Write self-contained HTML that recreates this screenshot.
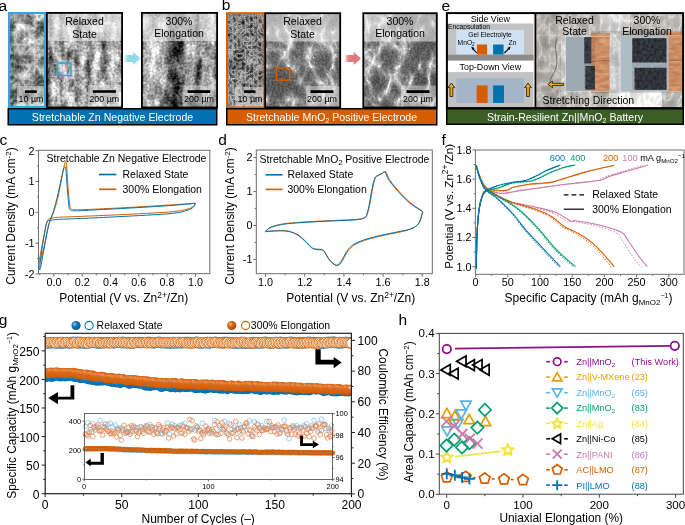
<!DOCTYPE html>
<html><head><meta charset="utf-8"><style>
html,body{margin:0;padding:0;background:#fff;overflow:hidden}
svg{display:block;will-change:transform}
text{font-family:"Liberation Sans",sans-serif}
</style></head><body>
<svg width="685" height="525" viewBox="0 0 685 525" font-family="Liberation Sans, sans-serif">
<defs>
<filter id="soft" x="-20%" y="-20%" width="140%" height="140%"><feGaussianBlur stdDeviation="1.6"/></filter>
<filter id="soft2" x="-20%" y="-20%" width="140%" height="140%"><feGaussianBlur stdDeviation="0.8"/></filter>
<filter id="fa1" x="0" y="0" width="100%" height="100%" color-interpolation-filters="sRGB"><feTurbulence type="fractalNoise" baseFrequency="0.09" numOctaves="4" seed="3" result="t0"/><feColorMatrix in="t0" type="matrix" values="1 0 0 0 0  1 0 0 0 0  1 0 0 0 0  0 0 0 0 1" result="g0"/><feComposite in="SourceGraphic" in2="g0" operator="arithmetic" k1="0" k2="1" k3="1.1" k4="-0.550" result="r0"/><feTurbulence type="turbulence" baseFrequency="0.2" numOctaves="2" seed="8" result="t1"/><feColorMatrix in="t1" type="matrix" values="-1 0 0 0 1  -1 0 0 0 1  -1 0 0 0 1  0 0 0 0 1" result="g1"/><feComposite in="r0" in2="g1" operator="arithmetic" k1="0" k2="1" k3="0.5" k4="-0.355" result="r1"/></filter>
<filter id="fa2" x="0" y="0" width="100%" height="100%" color-interpolation-filters="sRGB"><feTurbulence type="fractalNoise" baseFrequency="0.12 0.06" numOctaves="3" seed="5" result="t0"/><feColorMatrix in="t0" type="matrix" values="1 0 0 0 0  1 0 0 0 0  1 0 0 0 0  0 0 0 0 1" result="g0"/><feComposite in="SourceGraphic" in2="g0" operator="arithmetic" k1="0" k2="1" k3="1.1" k4="-0.550" result="r0"/><feTurbulence type="fractalNoise" baseFrequency="0.4" numOctaves="2" seed="8" result="t1"/><feColorMatrix in="t1" type="matrix" values="1 0 0 0 0  1 0 0 0 0  1 0 0 0 0  0 0 0 0 1" result="g1"/><feComposite in="r0" in2="g1" operator="arithmetic" k1="0" k2="1" k3="0.6" k4="-0.300" result="r1"/></filter>
<filter id="fa3" x="0" y="0" width="100%" height="100%" color-interpolation-filters="sRGB"><feTurbulence type="fractalNoise" baseFrequency="0.1 0.05" numOctaves="3" seed="11" result="t0"/><feColorMatrix in="t0" type="matrix" values="1 0 0 0 0  1 0 0 0 0  1 0 0 0 0  0 0 0 0 1" result="g0"/><feComposite in="SourceGraphic" in2="g0" operator="arithmetic" k1="0" k2="1" k3="1.0" k4="-0.500" result="r0"/><feTurbulence type="fractalNoise" baseFrequency="0.4" numOctaves="2" seed="8" result="t1"/><feColorMatrix in="t1" type="matrix" values="1 0 0 0 0  1 0 0 0 0  1 0 0 0 0  0 0 0 0 1" result="g1"/><feComposite in="r0" in2="g1" operator="arithmetic" k1="0" k2="1" k3="0.6" k4="-0.300" result="r1"/></filter>
<filter id="fb1" x="0" y="0" width="100%" height="100%" color-interpolation-filters="sRGB"><feTurbulence type="turbulence" baseFrequency="0.24" numOctaves="3" seed="4" result="t0"/><feColorMatrix in="t0" type="matrix" values="-1 0 0 0 1  -1 0 0 0 1  -1 0 0 0 1  0 0 0 0 1" result="g0"/><feComposite in="SourceGraphic" in2="g0" operator="arithmetic" k1="0" k2="1" k3="0.9" k4="-0.639" result="r0"/><feTurbulence type="fractalNoise" baseFrequency="0.07" numOctaves="2" seed="6" result="t1"/><feColorMatrix in="t1" type="matrix" values="1 0 0 0 0  1 0 0 0 0  1 0 0 0 0  0 0 0 0 1" result="g1"/><feComposite in="r0" in2="g1" operator="arithmetic" k1="0" k2="1" k3="0.35" k4="-0.175" result="r1"/></filter>
<filter id="fb2" x="0" y="0" width="100%" height="100%" color-interpolation-filters="sRGB"><feTurbulence type="turbulence" baseFrequency="0.045 0.03" numOctaves="3" seed="9" result="t0"/><feColorMatrix in="t0" type="matrix" values="-1 0 0 0 1  -1 0 0 0 1  -1 0 0 0 1  0 0 0 0 1" result="g0"/><feComponentTransfer in="g0" result="h0"><feFuncR type="gamma" amplitude="1" exponent="5" offset="0"/><feFuncG type="gamma" amplitude="1" exponent="5" offset="0"/><feFuncB type="gamma" amplitude="1" exponent="5" offset="0"/></feComponentTransfer><feComposite in="SourceGraphic" in2="h0" operator="arithmetic" k1="0" k2="1" k3="0.75" k4="-0.225" result="r0"/><feTurbulence type="fractalNoise" baseFrequency="0.5" numOctaves="2" seed="3" result="t1"/><feColorMatrix in="t1" type="matrix" values="1 0 0 0 0  1 0 0 0 0  1 0 0 0 0  0 0 0 0 1" result="g1"/><feComposite in="r0" in2="g1" operator="arithmetic" k1="0" k2="1" k3="0.35" k4="-0.175" result="r1"/></filter>
<filter id="fb3" x="0" y="0" width="100%" height="100%" color-interpolation-filters="sRGB"><feTurbulence type="turbulence" baseFrequency="0.05 0.03" numOctaves="3" seed="19" result="t0"/><feColorMatrix in="t0" type="matrix" values="-1 0 0 0 1  -1 0 0 0 1  -1 0 0 0 1  0 0 0 0 1" result="g0"/><feComponentTransfer in="g0" result="h0"><feFuncR type="gamma" amplitude="1" exponent="5" offset="0"/><feFuncG type="gamma" amplitude="1" exponent="5" offset="0"/><feFuncB type="gamma" amplitude="1" exponent="5" offset="0"/></feComponentTransfer><feComposite in="SourceGraphic" in2="h0" operator="arithmetic" k1="0" k2="1" k3="0.75" k4="-0.225" result="r0"/><feTurbulence type="fractalNoise" baseFrequency="0.5" numOctaves="2" seed="3" result="t1"/><feColorMatrix in="t1" type="matrix" values="1 0 0 0 0  1 0 0 0 0  1 0 0 0 0  0 0 0 0 1" result="g1"/><feComposite in="r0" in2="g1" operator="arithmetic" k1="0" k2="1" k3="0.35" k4="-0.175" result="r1"/></filter>
<clipPath id="clip_fa1"><rect x="9" y="13" width="36" height="94"/></clipPath>
<clipPath id="clip_fa2"><rect x="47" y="13" width="75" height="95"/></clipPath>
<linearGradient id="arrA" x1="0" x2="1"><stop offset="0" stop-color="#8fdbe6" stop-opacity="0.2"/><stop offset="0.25" stop-color="#8fdbe6"/></linearGradient>
<clipPath id="clip_fa3"><rect x="142" y="13" width="75" height="95"/></clipPath>
<clipPath id="clip_fb1"><rect x="227" y="13" width="37" height="94"/></clipPath>
<clipPath id="clip_fb2"><rect x="265" y="13" width="75" height="95"/></clipPath>
<linearGradient id="arrB" x1="0" x2="1"><stop offset="0" stop-color="#e07a7f" stop-opacity="0.2"/><stop offset="0.25" stop-color="#e07a7f"/></linearGradient>
<clipPath id="clip_fb3"><rect x="363" y="13" width="74" height="95"/></clipPath>
<clipPath id="clipPhoto"><rect x="536" y="13.5" width="146.5" height="94.5"/></clipPath>
<filter id="fph" x="0" y="0" width="100%" height="100%" color-interpolation-filters="sRGB"><feTurbulence type="fractalNoise" baseFrequency="0.05" numOctaves="4" seed="21" result="t0"/><feColorMatrix in="t0" type="matrix" values="1 0 0 0 0  1 0 0 0 0  1 0 0 0 0  0 0 0 0 1" result="g0"/><feComposite in="SourceGraphic" in2="g0" operator="arithmetic" k1="0" k2="1" k3="0.22" k4="-0.110" result="r0"/><feTurbulence type="turbulence" baseFrequency="0.1 0.07" numOctaves="3" seed="4" result="t1"/><feColorMatrix in="t1" type="matrix" values="-1 0 0 0 1  -1 0 0 0 1  -1 0 0 0 1  0 0 0 0 1" result="g1"/><feComponentTransfer in="g1" result="h1"><feFuncR type="gamma" amplitude="1" exponent="4" offset="0"/><feFuncG type="gamma" amplitude="1" exponent="4" offset="0"/><feFuncB type="gamma" amplitude="1" exponent="4" offset="0"/></feComponentTransfer><feComposite in="r0" in2="h1" operator="arithmetic" k1="0" k2="1" k3="0.25" k4="-0.075" result="r1"/></filter>
<filter id="fdark" x="0" y="0" width="100%" height="100%" color-interpolation-filters="sRGB"><feTurbulence type="fractalNoise" baseFrequency="0.35" numOctaves="3" seed="12" result="t0"/><feColorMatrix in="t0" type="matrix" values="1 0 0 0 0  1 0 0 0 0  1 0 0 0 0  0 0 0 0 1" result="g0"/><feComposite in="SourceGraphic" in2="g0" operator="arithmetic" k1="0" k2="1" k3="0.22" k4="-0.110" result="r0"/></filter>
<filter id="fcu" x="0" y="0" width="100%" height="100%" color-interpolation-filters="sRGB"><feTurbulence type="fractalNoise" baseFrequency="0.1 0.3" numOctaves="3" seed="14" result="t0"/><feColorMatrix in="t0" type="matrix" values="1 0 0 0 0  1 0 0 0 0  1 0 0 0 0  0 0 0 0 1" result="g0"/><feComposite in="SourceGraphic" in2="g0" operator="arithmetic" k1="0" k2="1" k3="0.25" k4="-0.125" result="r0"/></filter>
<clipPath id="clipG"><rect x="45.2" y="333.3" width="306.2" height="160.39999999999998"/></clipPath>
<radialGradient id="gO2" cx="0.32" cy="0.3" r="0.75"><stop offset="0" stop-color="#f7d2b5"/><stop offset="0.3" stop-color="#dc6a1a"/><stop offset="1" stop-color="#cf5800"/></radialGradient>
<radialGradient id="gB2" cx="0.32" cy="0.3" r="0.75"><stop offset="0" stop-color="#a8d4f0"/><stop offset="0.3" stop-color="#1a7fc0"/><stop offset="1" stop-color="#006aa8"/></radialGradient>
<radialGradient id="gB" cx="0.35" cy="0.35" r="0.7"><stop offset="0" stop-color="#9fd0f0"/><stop offset="0.35" stop-color="#1a7fc0"/><stop offset="1" stop-color="#075a92"/></radialGradient>
<radialGradient id="gO" cx="0.35" cy="0.35" r="0.7"><stop offset="0" stop-color="#f6c39a"/><stop offset="0.35" stop-color="#dd6a14"/><stop offset="1" stop-color="#a84500"/></radialGradient>
</defs>
<rect width="685" height="525" fill="#fff"/>
<text x="-1.5" y="10.6" font-size="15.5" fill="#000" text-anchor="start" >a</text>
<text x="221.8" y="10.0" font-size="15.5" fill="#000" text-anchor="start" >b</text>
<text x="441.4" y="10.6" font-size="15.5" fill="#000" text-anchor="start" >e</text>
<g clip-path="url(#clip_fa1)">
<g filter="url(#fa1)">
<rect x="9" y="13" width="36" height="94" fill="#8c8c8c"/>
<g filter="url(#soft)">
<rect x="9" y="13" width="6" height="94" fill="#707070"/>
<ellipse cx="31" cy="44" rx="9" ry="10" fill="#d0d0d0"/>
<ellipse cx="29" cy="47" rx="5" ry="5" fill="#9a9a9a"/>
<ellipse cx="21" cy="28" rx="6" ry="5" fill="#c0c0c0"/>
<ellipse cx="38" cy="62" rx="6" ry="9" fill="#c4c4c4"/>
<ellipse cx="22" cy="62" rx="4" ry="7" fill="#6c6c6c"/>
<ellipse cx="18" cy="80" rx="7" ry="6" fill="#b8b8b8"/>
<ellipse cx="33" cy="80" rx="4" ry="5" fill="#787878"/>
</g>
</g>
</g>
<rect x="17" y="86" width="28" height="21" fill="#f0f0f0" stroke="none" stroke-width="1" opacity="0.45"/>
<rect x="24.9" y="90.3" width="11.9" height="2.6" fill="#000" stroke="none" stroke-width="1" />
<text x="31" y="102.3" font-size="8.9" fill="#000" text-anchor="middle" >10 µm</text>
<rect x="9" y="13" width="36" height="94" fill="none" stroke="#29ABE2" stroke-width="2" />
<g clip-path="url(#clip_fa2)">
<g filter="url(#fa2)">
<rect x="47" y="13" width="75" height="95" fill="#a0a0a0"/>
<g filter="url(#soft)">
<rect x="47" y="13" width="75" height="95" fill="#666666"/>
<rect x="52" y="13" width="8" height="95" rx="3" fill="#b6b6b6"/>
<rect x="63" y="13" width="12.5" height="95" rx="3" fill="#b6b6b6"/>
<rect x="79" y="13" width="8" height="95" rx="3" fill="#b6b6b6"/>
<rect x="91" y="13" width="13" height="95" rx="3" fill="#b6b6b6"/>
<rect x="107" y="13" width="14" height="95" rx="3" fill="#b6b6b6"/>
<ellipse cx="70" cy="95" rx="6" ry="10" fill="#c4c4c4"/>
<ellipse cx="84" cy="55" rx="5" ry="8" fill="#bcbcbc"/>
</g>
</g>
</g>
<rect x="47" y="13" width="75" height="28" fill="#f4f4f4" stroke="none" stroke-width="1" opacity="0.55"/>
<text x="84.5" y="24.8" font-size="10.5" fill="#000" text-anchor="middle" >Relaxed</text>
<text x="84.5" y="37.7" font-size="10.5" fill="#000" text-anchor="middle" >State</text>
<rect x="88" y="85" width="34" height="22" fill="#f0f0f0" stroke="none" stroke-width="1" opacity="0.45"/>
<rect x="92.8" y="90.2" width="23.1" height="2.6" fill="#000" stroke="none" stroke-width="1" />
<text x="104.3" y="102.3" font-size="8.9" fill="#000" text-anchor="middle" >200 µm</text>
<rect x="57.5" y="63" width="13.5" height="12.5" fill="none" stroke="#29ABE2" stroke-width="1.5" />
<rect x="46.9" y="12.9" width="75.2" height="94.6" fill="none" stroke="#000" stroke-width="1.8" />
<path d="M124.2,55 L133.2,55 L133.2,52.1 L140.4,58.5 L133.2,65 L133.2,61.9 L124.2,61.9 Z" stroke="none" stroke-width="1" fill="url(#arrA)" />
<g clip-path="url(#clip_fa3)">
<g filter="url(#fa3)">
<rect x="142" y="13" width="75" height="95" fill="#6c6c6c"/>
<g filter="url(#soft)">
<rect x="142" y="13" width="75" height="95" fill="#4e4e4e"/>
<path d="M146,13 L168,13 C167,40 168,60 166,80 C164,95 160,100 158,108 L143,108 L143,13 Z" fill="#b4b4b4"/>
<path d="M185,13 L196,13 C196,40 195,70 194,95 L186,95 C184,70 184,40 185,13 Z" fill="#a0a0a0"/>
<path d="M200,13 L214,13 L214,100 L203,100 C202,80 200,40 200,13 Z" fill="#b0b0b0"/>
</g>
</g>
</g>
<rect x="142" y="13" width="75" height="28" fill="#f4f4f4" stroke="none" stroke-width="1" opacity="0.55"/>
<text x="179" y="24.8" font-size="10.5" fill="#000" text-anchor="middle" >300%</text>
<text x="179" y="36.9" font-size="10.5" fill="#000" text-anchor="middle" >Elongation</text>
<rect x="182.5" y="85.5" width="34" height="22" fill="#f0f0f0" stroke="none" stroke-width="1" opacity="0.45"/>
<rect x="187.5" y="90.2" width="22.8" height="2.8" fill="#000" stroke="none" stroke-width="1" />
<text x="199" y="102.3" font-size="8.9" fill="#000" text-anchor="middle" >200 µm</text>
<rect x="141.9" y="12.9" width="75.2" height="94.6" fill="none" stroke="#000" stroke-width="1.8" />
<rect x="8.25" y="108.75" width="208.5" height="16" fill="#0072B2" stroke="#000" stroke-width="1.5" />
<text x="112.5" y="121" font-size="10.6" fill="#fff" text-anchor="middle" >Stretchable Zn Negative Electrode</text>
<g clip-path="url(#clip_fb1)">
<g filter="url(#fb1)">
<rect x="227" y="13" width="37" height="94" fill="#808080"/>
</g>
</g>
<rect x="235" y="87" width="29" height="20" fill="#f0f0f0" stroke="none" stroke-width="1" opacity="0.45"/>
<rect x="244" y="90.3" width="11.5" height="2.6" fill="#000" stroke="none" stroke-width="1" />
<text x="250" y="102.3" font-size="8.9" fill="#000" text-anchor="middle" >10 µm</text>
<rect x="227" y="13.2" width="37.4" height="94.3" fill="none" stroke="#D55E00" stroke-width="2" />
<g clip-path="url(#clip_fb2)">
<g filter="url(#fb2)">
<rect x="265" y="13" width="75" height="95" fill="#909090"/>
</g>
</g>
<rect x="265" y="13" width="75" height="28.5" fill="#f4f4f4" stroke="none" stroke-width="1" opacity="0.55"/>
<text x="302.5" y="24.5" font-size="10.5" fill="#000" text-anchor="middle" >Relaxed</text>
<text x="302.5" y="37.5" font-size="10.5" fill="#000" text-anchor="middle" >State</text>
<rect x="306" y="86" width="34" height="21" fill="#f0f0f0" stroke="none" stroke-width="1" opacity="0.45"/>
<rect x="310.5" y="90.2" width="23" height="2.8" fill="#000" stroke="none" stroke-width="1" />
<text x="322" y="102.3" font-size="8.9" fill="#000" text-anchor="middle" >200 µm</text>
<rect x="276.3" y="67.8" width="13.4" height="12.4" fill="none" stroke="#D55E00" stroke-width="1.5" />
<rect x="265.2" y="13.2" width="75" height="94.3" fill="none" stroke="#000" stroke-width="1.8" />
<path d="M344.9,55 L353.7,55 L353.7,52.1 L360.9,58.5 L353.7,65 L353.7,61.9 L344.9,61.9 Z" stroke="none" stroke-width="1" fill="url(#arrB)" />
<g clip-path="url(#clip_fb3)">
<g filter="url(#fb3)">
<rect x="363" y="13" width="74" height="95" fill="#878787"/>
</g>
</g>
<rect x="363" y="13" width="74" height="28.5" fill="#f4f4f4" stroke="none" stroke-width="1" opacity="0.55"/>
<text x="400" y="24.8" font-size="10.5" fill="#000" text-anchor="middle" >300%</text>
<text x="400" y="36.9" font-size="10.5" fill="#000" text-anchor="middle" >Elongation</text>
<rect x="401" y="85.5" width="36" height="22" fill="#f0f0f0" stroke="none" stroke-width="1" opacity="0.45"/>
<rect x="406.5" y="90.2" width="23" height="2.8" fill="#000" stroke="none" stroke-width="1" />
<text x="418" y="102.3" font-size="8.9" fill="#000" text-anchor="middle" >200 µm</text>
<rect x="363.3" y="13.2" width="73.5" height="94.3" fill="none" stroke="#000" stroke-width="1.8" />
<rect x="226.75" y="108.75" width="210" height="16" fill="#D55E00" stroke="#000" stroke-width="1.5" />
<text x="331.5" y="121" font-size="10.6" fill="#fff" text-anchor="middle" >Stretchable MnO<tspan font-size="7" dy="2">2</tspan><tspan dy="-2"> Positive Electrode</tspan></text>
<rect x="447" y="13.5" width="86.5" height="94.5" fill="#c2c2c2" stroke="none" stroke-width="1" />
<rect x="447" y="13.5" width="86.5" height="10" fill="#fff" stroke="none" stroke-width="1" />
<text x="490.3" y="22.2" font-size="8.9" fill="#000" text-anchor="middle" >Side View</text>
<text x="448" y="28.5" font-size="6.7" fill="#000" text-anchor="start" >Encapsulation</text>
<rect x="456.2" y="29.9" width="67.8" height="24.8" fill="#cfe2f3" stroke="none" stroke-width="1" />
<text x="490" y="36.8" font-size="6.7" fill="#000" text-anchor="middle" >Gel Electrolyte</text>
<text x="457.6" y="44.5" font-size="6.7" fill="#000" text-anchor="start" >MnO<tspan font-size="4.8" dy="1.5">2</tspan></text>
<text x="508.6" y="44.5" font-size="6.7" fill="#000" text-anchor="start" >Zn</text>
<rect x="476.9" y="44.5" width="10.2" height="10.2" fill="#D55E00" stroke="none" stroke-width="1" />
<rect x="493.1" y="44.5" width="10.5" height="10.2" fill="#0072B2" stroke="none" stroke-width="1" />
<path d="M476.6,53 L472.8,48.6" stroke="#000" stroke-width="1.1" fill="none" />
<path d="M471.2,46.6 L474.6,47.9 L472.3,50.0 Z" stroke="#000" stroke-width="0" fill="#000" />
<path d="M504.4,53 L508.8,48.6" stroke="#000" stroke-width="1.1" fill="none" />
<path d="M510.6,46.6 L509.5,50.0 L507.2,47.9 Z" stroke="#000" stroke-width="0" fill="#000" />
<rect x="447" y="54.7" width="86.5" height="6" fill="#8c8c8c" stroke="none" stroke-width="1" />
<rect x="447" y="60.7" width="86.5" height="11.4" fill="#fff" stroke="none" stroke-width="1" />
<text x="490.3" y="69.8" font-size="8.9" fill="#000" text-anchor="middle" >Top-Down View</text>
<rect x="456.3" y="78.2" width="67.6" height="24.7" fill="#a4b5c9" stroke="none" stroke-width="1" />
<rect x="476.6" y="85.4" width="11" height="17.5" fill="#D55E00" stroke="none" stroke-width="1" />
<rect x="493.1" y="85.4" width="10.9" height="17.5" fill="#0072B2" stroke="none" stroke-width="1" />
<path d="M451.4,83 L454.79999999999995,87.6 L452.79999999999995,87.6 L452.79999999999995,96.5 L450.0,96.5 L450.0,87.6 L448.0,87.6 Z" stroke="#000" stroke-width="0.7" fill="#F2A900" />
<path d="M528,83 L531.4,87.6 L529.4,87.6 L529.4,96.5 L526.6,96.5 L526.6,87.6 L524.6,87.6 Z" stroke="#000" stroke-width="0.7" fill="#F2A900" />
<g clip-path="url(#clipPhoto)">
<g filter="url(#fph)">
<rect x="536" y="13.5" width="147" height="95" fill="#bcbab4" stroke="none" stroke-width="1" />
<rect x="536" y="13.5" width="30" height="22" fill="#b2b0aa" stroke="none" stroke-width="1" />
<rect x="536" y="36" width="30" height="72" fill="#b3b1ab" stroke="none" stroke-width="1" />
<rect x="561" y="36" width="5" height="60" fill="#cfcfcb" stroke="none" stroke-width="1" />
<rect x="609" y="13.5" width="12" height="95" fill="#e2e2e2" stroke="none" stroke-width="1" />
<rect x="612" y="92" width="50" height="16" fill="#ececec" stroke="none" stroke-width="1" />
<rect x="600" y="13.5" width="30" height="20" fill="#dadada" stroke="none" stroke-width="1" />
</g>
<g filter="url(#fcu)">
<rect x="591" y="33.5" width="18.6" height="58.7" fill="#cc8f66" stroke="none" stroke-width="1" />
<rect x="666.4" y="31.7" width="16" height="60.3" fill="#cc8c64" stroke="none" stroke-width="1" />
</g>
<line x1="591" y1="61.4" x2="609.6" y2="60.5" stroke="#6b4a35" stroke-width="0.6" />
<line x1="666.4" y1="60.5" x2="683" y2="60" stroke="#6b4a35" stroke-width="0.6" />
<rect x="565.8" y="36.8" width="25.2" height="54" fill="#9eaab3" stroke="none" stroke-width="1" />
<g filter="url(#fdark)">
<rect x="584.4" y="37.2" width="6.8" height="26.1" fill="#353a41" stroke="none" stroke-width="1" />
<rect x="585.4" y="66.0" width="9.6" height="23.4" fill="#353a41" stroke="none" stroke-width="1" />
</g>
<rect x="620.4" y="36.1" width="48.2" height="54.7" fill="#aebcc5" stroke="none" stroke-width="1" />
<g filter="url(#fdark)">
<rect x="632.4" y="38.3" width="34" height="24.1" fill="#30343a" stroke="none" stroke-width="1" />
<rect x="634.6" y="67.8" width="31.8" height="21.9" fill="#30343a" stroke="none" stroke-width="1" />
</g>
<rect x="565.5" y="36.5" width="44.5" height="55" fill="none" stroke="#e8e8e8" stroke-width="0.6" opacity="0.7"/>
<rect x="620.2" y="35.8" width="62" height="55.5" fill="none" stroke="#e8e8e8" stroke-width="0.6" opacity="0.7"/>
<path d="M557,38 C553,48 559,58 556,68 C553,76 548,80 551,86" stroke="#4a4a4a" stroke-width="0.7" fill="none" />
</g>
<text x="574.5" y="23.5" font-size="10.5" fill="#000" text-anchor="middle" >Relaxed</text>
<text x="574.5" y="35.4" font-size="10.5" fill="#000" text-anchor="middle" >State</text>
<text x="647" y="23.5" font-size="10.5" fill="#000" text-anchor="middle" >300%</text>
<text x="647" y="35.4" font-size="10.5" fill="#000" text-anchor="middle" >Elongation</text>
<text x="588.4" y="103.5" font-size="10.5" fill="#000" text-anchor="middle" >Stretching Direction</text>
<path d="M547.8,84.4 L552.5,81.2 L552.5,83.3 L563.4,83.3 L563.4,85.5 L552.5,85.5 L552.5,87.6 Z" stroke="#000" stroke-width="0.7" fill="#F2A900" />
<rect x="534.5" y="13" width="1.8" height="95" fill="#000" stroke="none" stroke-width="1" />
<rect x="446.9" y="13.1" width="236.2" height="95" fill="none" stroke="#000" stroke-width="2" />
<rect x="446.75" y="108.75" width="236.5" height="15.5" fill="#3A5E26" stroke="#000" stroke-width="1.5" />
<text x="565" y="120.9" font-size="10.6" fill="#fff" text-anchor="middle" >Strain-Resilient Zn||MnO<tspan font-size="7" dy="2">2</tspan><tspan dy="-2"> Battery</tspan></text>
<text x="-0.5" y="145" font-size="15.5" fill="#000" text-anchor="start" >c</text>
<path d="M195.30,203.10 C194.95,203.68 194.58,205.58 193.20,206.60 C191.82,207.62 190.87,208.32 187.00,209.20 C183.13,210.08 181.17,210.98 170.00,211.90 C158.83,212.82 135.00,213.95 120.00,214.70 C105.00,215.45 90.00,215.98 80.00,216.40 C70.00,216.82 64.67,216.93 60.00,217.20 C55.33,217.47 53.73,217.77 52.00,218.00 C50.27,218.23 50.25,218.30 49.60,218.60 C48.95,218.90 48.67,218.65 48.10,219.80 C47.53,220.95 46.92,222.63 46.20,225.50 C45.48,228.37 44.63,232.92 43.80,237.00 C42.97,241.08 41.93,246.17 41.20,250.00 C40.47,253.83 39.77,257.77 39.40,260.00 C39.03,262.23 38.87,263.15 39.00,263.40 C39.13,263.65 39.73,262.73 40.20,261.50 C40.67,260.27 41.13,258.58 41.80,256.00 C42.47,253.42 43.37,249.83 44.20,246.00 C45.03,242.17 46.00,236.67 46.80,233.00 C47.60,229.33 48.35,226.30 49.00,224.00 C49.65,221.70 50.15,220.60 50.70,219.20 C51.25,217.80 51.72,217.05 52.30,215.60 C52.88,214.15 53.55,212.43 54.20,210.50 C54.85,208.57 55.45,206.75 56.20,204.00 C56.95,201.25 57.77,198.33 58.70,194.00 C59.63,189.67 60.85,182.83 61.80,178.00 C62.75,173.17 63.70,167.73 64.40,165.00 C65.10,162.27 65.58,160.77 66.00,161.60 C66.42,162.43 66.53,165.27 66.90,170.00 C67.27,174.73 67.73,184.17 68.20,190.00 C68.67,195.83 69.30,201.97 69.70,205.00 C70.10,208.03 70.13,207.47 70.60,208.20 C71.07,208.93 71.60,209.15 72.50,209.40 C73.40,209.65 73.92,209.67 76.00,209.70 C78.08,209.73 76.72,209.95 85.00,209.60 C93.28,209.25 111.62,208.37 125.70,207.60 C139.78,206.83 158.78,205.68 169.50,205.00 C180.22,204.32 185.70,203.82 190.00,203.50 C194.30,203.18 194.42,203.17 195.30,203.10" stroke="#D55E00" stroke-width="1.0" fill="none" />
<path d="M195.30,203.30 C194.95,203.95 194.58,206.02 193.20,207.20 C191.82,208.38 190.87,209.33 187.00,210.40 C183.13,211.47 181.17,212.57 170.00,213.60 C158.83,214.63 135.00,215.78 120.00,216.60 C105.00,217.42 90.00,218.05 80.00,218.50 C70.00,218.95 64.67,219.05 60.00,219.30 C55.33,219.55 53.90,219.78 52.00,220.00 C50.10,220.22 49.48,220.20 48.60,220.60 C47.72,221.00 47.30,220.83 46.70,222.40 C46.10,223.97 45.62,226.73 45.00,230.00 C44.38,233.27 43.67,237.67 43.00,242.00 C42.33,246.33 41.53,252.00 41.00,256.00 C40.47,260.00 40.03,263.70 39.80,266.00 C39.57,268.30 39.47,269.55 39.60,269.80 C39.73,270.05 40.17,269.30 40.60,267.50 C41.03,265.70 41.53,262.58 42.20,259.00 C42.87,255.42 43.80,250.33 44.60,246.00 C45.40,241.67 46.27,236.67 47.00,233.00 C47.73,229.33 48.45,226.23 49.00,224.00 C49.55,221.77 49.83,220.97 50.30,219.60 C50.77,218.23 51.30,217.10 51.80,215.80 C52.30,214.50 52.77,213.52 53.30,211.80 C53.83,210.08 54.30,208.13 55.00,205.50 C55.70,202.87 56.57,199.92 57.50,196.00 C58.43,192.08 59.63,186.33 60.60,182.00 C61.57,177.67 62.60,172.45 63.30,170.00 C64.00,167.55 64.37,167.30 64.80,167.30 C65.23,167.30 65.47,166.22 65.90,170.00 C66.33,173.78 66.92,184.17 67.40,190.00 C67.88,195.83 68.43,201.83 68.80,205.00 C69.17,208.17 69.15,208.07 69.60,209.00 C70.05,209.93 70.60,210.30 71.50,210.60 C72.40,210.90 72.75,210.83 75.00,210.80 C77.25,210.77 76.55,210.82 85.00,210.40 C93.45,209.98 111.62,209.10 125.70,208.30 C139.78,207.50 158.78,206.33 169.50,205.60 C180.22,204.87 185.70,204.28 190.00,203.90 C194.30,203.52 194.42,203.40 195.30,203.30" stroke="#0072B2" stroke-width="1.0" fill="none" />
<rect x="38.5" y="150.3" width="171.3" height="123.39999999999998" fill="none" stroke="#6f6f6f" stroke-width="1" />
<line x1="35.5" y1="150.70000000000002" x2="38.5" y2="150.70000000000002" stroke="#6f6f6f" stroke-width="1" />
<line x1="35.5" y1="181.5" x2="38.5" y2="181.5" stroke="#6f6f6f" stroke-width="1" />
<line x1="35.5" y1="212.3" x2="38.5" y2="212.3" stroke="#6f6f6f" stroke-width="1" />
<line x1="35.5" y1="243.10000000000002" x2="38.5" y2="243.10000000000002" stroke="#6f6f6f" stroke-width="1" />
<line x1="35.5" y1="273.90000000000003" x2="38.5" y2="273.90000000000003" stroke="#6f6f6f" stroke-width="1" />
<line x1="36.9" y1="166.10000000000002" x2="38.5" y2="166.10000000000002" stroke="#6f6f6f" stroke-width="1" />
<line x1="36.9" y1="196.9" x2="38.5" y2="196.9" stroke="#6f6f6f" stroke-width="1" />
<line x1="36.9" y1="227.70000000000002" x2="38.5" y2="227.70000000000002" stroke="#6f6f6f" stroke-width="1" />
<line x1="36.9" y1="258.5" x2="38.5" y2="258.5" stroke="#6f6f6f" stroke-width="1" />
<line x1="53.9" y1="273.7" x2="53.9" y2="276.7" stroke="#6f6f6f" stroke-width="1" />
<line x1="82.2" y1="273.7" x2="82.2" y2="276.7" stroke="#6f6f6f" stroke-width="1" />
<line x1="110.5" y1="273.7" x2="110.5" y2="276.7" stroke="#6f6f6f" stroke-width="1" />
<line x1="138.79999999999998" y1="273.7" x2="138.79999999999998" y2="276.7" stroke="#6f6f6f" stroke-width="1" />
<line x1="167.1" y1="273.7" x2="167.1" y2="276.7" stroke="#6f6f6f" stroke-width="1" />
<line x1="195.4" y1="273.7" x2="195.4" y2="276.7" stroke="#6f6f6f" stroke-width="1" />
<line x1="39.75" y1="273.7" x2="39.75" y2="275.3" stroke="#6f6f6f" stroke-width="1" />
<line x1="68.05" y1="273.7" x2="68.05" y2="275.3" stroke="#6f6f6f" stroke-width="1" />
<line x1="96.35" y1="273.7" x2="96.35" y2="275.3" stroke="#6f6f6f" stroke-width="1" />
<line x1="124.65" y1="273.7" x2="124.65" y2="275.3" stroke="#6f6f6f" stroke-width="1" />
<line x1="152.95" y1="273.7" x2="152.95" y2="275.3" stroke="#6f6f6f" stroke-width="1" />
<line x1="181.25" y1="273.7" x2="181.25" y2="275.3" stroke="#6f6f6f" stroke-width="1" />
<text x="34.6" y="154.50000000000003" font-size="10.8" fill="#000" text-anchor="end" >2</text>
<text x="34.6" y="185.3" font-size="10.8" fill="#000" text-anchor="end" >1</text>
<text x="34.6" y="216.10000000000002" font-size="10.8" fill="#000" text-anchor="end" >0</text>
<text x="34.6" y="246.90000000000003" font-size="10.8" fill="#000" text-anchor="end" >-1</text>
<text x="34.6" y="277.70000000000005" font-size="10.8" fill="#000" text-anchor="end" >-2</text>
<text x="53.9" y="286" font-size="10.8" fill="#000" text-anchor="middle" >0.0</text>
<text x="82.2" y="286" font-size="10.8" fill="#000" text-anchor="middle" >0.2</text>
<text x="110.5" y="286" font-size="10.8" fill="#000" text-anchor="middle" >0.4</text>
<text x="138.79999999999998" y="286" font-size="10.8" fill="#000" text-anchor="middle" >0.6</text>
<text x="167.1" y="286" font-size="10.8" fill="#000" text-anchor="middle" >0.8</text>
<text x="195.4" y="286" font-size="10.8" fill="#000" text-anchor="middle" >1.0</text>
<text x="123.7" y="302.1" font-size="12" fill="#000" text-anchor="middle" >Potential (V vs. Zn<tspan font-size="8.4" dy="-4.2">2+</tspan><tspan dy="4.2">/Zn)</tspan></text>
<text x="0" y="0" font-size="11.9" text-anchor="middle" transform="translate(15.0,216.0) rotate(-90)">Current Density (mA cm<tspan font-size="8" dy="-4">-2</tspan><tspan dy="4">)</tspan></text>
<text x="126.5" y="161.6" font-size="10.5" fill="#000" text-anchor="middle" >Stretchable Zn Negative Electrode</text>
<line x1="99" y1="174.5" x2="116.3" y2="174.5" stroke="#0072B2" stroke-width="1.7" />
<line x1="99" y1="189.3" x2="116.3" y2="189.3" stroke="#D55E00" stroke-width="1.7" />
<text x="122.5" y="178.1" font-size="10.5" fill="#000" text-anchor="start" >Relaxed State</text>
<text x="122.5" y="192.8" font-size="10.5" fill="#000" text-anchor="start" >300% Elongation</text>
<text x="218.3" y="145" font-size="15.5" fill="#000" text-anchor="start" >d</text>
<path d="M265.50,231.80 C266.35,231.03 267.32,228.57 270.60,227.20 C273.88,225.83 277.90,224.57 285.20,223.60 C292.50,222.63 305.17,221.97 314.40,221.40 C323.63,220.83 333.57,220.53 340.60,220.20 C347.63,219.87 352.65,219.78 356.60,219.40 C360.55,219.02 362.58,218.58 364.30,217.90 C366.02,217.22 366.03,217.30 366.90,215.30 C367.77,213.30 368.50,210.62 369.50,205.90 C370.50,201.18 371.90,191.72 372.90,187.00 C373.90,182.28 374.65,179.53 375.50,177.60 C376.35,175.67 376.87,176.12 378.00,175.40 C379.13,174.68 381.02,173.93 382.30,173.30 C383.58,172.67 384.55,170.60 385.70,171.60 C386.85,172.60 387.62,176.73 389.20,179.30 C390.78,181.87 392.78,184.13 395.20,187.00 C397.62,189.87 400.85,193.63 403.70,196.50 C406.55,199.37 409.25,201.78 412.30,204.20 C415.35,206.62 420.38,209.43 422.00,211.00 C423.62,212.57 422.47,211.60 422.00,213.60 C421.53,215.60 420.82,220.57 419.20,223.00 C417.58,225.43 415.17,226.77 412.30,228.20 C409.43,229.63 406.57,230.45 402.00,231.60 C397.43,232.75 390.62,233.80 384.90,235.10 C379.18,236.40 372.42,237.97 367.70,239.40 C362.98,240.83 359.37,242.35 356.60,243.70 C353.83,245.05 352.68,246.08 351.10,247.50 C349.52,248.92 348.73,249.70 347.10,252.20 C345.47,254.70 343.12,260.27 341.30,262.50 C339.48,264.73 338.25,266.10 336.20,265.60 C334.15,265.10 330.93,261.73 329.00,259.50 C327.07,257.27 325.82,253.78 324.60,252.20 C323.38,250.62 323.15,250.43 321.70,250.00 C320.25,249.57 317.60,249.97 315.90,249.60 C314.20,249.23 313.45,249.32 311.50,247.80 C309.55,246.28 306.63,242.68 304.20,240.50 C301.77,238.32 300.07,236.35 296.90,234.70 C293.73,233.05 290.43,231.08 285.20,230.60 C279.97,230.12 268.78,231.60 265.50,231.80" stroke="#D55E00" stroke-width="1.0" fill="none" />
<path d="M265.50,231.30 C266.35,230.68 267.32,228.82 270.60,227.60 C273.88,226.38 277.90,224.97 285.20,224.00 C292.50,223.03 305.27,222.37 314.40,221.80 C323.53,221.23 333.07,220.93 340.00,220.60 C346.93,220.27 352.05,220.18 356.00,219.80 C359.95,219.42 361.98,218.98 363.70,218.30 C365.42,217.62 365.43,217.70 366.30,215.70 C367.17,213.70 367.90,211.02 368.90,206.30 C369.90,201.58 371.30,192.12 372.30,187.40 C373.30,182.68 374.05,179.93 374.90,178.00 C375.75,176.07 376.27,176.52 377.40,175.80 C378.53,175.08 380.42,174.33 381.70,173.70 C382.98,173.07 383.95,171.00 385.10,172.00 C386.25,173.00 387.02,177.13 388.60,179.70 C390.18,182.27 392.18,184.53 394.60,187.40 C397.02,190.27 400.25,194.03 403.10,196.90 C405.95,199.77 408.55,202.18 411.70,204.60 C414.85,207.02 420.28,209.83 422.00,211.40 C423.72,212.97 422.57,212.00 422.00,214.00 C421.43,216.00 420.32,220.97 418.60,223.40 C416.88,225.83 414.57,227.32 411.70,228.60 C408.83,229.88 405.97,230.10 401.40,231.10 C396.83,232.10 390.02,233.30 384.30,234.60 C378.58,235.90 371.82,237.47 367.10,238.90 C362.38,240.33 358.77,241.85 356.00,243.20 C353.23,244.55 352.08,245.58 350.50,247.00 C348.92,248.42 348.13,249.20 346.50,251.70 C344.87,254.20 342.52,259.77 340.70,262.00 C338.88,264.23 337.55,265.60 335.60,265.10 C333.65,264.60 330.83,261.23 329.00,259.00 C327.17,256.77 325.82,253.28 324.60,251.70 C323.38,250.12 323.15,249.93 321.70,249.50 C320.25,249.07 317.60,249.47 315.90,249.10 C314.20,248.73 313.45,248.82 311.50,247.30 C309.55,245.78 306.63,242.18 304.20,240.00 C301.77,237.82 300.07,235.70 296.90,234.20 C293.73,232.70 290.43,231.48 285.20,231.00 C279.97,230.52 268.78,231.25 265.50,231.30" stroke="#0072B2" stroke-width="1.0" fill="none" />
<rect x="256.3" y="150.0" width="176.0" height="123.69999999999999" fill="none" stroke="#6f6f6f" stroke-width="1" />
<line x1="253.3" y1="157.5" x2="256.3" y2="157.5" stroke="#6f6f6f" stroke-width="1" />
<line x1="253.3" y1="191.5" x2="256.3" y2="191.5" stroke="#6f6f6f" stroke-width="1" />
<line x1="253.3" y1="225.5" x2="256.3" y2="225.5" stroke="#6f6f6f" stroke-width="1" />
<line x1="253.3" y1="259.5" x2="256.3" y2="259.5" stroke="#6f6f6f" stroke-width="1" />
<line x1="254.70000000000002" y1="174.5" x2="256.3" y2="174.5" stroke="#6f6f6f" stroke-width="1" />
<line x1="254.70000000000002" y1="208.5" x2="256.3" y2="208.5" stroke="#6f6f6f" stroke-width="1" />
<line x1="254.70000000000002" y1="242.5" x2="256.3" y2="242.5" stroke="#6f6f6f" stroke-width="1" />
<line x1="265.5" y1="273.7" x2="265.5" y2="276.7" stroke="#6f6f6f" stroke-width="1" />
<line x1="304.7" y1="273.7" x2="304.7" y2="276.7" stroke="#6f6f6f" stroke-width="1" />
<line x1="343.9" y1="273.7" x2="343.9" y2="276.7" stroke="#6f6f6f" stroke-width="1" />
<line x1="383.1" y1="273.7" x2="383.1" y2="276.7" stroke="#6f6f6f" stroke-width="1" />
<line x1="422.3" y1="273.7" x2="422.3" y2="276.7" stroke="#6f6f6f" stroke-width="1" />
<line x1="285.1" y1="273.7" x2="285.1" y2="275.3" stroke="#6f6f6f" stroke-width="1" />
<line x1="324.3" y1="273.7" x2="324.3" y2="275.3" stroke="#6f6f6f" stroke-width="1" />
<line x1="363.5" y1="273.7" x2="363.5" y2="275.3" stroke="#6f6f6f" stroke-width="1" />
<line x1="402.7" y1="273.7" x2="402.7" y2="275.3" stroke="#6f6f6f" stroke-width="1" />
<text x="252.4" y="161.3" font-size="10.8" fill="#000" text-anchor="end" >2</text>
<text x="252.4" y="195.3" font-size="10.8" fill="#000" text-anchor="end" >1</text>
<text x="252.4" y="229.3" font-size="10.8" fill="#000" text-anchor="end" >0</text>
<text x="252.4" y="263.3" font-size="10.8" fill="#000" text-anchor="end" >-1</text>
<text x="265.5" y="286" font-size="10.8" fill="#000" text-anchor="middle" >1.0</text>
<text x="304.7" y="286" font-size="10.8" fill="#000" text-anchor="middle" >1.2</text>
<text x="343.9" y="286" font-size="10.8" fill="#000" text-anchor="middle" >1.4</text>
<text x="383.1" y="286" font-size="10.8" fill="#000" text-anchor="middle" >1.6</text>
<text x="422.3" y="286" font-size="10.8" fill="#000" text-anchor="middle" >1.8</text>
<text x="350.7" y="302.1" font-size="12" fill="#000" text-anchor="middle" >Potential (V vs. Zn<tspan font-size="8.4" dy="-4.2">2+</tspan><tspan dy="4.2">/Zn)</tspan></text>
<text x="0" y="0" font-size="11.9" text-anchor="middle" transform="translate(234.4,216.0) rotate(-90)">Current Density (mA cm<tspan font-size="8" dy="-4">-2</tspan><tspan dy="4">)</tspan></text>
<text x="344.5" y="163.1" font-size="10.5" fill="#000" text-anchor="middle" >Stretchable MnO<tspan font-size="7.3" dy="2">2</tspan><tspan dy="-2"> Positive Electrode</tspan></text>
<line x1="265.5" y1="174.8" x2="282.6" y2="174.8" stroke="#0072B2" stroke-width="1.6" />
<line x1="265.5" y1="189.4" x2="282.6" y2="189.4" stroke="#D55E00" stroke-width="1.6" />
<text x="287.4" y="178.4" font-size="10.5" fill="#000" text-anchor="start" >Relaxed State</text>
<text x="287.4" y="193.0" font-size="10.5" fill="#000" text-anchor="start" >300% Elongation</text>
<text x="441.6" y="145" font-size="15.5" fill="#000" text-anchor="start" >f</text>
<path d="M476.29,268.60 C476.40,263.10 476.53,245.27 476.97,235.60 C477.40,225.93 478.09,216.93 478.90,210.60 C479.70,204.27 480.60,200.83 481.79,197.60 C482.98,194.37 482.76,191.83 486.04,191.20 C489.32,190.57 495.96,193.83 501.48,193.80 C507.00,193.77 512.52,191.98 519.14,191.00 C525.77,190.02 534.31,188.88 541.25,187.90 C548.18,186.92 552.51,186.15 560.74,185.10 C568.98,184.05 584.53,182.38 590.66,181.60 C596.79,180.82 594.85,181.28 597.52,180.40 C600.19,179.52 602.08,177.90 606.68,176.30 C611.29,174.70 619.18,172.58 625.12,170.80 C631.06,169.02 639.44,166.47 642.30,165.60" stroke="#CC79A7" stroke-width="1.0" fill="none" stroke-dasharray="1.4 1.6"/>
<path d="M476.19,165.80 C476.80,167.68 478.28,173.38 479.86,177.10 C481.44,180.82 481.55,184.13 485.65,188.10 C489.75,192.07 499.37,198.25 504.47,200.90 C509.56,203.55 511.33,202.85 516.24,204.00 C521.14,205.15 528.01,206.38 533.90,207.80 C539.78,209.22 547.08,210.92 551.55,212.50 C556.03,214.08 558.04,215.72 560.72,217.30 C563.41,218.88 565.75,221.33 567.67,222.00 C569.58,222.67 567.62,220.70 572.20,221.30 C576.79,221.90 587.88,223.70 595.17,225.60 C602.45,227.50 611.32,230.12 615.92,232.70 C620.51,235.28 620.10,237.32 622.77,241.10 C625.44,244.88 628.88,251.03 631.93,255.40 C634.99,259.77 639.57,265.32 641.10,267.30" stroke="#CC79A7" stroke-width="1.0" fill="none" stroke-dasharray="1.4 1.6"/>
<path d="M476.30,268.00 C476.42,262.50 476.55,244.67 477.00,235.00 C477.45,225.33 478.17,216.33 479.00,210.00 C479.83,203.67 480.77,200.23 482.00,197.00 C483.23,193.77 483.00,191.23 486.40,190.60 C489.80,189.97 496.68,193.23 502.40,193.20 C508.12,193.17 513.83,191.38 520.70,190.40 C527.57,189.42 536.42,188.28 543.60,187.30 C550.78,186.32 555.27,185.55 563.80,184.50 C572.33,183.45 588.45,181.78 594.80,181.00 C601.15,180.22 599.13,180.68 601.90,179.80 C604.67,178.92 606.63,177.30 611.40,175.70 C616.17,174.10 624.35,171.98 630.50,170.20 C636.65,168.42 645.33,165.87 648.30,165.00" stroke="#CC79A7" stroke-width="1.1" fill="none" />
<path d="M476.20,165.20 C476.83,167.08 478.37,172.78 480.00,176.50 C481.63,180.22 481.75,183.53 486.00,187.50 C490.25,191.47 500.22,197.65 505.50,200.30 C510.78,202.95 512.62,202.25 517.70,203.40 C522.78,204.55 529.90,205.78 536.00,207.20 C542.10,208.62 549.67,210.32 554.30,211.90 C558.93,213.48 561.02,215.12 563.80,216.70 C566.58,218.28 569.02,220.73 571.00,221.40 C572.98,222.07 570.95,220.10 575.70,220.70 C580.45,221.30 591.95,223.10 599.50,225.00 C607.05,226.90 616.23,229.52 621.00,232.10 C625.77,234.68 625.33,236.72 628.10,240.50 C630.87,244.28 634.43,250.43 637.60,254.80 C640.77,259.17 645.52,264.72 647.10,266.70" stroke="#CC79A7" stroke-width="1.1" fill="none" />
<path d="M476.29,268.60 C476.41,263.10 476.54,245.27 476.98,235.60 C477.42,225.93 478.13,216.93 478.95,210.60 C479.76,204.27 480.68,200.87 481.89,197.60 C483.10,194.33 482.37,192.10 486.21,191.00 C490.06,189.90 500.60,191.52 504.97,191.00 C509.34,190.48 508.68,188.92 512.43,187.90 C516.18,186.88 523.05,185.57 527.45,184.90 C531.85,184.23 535.00,184.27 538.84,183.90 C542.69,183.53 546.63,183.48 550.53,182.70 C554.42,181.92 556.37,180.98 562.21,179.20 C568.05,177.42 577.33,174.22 585.58,172.00 C593.83,169.78 607.35,166.92 611.70,165.90" stroke="#D55E00" stroke-width="1.0" fill="none" stroke-dasharray="1.4 1.6"/>
<path d="M476.20,165.80 C476.82,167.77 478.32,173.88 479.93,177.60 C481.53,181.32 482.89,184.98 485.82,188.10 C488.75,191.22 493.07,193.78 497.50,196.30 C501.94,198.82 506.19,200.90 512.43,203.20 C518.66,205.50 528.56,207.75 534.91,210.10 C541.26,212.45 545.98,214.52 550.53,217.30 C555.08,220.08 557.92,224.03 562.21,226.80 C566.50,229.57 571.57,231.12 576.25,233.90 C580.93,236.68 586.40,240.32 590.29,243.50 C594.19,246.68 596.05,249.03 599.62,253.00 C603.19,256.97 609.69,264.92 611.70,267.30" stroke="#D55E00" stroke-width="1.0" fill="none" stroke-dasharray="1.4 1.6"/>
<path d="M476.30,268.00 C476.42,262.50 476.55,244.67 477.00,235.00 C477.45,225.33 478.17,216.33 479.00,210.00 C479.83,203.67 480.77,200.27 482.00,197.00 C483.23,193.73 482.48,191.50 486.40,190.40 C490.32,189.30 501.05,190.92 505.50,190.40 C509.95,189.88 509.28,188.32 513.10,187.30 C516.92,186.28 523.92,184.97 528.40,184.30 C532.88,183.63 536.08,183.67 540.00,183.30 C543.92,182.93 547.93,182.88 551.90,182.10 C555.87,181.32 557.85,180.38 563.80,178.60 C569.75,176.82 579.20,173.62 587.60,171.40 C596.00,169.18 609.77,166.32 614.20,165.30" stroke="#D55E00" stroke-width="1.1" fill="none" />
<path d="M476.20,165.20 C476.83,167.17 478.37,173.28 480.00,177.00 C481.63,180.72 483.02,184.38 486.00,187.50 C488.98,190.62 493.38,193.18 497.90,195.70 C502.42,198.22 506.75,200.30 513.10,202.60 C519.45,204.90 529.53,207.15 536.00,209.50 C542.47,211.85 547.27,213.92 551.90,216.70 C556.53,219.48 559.43,223.43 563.80,226.20 C568.17,228.97 573.33,230.52 578.10,233.30 C582.87,236.08 588.43,239.72 592.40,242.90 C596.37,246.08 598.27,248.43 601.90,252.40 C605.53,256.37 612.15,264.32 614.20,266.70" stroke="#D55E00" stroke-width="1.1" fill="none" />
<path d="M476.30,268.60 C476.41,263.10 476.54,245.27 476.98,235.60 C477.43,225.93 478.13,216.93 478.95,210.60 C479.78,204.27 480.69,200.83 481.91,197.60 C483.12,194.37 483.63,192.70 486.24,191.20 C488.85,189.70 493.19,189.90 497.57,188.60 C501.95,187.30 506.79,184.65 512.54,183.40 C518.29,182.15 526.28,182.63 532.04,181.10 C537.80,179.57 542.10,176.37 547.11,174.20 C552.12,172.03 557.62,169.53 562.08,168.10 C566.55,166.67 571.93,166.02 573.90,165.60" stroke="#009E73" stroke-width="1.0" fill="none" stroke-dasharray="1.4 1.6"/>
<path d="M476.20,165.80 C476.66,167.43 478.00,172.72 478.95,175.60 C479.91,178.48 480.69,180.63 481.91,183.10 C483.12,185.57 482.39,187.43 486.24,190.40 C490.10,193.37 499.42,197.37 505.05,200.90 C510.69,204.43 514.53,206.77 520.03,211.60 C525.52,216.43 532.14,223.40 538.05,229.90 C543.96,236.40 549.51,244.37 555.48,250.60 C561.46,256.83 570.83,264.52 573.90,267.30" stroke="#009E73" stroke-width="1.0" fill="none" stroke-dasharray="1.4 1.6"/>
<path d="M476.30,268.00 C476.42,262.50 476.55,244.67 477.00,235.00 C477.45,225.33 478.17,216.33 479.00,210.00 C479.83,203.67 480.77,200.23 482.00,197.00 C483.23,193.77 483.75,192.10 486.40,190.60 C489.05,189.10 493.45,189.30 497.90,188.00 C502.35,186.70 507.27,184.05 513.10,182.80 C518.93,181.55 527.05,182.03 532.90,180.50 C538.75,178.97 543.12,175.77 548.20,173.60 C553.28,171.43 558.87,168.93 563.40,167.50 C567.93,166.07 573.40,165.42 575.40,165.00" stroke="#009E73" stroke-width="1.1" fill="none" />
<path d="M476.20,165.20 C476.67,166.83 478.03,172.12 479.00,175.00 C479.97,177.88 480.77,180.03 482.00,182.50 C483.23,184.97 482.48,186.83 486.40,189.80 C490.32,192.77 499.78,196.77 505.50,200.30 C511.22,203.83 515.12,206.17 520.70,211.00 C526.28,215.83 533.00,222.80 539.00,229.30 C545.00,235.80 550.63,243.77 556.70,250.00 C562.77,256.23 572.28,263.92 575.40,266.70" stroke="#009E73" stroke-width="1.1" fill="none" />
<path d="M476.29,268.60 C476.41,263.10 476.54,245.27 476.98,235.60 C477.42,225.93 478.13,216.93 478.95,210.60 C479.77,204.27 480.68,200.87 481.89,197.60 C483.10,194.33 483.61,192.92 486.22,191.00 C488.82,189.08 493.14,187.47 497.51,186.10 C501.88,184.73 507.96,183.63 512.44,182.80 C516.93,181.97 520.68,182.15 524.42,181.10 C528.17,180.05 531.19,178.28 534.93,176.50 C538.68,174.72 542.91,172.22 546.92,170.40 C550.93,168.58 556.99,166.40 559.00,165.60" stroke="#0072B2" stroke-width="1.0" fill="none" stroke-dasharray="1.4 1.6"/>
<path d="M476.20,165.80 C476.65,167.60 478.00,173.55 478.95,176.60 C479.90,179.65 480.68,181.70 481.89,184.10 C483.10,186.50 483.61,188.45 486.22,191.00 C488.82,193.55 493.14,195.47 497.51,199.40 C501.88,203.33 507.96,209.52 512.44,214.60 C516.93,219.68 520.02,224.70 524.42,229.90 C528.83,235.10 533.12,239.57 538.86,245.80 C544.61,252.03 555.56,263.72 558.90,267.30" stroke="#0072B2" stroke-width="1.0" fill="none" stroke-dasharray="1.4 1.6"/>
<path d="M476.30,268.00 C476.42,262.50 476.55,244.67 477.00,235.00 C477.45,225.33 478.17,216.33 479.00,210.00 C479.83,203.67 480.77,200.27 482.00,197.00 C483.23,193.73 483.75,192.32 486.40,190.40 C489.05,188.48 493.45,186.87 497.90,185.50 C502.35,184.13 508.53,183.03 513.10,182.20 C517.67,181.37 521.48,181.55 525.30,180.50 C529.12,179.45 532.18,177.68 536.00,175.90 C539.82,174.12 544.12,171.62 548.20,169.80 C552.28,167.98 558.45,165.80 560.50,165.00" stroke="#0072B2" stroke-width="1.1" fill="none" />
<path d="M476.20,165.20 C476.67,167.00 478.03,172.95 479.00,176.00 C479.97,179.05 480.77,181.10 482.00,183.50 C483.23,185.90 483.75,187.85 486.40,190.40 C489.05,192.95 493.45,194.87 497.90,198.80 C502.35,202.73 508.53,208.92 513.10,214.00 C517.67,219.08 520.82,224.10 525.30,229.30 C529.78,234.50 534.15,238.97 540.00,245.20 C545.85,251.43 557.00,263.12 560.40,266.70" stroke="#0072B2" stroke-width="1.1" fill="none" />
<rect x="476" y="274.8" width="10" height="6" fill="#fff" stroke="none" stroke-width="1" />
<rect x="475.4" y="150.0" width="208.60000000000002" height="124.30000000000001" fill="none" stroke="#6f6f6f" stroke-width="1" />
<line x1="472.4" y1="266.7" x2="475.4" y2="266.7" stroke="#6f6f6f" stroke-width="1" />
<line x1="472.4" y1="237.5" x2="475.4" y2="237.5" stroke="#6f6f6f" stroke-width="1" />
<line x1="472.4" y1="208.3" x2="475.4" y2="208.3" stroke="#6f6f6f" stroke-width="1" />
<line x1="472.4" y1="179.09999999999997" x2="475.4" y2="179.09999999999997" stroke="#6f6f6f" stroke-width="1" />
<line x1="472.4" y1="149.89999999999998" x2="475.4" y2="149.89999999999998" stroke="#6f6f6f" stroke-width="1" />
<line x1="473.79999999999995" y1="252.09999999999997" x2="475.4" y2="252.09999999999997" stroke="#6f6f6f" stroke-width="1" />
<line x1="473.79999999999995" y1="222.89999999999998" x2="475.4" y2="222.89999999999998" stroke="#6f6f6f" stroke-width="1" />
<line x1="473.79999999999995" y1="193.7" x2="475.4" y2="193.7" stroke="#6f6f6f" stroke-width="1" />
<line x1="473.79999999999995" y1="164.5" x2="475.4" y2="164.5" stroke="#6f6f6f" stroke-width="1" />
<line x1="475.6" y1="274.3" x2="475.6" y2="277.3" stroke="#6f6f6f" stroke-width="1" />
<line x1="507.8" y1="274.3" x2="507.8" y2="277.3" stroke="#6f6f6f" stroke-width="1" />
<line x1="540.0" y1="274.3" x2="540.0" y2="277.3" stroke="#6f6f6f" stroke-width="1" />
<line x1="572.2" y1="274.3" x2="572.2" y2="277.3" stroke="#6f6f6f" stroke-width="1" />
<line x1="604.4000000000001" y1="274.3" x2="604.4000000000001" y2="277.3" stroke="#6f6f6f" stroke-width="1" />
<line x1="636.6" y1="274.3" x2="636.6" y2="277.3" stroke="#6f6f6f" stroke-width="1" />
<line x1="668.8000000000001" y1="274.3" x2="668.8000000000001" y2="277.3" stroke="#6f6f6f" stroke-width="1" />
<line x1="491.70000000000005" y1="274.3" x2="491.70000000000005" y2="275.90000000000003" stroke="#6f6f6f" stroke-width="1" />
<line x1="523.9" y1="274.3" x2="523.9" y2="275.90000000000003" stroke="#6f6f6f" stroke-width="1" />
<line x1="556.1" y1="274.3" x2="556.1" y2="275.90000000000003" stroke="#6f6f6f" stroke-width="1" />
<line x1="588.3000000000001" y1="274.3" x2="588.3000000000001" y2="275.90000000000003" stroke="#6f6f6f" stroke-width="1" />
<line x1="620.5" y1="274.3" x2="620.5" y2="275.90000000000003" stroke="#6f6f6f" stroke-width="1" />
<line x1="652.7" y1="274.3" x2="652.7" y2="275.90000000000003" stroke="#6f6f6f" stroke-width="1" />
<text x="471.6" y="270.5" font-size="10.8" fill="#000" text-anchor="end" >1.0</text>
<text x="471.6" y="241.3" font-size="10.8" fill="#000" text-anchor="end" >1.2</text>
<text x="471.6" y="212.10000000000002" font-size="10.8" fill="#000" text-anchor="end" >1.4</text>
<text x="471.6" y="182.89999999999998" font-size="10.8" fill="#000" text-anchor="end" >1.6</text>
<text x="471.6" y="153.7" font-size="10.8" fill="#000" text-anchor="end" >1.8</text>
<text x="475.6" y="286" font-size="10.8" fill="#000" text-anchor="middle" >0</text>
<text x="507.8" y="286" font-size="10.8" fill="#000" text-anchor="middle" >50</text>
<text x="540.0" y="286" font-size="10.8" fill="#000" text-anchor="middle" >100</text>
<text x="572.2" y="286" font-size="10.8" fill="#000" text-anchor="middle" >150</text>
<text x="604.4000000000001" y="286" font-size="10.8" fill="#000" text-anchor="middle" >200</text>
<text x="636.6" y="286" font-size="10.8" fill="#000" text-anchor="middle" >250</text>
<text x="668.8000000000001" y="286" font-size="10.8" fill="#000" text-anchor="middle" >300</text>
<text x="588.5" y="302.1" font-size="12" fill="#000" text-anchor="middle" >Specific Capacity (mAh g<tspan font-size="8" dy="2.6">MnO2</tspan><tspan font-size="7" dy="-6.6">−1</tspan><tspan dy="4">)</tspan></text>
<text x="0" y="0" font-size="11.6" text-anchor="middle" transform="translate(452.6,206.4) rotate(-90)">Potential (V vs. Zn<tspan font-size="8.4" dy="-4.2">2+</tspan><tspan dy="4.2">/Zn)</tspan></text>
<text x="557.5" y="161.3" font-size="9.2" fill="#0072B2" text-anchor="middle" >600</text>
<text x="577.8" y="161.3" font-size="9.2" fill="#009E73" text-anchor="middle" >400</text>
<text x="610.6" y="161.3" font-size="9.2" fill="#D55E00" text-anchor="middle" >200</text>
<text x="630.0" y="161.3" font-size="9.2" fill="#CC79A7" text-anchor="middle" >100</text>
<text x="640.2" y="161.3" font-size="9.2" fill="#000" text-anchor="start" >mA g<tspan font-size="6.2" dy="1.8">MnO2</tspan><tspan font-size="6.2" dy="-5.5">−1</tspan></text>
<line x1="563.8" y1="194.8" x2="584.2" y2="194.8" stroke="#000" stroke-width="1.3" stroke-dasharray="4.6 3.2"/>
<line x1="563.8" y1="209.2" x2="584" y2="209.2" stroke="#000" stroke-width="1.2" />
<text x="592.2" y="198.3" font-size="10.5" fill="#000" text-anchor="start" >Relaxed State</text>
<text x="592.2" y="213.1" font-size="10.5" fill="#000" text-anchor="start" >300% Elongation</text>
<text x="-1.2" y="325" font-size="15.5" fill="#000" text-anchor="start" >g</text>
<g clip-path="url(#clipG)">
<circle cx="46.6" cy="343.0" r="4.9" fill="#fff" stroke="#0072B2" stroke-width="0.7"/>
<circle cx="48.2" cy="343.3" r="4.9" fill="#fff" stroke="#0072B2" stroke-width="0.7"/>
<circle cx="49.7" cy="342.4" r="4.9" fill="#fff" stroke="#0072B2" stroke-width="0.7"/>
<circle cx="51.2" cy="343.4" r="4.9" fill="#fff" stroke="#0072B2" stroke-width="0.7"/>
<circle cx="52.8" cy="342.6" r="4.9" fill="#fff" stroke="#0072B2" stroke-width="0.7"/>
<circle cx="54.3" cy="342.9" r="4.9" fill="#fff" stroke="#0072B2" stroke-width="0.7"/>
<circle cx="55.8" cy="343.4" r="4.9" fill="#fff" stroke="#0072B2" stroke-width="0.7"/>
<circle cx="57.4" cy="342.7" r="4.9" fill="#fff" stroke="#0072B2" stroke-width="0.7"/>
<circle cx="58.9" cy="343.5" r="4.9" fill="#fff" stroke="#0072B2" stroke-width="0.7"/>
<circle cx="60.4" cy="342.8" r="4.9" fill="#fff" stroke="#0072B2" stroke-width="0.7"/>
<circle cx="62.0" cy="343.4" r="4.9" fill="#fff" stroke="#0072B2" stroke-width="0.7"/>
<circle cx="63.5" cy="343.4" r="4.9" fill="#fff" stroke="#0072B2" stroke-width="0.7"/>
<circle cx="65.0" cy="342.8" r="4.9" fill="#fff" stroke="#0072B2" stroke-width="0.7"/>
<circle cx="66.5" cy="342.2" r="4.9" fill="#fff" stroke="#0072B2" stroke-width="0.7"/>
<circle cx="68.1" cy="343.3" r="4.9" fill="#fff" stroke="#0072B2" stroke-width="0.7"/>
<circle cx="69.6" cy="343.2" r="4.9" fill="#fff" stroke="#0072B2" stroke-width="0.7"/>
<circle cx="71.1" cy="342.5" r="4.9" fill="#fff" stroke="#0072B2" stroke-width="0.7"/>
<circle cx="72.7" cy="341.9" r="4.9" fill="#fff" stroke="#0072B2" stroke-width="0.7"/>
<circle cx="74.2" cy="342.6" r="4.9" fill="#fff" stroke="#0072B2" stroke-width="0.7"/>
<circle cx="75.7" cy="342.9" r="4.9" fill="#fff" stroke="#0072B2" stroke-width="0.7"/>
<circle cx="77.3" cy="341.9" r="4.9" fill="#fff" stroke="#0072B2" stroke-width="0.7"/>
<circle cx="78.8" cy="343.5" r="4.9" fill="#fff" stroke="#0072B2" stroke-width="0.7"/>
<circle cx="80.3" cy="342.1" r="4.9" fill="#fff" stroke="#0072B2" stroke-width="0.7"/>
<circle cx="81.9" cy="343.1" r="4.9" fill="#fff" stroke="#0072B2" stroke-width="0.7"/>
<circle cx="83.4" cy="343.3" r="4.9" fill="#fff" stroke="#0072B2" stroke-width="0.7"/>
<circle cx="84.9" cy="343.3" r="4.9" fill="#fff" stroke="#0072B2" stroke-width="0.7"/>
<circle cx="86.5" cy="343.0" r="4.9" fill="#fff" stroke="#0072B2" stroke-width="0.7"/>
<circle cx="88.0" cy="342.2" r="4.9" fill="#fff" stroke="#0072B2" stroke-width="0.7"/>
<circle cx="89.5" cy="343.2" r="4.9" fill="#fff" stroke="#0072B2" stroke-width="0.7"/>
<circle cx="91.1" cy="342.6" r="4.9" fill="#fff" stroke="#0072B2" stroke-width="0.7"/>
<circle cx="92.6" cy="342.5" r="4.9" fill="#fff" stroke="#0072B2" stroke-width="0.7"/>
<circle cx="94.1" cy="342.9" r="4.9" fill="#fff" stroke="#0072B2" stroke-width="0.7"/>
<circle cx="95.7" cy="342.6" r="4.9" fill="#fff" stroke="#0072B2" stroke-width="0.7"/>
<circle cx="97.2" cy="343.4" r="4.9" fill="#fff" stroke="#0072B2" stroke-width="0.7"/>
<circle cx="98.7" cy="343.4" r="4.9" fill="#fff" stroke="#0072B2" stroke-width="0.7"/>
<circle cx="100.3" cy="343.2" r="4.9" fill="#fff" stroke="#0072B2" stroke-width="0.7"/>
<circle cx="101.8" cy="342.4" r="4.9" fill="#fff" stroke="#0072B2" stroke-width="0.7"/>
<circle cx="103.3" cy="342.8" r="4.9" fill="#fff" stroke="#0072B2" stroke-width="0.7"/>
<circle cx="104.8" cy="343.0" r="4.9" fill="#fff" stroke="#0072B2" stroke-width="0.7"/>
<circle cx="106.4" cy="342.6" r="4.9" fill="#fff" stroke="#0072B2" stroke-width="0.7"/>
<circle cx="107.9" cy="342.8" r="4.9" fill="#fff" stroke="#0072B2" stroke-width="0.7"/>
<circle cx="109.4" cy="343.0" r="4.9" fill="#fff" stroke="#0072B2" stroke-width="0.7"/>
<circle cx="111.0" cy="342.2" r="4.9" fill="#fff" stroke="#0072B2" stroke-width="0.7"/>
<circle cx="112.5" cy="342.4" r="4.9" fill="#fff" stroke="#0072B2" stroke-width="0.7"/>
<circle cx="114.0" cy="343.1" r="4.9" fill="#fff" stroke="#0072B2" stroke-width="0.7"/>
<circle cx="115.6" cy="342.6" r="4.9" fill="#fff" stroke="#0072B2" stroke-width="0.7"/>
<circle cx="117.1" cy="342.7" r="4.9" fill="#fff" stroke="#0072B2" stroke-width="0.7"/>
<circle cx="118.6" cy="342.1" r="4.9" fill="#fff" stroke="#0072B2" stroke-width="0.7"/>
<circle cx="120.2" cy="342.3" r="4.9" fill="#fff" stroke="#0072B2" stroke-width="0.7"/>
<circle cx="121.7" cy="343.1" r="4.9" fill="#fff" stroke="#0072B2" stroke-width="0.7"/>
<circle cx="123.2" cy="341.9" r="4.9" fill="#fff" stroke="#0072B2" stroke-width="0.7"/>
<circle cx="124.8" cy="343.3" r="4.9" fill="#fff" stroke="#0072B2" stroke-width="0.7"/>
<circle cx="126.3" cy="342.8" r="4.9" fill="#fff" stroke="#0072B2" stroke-width="0.7"/>
<circle cx="127.8" cy="342.3" r="4.9" fill="#fff" stroke="#0072B2" stroke-width="0.7"/>
<circle cx="129.4" cy="343.3" r="4.9" fill="#fff" stroke="#0072B2" stroke-width="0.7"/>
<circle cx="130.9" cy="342.7" r="4.9" fill="#fff" stroke="#0072B2" stroke-width="0.7"/>
<circle cx="132.4" cy="343.5" r="4.9" fill="#fff" stroke="#0072B2" stroke-width="0.7"/>
<circle cx="134.0" cy="342.4" r="4.9" fill="#fff" stroke="#0072B2" stroke-width="0.7"/>
<circle cx="135.5" cy="342.3" r="4.9" fill="#fff" stroke="#0072B2" stroke-width="0.7"/>
<circle cx="137.0" cy="342.6" r="4.9" fill="#fff" stroke="#0072B2" stroke-width="0.7"/>
<circle cx="138.6" cy="342.1" r="4.9" fill="#fff" stroke="#0072B2" stroke-width="0.7"/>
<circle cx="140.1" cy="343.0" r="4.9" fill="#fff" stroke="#0072B2" stroke-width="0.7"/>
<circle cx="141.6" cy="342.4" r="4.9" fill="#fff" stroke="#0072B2" stroke-width="0.7"/>
<circle cx="143.1" cy="342.5" r="4.9" fill="#fff" stroke="#0072B2" stroke-width="0.7"/>
<circle cx="144.7" cy="342.6" r="4.9" fill="#fff" stroke="#0072B2" stroke-width="0.7"/>
<circle cx="146.2" cy="342.8" r="4.9" fill="#fff" stroke="#0072B2" stroke-width="0.7"/>
<circle cx="147.7" cy="342.1" r="4.9" fill="#fff" stroke="#0072B2" stroke-width="0.7"/>
<circle cx="149.3" cy="342.0" r="4.9" fill="#fff" stroke="#0072B2" stroke-width="0.7"/>
<circle cx="150.8" cy="342.7" r="4.9" fill="#fff" stroke="#0072B2" stroke-width="0.7"/>
<circle cx="152.3" cy="342.4" r="4.9" fill="#fff" stroke="#0072B2" stroke-width="0.7"/>
<circle cx="153.9" cy="343.4" r="4.9" fill="#fff" stroke="#0072B2" stroke-width="0.7"/>
<circle cx="155.4" cy="342.4" r="4.9" fill="#fff" stroke="#0072B2" stroke-width="0.7"/>
<circle cx="156.9" cy="342.5" r="4.9" fill="#fff" stroke="#0072B2" stroke-width="0.7"/>
<circle cx="158.5" cy="341.9" r="4.9" fill="#fff" stroke="#0072B2" stroke-width="0.7"/>
<circle cx="160.0" cy="342.2" r="4.9" fill="#fff" stroke="#0072B2" stroke-width="0.7"/>
<circle cx="161.5" cy="343.1" r="4.9" fill="#fff" stroke="#0072B2" stroke-width="0.7"/>
<circle cx="163.1" cy="342.9" r="4.9" fill="#fff" stroke="#0072B2" stroke-width="0.7"/>
<circle cx="164.6" cy="342.4" r="4.9" fill="#fff" stroke="#0072B2" stroke-width="0.7"/>
<circle cx="166.1" cy="343.5" r="4.9" fill="#fff" stroke="#0072B2" stroke-width="0.7"/>
<circle cx="167.7" cy="342.8" r="4.9" fill="#fff" stroke="#0072B2" stroke-width="0.7"/>
<circle cx="169.2" cy="343.3" r="4.9" fill="#fff" stroke="#0072B2" stroke-width="0.7"/>
<circle cx="170.7" cy="343.3" r="4.9" fill="#fff" stroke="#0072B2" stroke-width="0.7"/>
<circle cx="172.3" cy="343.4" r="4.9" fill="#fff" stroke="#0072B2" stroke-width="0.7"/>
<circle cx="173.8" cy="342.2" r="4.9" fill="#fff" stroke="#0072B2" stroke-width="0.7"/>
<circle cx="175.3" cy="343.3" r="4.9" fill="#fff" stroke="#0072B2" stroke-width="0.7"/>
<circle cx="176.9" cy="343.1" r="4.9" fill="#fff" stroke="#0072B2" stroke-width="0.7"/>
<circle cx="178.4" cy="342.9" r="4.9" fill="#fff" stroke="#0072B2" stroke-width="0.7"/>
<circle cx="179.9" cy="342.1" r="4.9" fill="#fff" stroke="#0072B2" stroke-width="0.7"/>
<circle cx="181.4" cy="343.4" r="4.9" fill="#fff" stroke="#0072B2" stroke-width="0.7"/>
<circle cx="183.0" cy="342.8" r="4.9" fill="#fff" stroke="#0072B2" stroke-width="0.7"/>
<circle cx="184.5" cy="342.6" r="4.9" fill="#fff" stroke="#0072B2" stroke-width="0.7"/>
<circle cx="186.0" cy="342.1" r="4.9" fill="#fff" stroke="#0072B2" stroke-width="0.7"/>
<circle cx="187.6" cy="342.2" r="4.9" fill="#fff" stroke="#0072B2" stroke-width="0.7"/>
<circle cx="189.1" cy="342.1" r="4.9" fill="#fff" stroke="#0072B2" stroke-width="0.7"/>
<circle cx="190.6" cy="343.1" r="4.9" fill="#fff" stroke="#0072B2" stroke-width="0.7"/>
<circle cx="192.2" cy="342.8" r="4.9" fill="#fff" stroke="#0072B2" stroke-width="0.7"/>
<circle cx="193.7" cy="342.9" r="4.9" fill="#fff" stroke="#0072B2" stroke-width="0.7"/>
<circle cx="195.2" cy="342.1" r="4.9" fill="#fff" stroke="#0072B2" stroke-width="0.7"/>
<circle cx="196.8" cy="341.9" r="4.9" fill="#fff" stroke="#0072B2" stroke-width="0.7"/>
<circle cx="198.3" cy="343.3" r="4.9" fill="#fff" stroke="#0072B2" stroke-width="0.7"/>
<circle cx="199.8" cy="343.2" r="4.9" fill="#fff" stroke="#0072B2" stroke-width="0.7"/>
<circle cx="201.4" cy="343.2" r="4.9" fill="#fff" stroke="#0072B2" stroke-width="0.7"/>
<circle cx="202.9" cy="343.2" r="4.9" fill="#fff" stroke="#0072B2" stroke-width="0.7"/>
<circle cx="204.4" cy="342.7" r="4.9" fill="#fff" stroke="#0072B2" stroke-width="0.7"/>
<circle cx="206.0" cy="342.6" r="4.9" fill="#fff" stroke="#0072B2" stroke-width="0.7"/>
<circle cx="207.5" cy="343.1" r="4.9" fill="#fff" stroke="#0072B2" stroke-width="0.7"/>
<circle cx="209.0" cy="343.5" r="4.9" fill="#fff" stroke="#0072B2" stroke-width="0.7"/>
<circle cx="210.6" cy="342.8" r="4.9" fill="#fff" stroke="#0072B2" stroke-width="0.7"/>
<circle cx="212.1" cy="342.9" r="4.9" fill="#fff" stroke="#0072B2" stroke-width="0.7"/>
<circle cx="213.6" cy="342.6" r="4.9" fill="#fff" stroke="#0072B2" stroke-width="0.7"/>
<circle cx="215.2" cy="341.9" r="4.9" fill="#fff" stroke="#0072B2" stroke-width="0.7"/>
<circle cx="216.7" cy="342.4" r="4.9" fill="#fff" stroke="#0072B2" stroke-width="0.7"/>
<circle cx="218.2" cy="342.7" r="4.9" fill="#fff" stroke="#0072B2" stroke-width="0.7"/>
<circle cx="219.7" cy="342.5" r="4.9" fill="#fff" stroke="#0072B2" stroke-width="0.7"/>
<circle cx="221.3" cy="342.4" r="4.9" fill="#fff" stroke="#0072B2" stroke-width="0.7"/>
<circle cx="222.8" cy="343.5" r="4.9" fill="#fff" stroke="#0072B2" stroke-width="0.7"/>
<circle cx="224.3" cy="342.0" r="4.9" fill="#fff" stroke="#0072B2" stroke-width="0.7"/>
<circle cx="225.9" cy="342.2" r="4.9" fill="#fff" stroke="#0072B2" stroke-width="0.7"/>
<circle cx="227.4" cy="342.1" r="4.9" fill="#fff" stroke="#0072B2" stroke-width="0.7"/>
<circle cx="228.9" cy="342.2" r="4.9" fill="#fff" stroke="#0072B2" stroke-width="0.7"/>
<circle cx="230.5" cy="342.9" r="4.9" fill="#fff" stroke="#0072B2" stroke-width="0.7"/>
<circle cx="232.0" cy="342.9" r="4.9" fill="#fff" stroke="#0072B2" stroke-width="0.7"/>
<circle cx="233.5" cy="343.4" r="4.9" fill="#fff" stroke="#0072B2" stroke-width="0.7"/>
<circle cx="235.1" cy="342.5" r="4.9" fill="#fff" stroke="#0072B2" stroke-width="0.7"/>
<circle cx="236.6" cy="343.4" r="4.9" fill="#fff" stroke="#0072B2" stroke-width="0.7"/>
<circle cx="238.1" cy="343.4" r="4.9" fill="#fff" stroke="#0072B2" stroke-width="0.7"/>
<circle cx="239.7" cy="343.2" r="4.9" fill="#fff" stroke="#0072B2" stroke-width="0.7"/>
<circle cx="241.2" cy="343.3" r="4.9" fill="#fff" stroke="#0072B2" stroke-width="0.7"/>
<circle cx="242.7" cy="343.0" r="4.9" fill="#fff" stroke="#0072B2" stroke-width="0.7"/>
<circle cx="244.3" cy="343.5" r="4.9" fill="#fff" stroke="#0072B2" stroke-width="0.7"/>
<circle cx="245.8" cy="343.5" r="4.9" fill="#fff" stroke="#0072B2" stroke-width="0.7"/>
<circle cx="247.3" cy="343.3" r="4.9" fill="#fff" stroke="#0072B2" stroke-width="0.7"/>
<circle cx="248.9" cy="343.4" r="4.9" fill="#fff" stroke="#0072B2" stroke-width="0.7"/>
<circle cx="250.4" cy="342.9" r="4.9" fill="#fff" stroke="#0072B2" stroke-width="0.7"/>
<circle cx="251.9" cy="343.5" r="4.9" fill="#fff" stroke="#0072B2" stroke-width="0.7"/>
<circle cx="253.5" cy="342.1" r="4.9" fill="#fff" stroke="#0072B2" stroke-width="0.7"/>
<circle cx="255.0" cy="342.5" r="4.9" fill="#fff" stroke="#0072B2" stroke-width="0.7"/>
<circle cx="256.5" cy="343.3" r="4.9" fill="#fff" stroke="#0072B2" stroke-width="0.7"/>
<circle cx="258.0" cy="343.1" r="4.9" fill="#fff" stroke="#0072B2" stroke-width="0.7"/>
<circle cx="259.6" cy="343.0" r="4.9" fill="#fff" stroke="#0072B2" stroke-width="0.7"/>
<circle cx="261.1" cy="342.9" r="4.9" fill="#fff" stroke="#0072B2" stroke-width="0.7"/>
<circle cx="262.6" cy="343.3" r="4.9" fill="#fff" stroke="#0072B2" stroke-width="0.7"/>
<circle cx="264.2" cy="342.1" r="4.9" fill="#fff" stroke="#0072B2" stroke-width="0.7"/>
<circle cx="265.7" cy="341.9" r="4.9" fill="#fff" stroke="#0072B2" stroke-width="0.7"/>
<circle cx="267.2" cy="342.8" r="4.9" fill="#fff" stroke="#0072B2" stroke-width="0.7"/>
<circle cx="268.8" cy="342.7" r="4.9" fill="#fff" stroke="#0072B2" stroke-width="0.7"/>
<circle cx="270.3" cy="343.4" r="4.9" fill="#fff" stroke="#0072B2" stroke-width="0.7"/>
<circle cx="271.8" cy="343.4" r="4.9" fill="#fff" stroke="#0072B2" stroke-width="0.7"/>
<circle cx="273.4" cy="343.0" r="4.9" fill="#fff" stroke="#0072B2" stroke-width="0.7"/>
<circle cx="274.9" cy="343.1" r="4.9" fill="#fff" stroke="#0072B2" stroke-width="0.7"/>
<circle cx="276.4" cy="342.1" r="4.9" fill="#fff" stroke="#0072B2" stroke-width="0.7"/>
<circle cx="278.0" cy="343.3" r="4.9" fill="#fff" stroke="#0072B2" stroke-width="0.7"/>
<circle cx="279.5" cy="343.5" r="4.9" fill="#fff" stroke="#0072B2" stroke-width="0.7"/>
<circle cx="281.0" cy="341.9" r="4.9" fill="#fff" stroke="#0072B2" stroke-width="0.7"/>
<circle cx="282.6" cy="342.7" r="4.9" fill="#fff" stroke="#0072B2" stroke-width="0.7"/>
<circle cx="284.1" cy="343.3" r="4.9" fill="#fff" stroke="#0072B2" stroke-width="0.7"/>
<circle cx="285.6" cy="342.6" r="4.9" fill="#fff" stroke="#0072B2" stroke-width="0.7"/>
<circle cx="287.2" cy="343.5" r="4.9" fill="#fff" stroke="#0072B2" stroke-width="0.7"/>
<circle cx="288.7" cy="342.7" r="4.9" fill="#fff" stroke="#0072B2" stroke-width="0.7"/>
<circle cx="290.2" cy="341.9" r="4.9" fill="#fff" stroke="#0072B2" stroke-width="0.7"/>
<circle cx="291.8" cy="342.1" r="4.9" fill="#fff" stroke="#0072B2" stroke-width="0.7"/>
<circle cx="293.3" cy="342.4" r="4.9" fill="#fff" stroke="#0072B2" stroke-width="0.7"/>
<circle cx="294.8" cy="343.1" r="4.9" fill="#fff" stroke="#0072B2" stroke-width="0.7"/>
<circle cx="296.3" cy="342.9" r="4.9" fill="#fff" stroke="#0072B2" stroke-width="0.7"/>
<circle cx="297.9" cy="343.3" r="4.9" fill="#fff" stroke="#0072B2" stroke-width="0.7"/>
<circle cx="299.4" cy="342.2" r="4.9" fill="#fff" stroke="#0072B2" stroke-width="0.7"/>
<circle cx="300.9" cy="342.6" r="4.9" fill="#fff" stroke="#0072B2" stroke-width="0.7"/>
<circle cx="302.5" cy="342.2" r="4.9" fill="#fff" stroke="#0072B2" stroke-width="0.7"/>
<circle cx="304.0" cy="343.0" r="4.9" fill="#fff" stroke="#0072B2" stroke-width="0.7"/>
<circle cx="305.5" cy="343.2" r="4.9" fill="#fff" stroke="#0072B2" stroke-width="0.7"/>
<circle cx="307.1" cy="342.2" r="4.9" fill="#fff" stroke="#0072B2" stroke-width="0.7"/>
<circle cx="308.6" cy="341.9" r="4.9" fill="#fff" stroke="#0072B2" stroke-width="0.7"/>
<circle cx="310.1" cy="342.1" r="4.9" fill="#fff" stroke="#0072B2" stroke-width="0.7"/>
<circle cx="311.7" cy="342.2" r="4.9" fill="#fff" stroke="#0072B2" stroke-width="0.7"/>
<circle cx="313.2" cy="342.2" r="4.9" fill="#fff" stroke="#0072B2" stroke-width="0.7"/>
<circle cx="314.7" cy="342.3" r="4.9" fill="#fff" stroke="#0072B2" stroke-width="0.7"/>
<circle cx="316.3" cy="343.2" r="4.9" fill="#fff" stroke="#0072B2" stroke-width="0.7"/>
<circle cx="317.8" cy="342.7" r="4.9" fill="#fff" stroke="#0072B2" stroke-width="0.7"/>
<circle cx="319.3" cy="342.9" r="4.9" fill="#fff" stroke="#0072B2" stroke-width="0.7"/>
<circle cx="320.9" cy="343.5" r="4.9" fill="#fff" stroke="#0072B2" stroke-width="0.7"/>
<circle cx="322.4" cy="343.5" r="4.9" fill="#fff" stroke="#0072B2" stroke-width="0.7"/>
<circle cx="323.9" cy="343.1" r="4.9" fill="#fff" stroke="#0072B2" stroke-width="0.7"/>
<circle cx="325.5" cy="343.1" r="4.9" fill="#fff" stroke="#0072B2" stroke-width="0.7"/>
<circle cx="327.0" cy="342.4" r="4.9" fill="#fff" stroke="#0072B2" stroke-width="0.7"/>
<circle cx="328.5" cy="341.9" r="4.9" fill="#fff" stroke="#0072B2" stroke-width="0.7"/>
<circle cx="330.1" cy="342.8" r="4.9" fill="#fff" stroke="#0072B2" stroke-width="0.7"/>
<circle cx="331.6" cy="342.0" r="4.9" fill="#fff" stroke="#0072B2" stroke-width="0.7"/>
<circle cx="333.1" cy="341.9" r="4.9" fill="#fff" stroke="#0072B2" stroke-width="0.7"/>
<circle cx="334.6" cy="341.9" r="4.9" fill="#fff" stroke="#0072B2" stroke-width="0.7"/>
<circle cx="336.2" cy="342.9" r="4.9" fill="#fff" stroke="#0072B2" stroke-width="0.7"/>
<circle cx="337.7" cy="343.2" r="4.9" fill="#fff" stroke="#0072B2" stroke-width="0.7"/>
<circle cx="339.2" cy="343.2" r="4.9" fill="#fff" stroke="#0072B2" stroke-width="0.7"/>
<circle cx="340.8" cy="343.2" r="4.9" fill="#fff" stroke="#0072B2" stroke-width="0.7"/>
<circle cx="342.3" cy="343.2" r="4.9" fill="#fff" stroke="#0072B2" stroke-width="0.7"/>
<circle cx="343.8" cy="342.5" r="4.9" fill="#fff" stroke="#0072B2" stroke-width="0.7"/>
<circle cx="345.4" cy="342.0" r="4.9" fill="#fff" stroke="#0072B2" stroke-width="0.7"/>
<circle cx="346.9" cy="342.1" r="4.9" fill="#fff" stroke="#0072B2" stroke-width="0.7"/>
<circle cx="348.4" cy="342.7" r="4.9" fill="#fff" stroke="#0072B2" stroke-width="0.7"/>
<circle cx="350.0" cy="342.4" r="4.9" fill="#fff" stroke="#0072B2" stroke-width="0.7"/>
<circle cx="351.5" cy="342.2" r="4.9" fill="#fff" stroke="#0072B2" stroke-width="0.7"/>
<circle cx="46.6" cy="343.2" r="4.9" fill="#fff" stroke="#D55E00" stroke-width="0.85"/>
<circle cx="48.2" cy="342.5" r="4.9" fill="#fff" stroke="#D55E00" stroke-width="0.85"/>
<circle cx="49.7" cy="342.2" r="4.9" fill="#fff" stroke="#D55E00" stroke-width="0.85"/>
<circle cx="51.2" cy="342.4" r="4.9" fill="#fff" stroke="#D55E00" stroke-width="0.85"/>
<circle cx="52.8" cy="342.4" r="4.9" fill="#fff" stroke="#D55E00" stroke-width="0.85"/>
<circle cx="54.3" cy="342.7" r="4.9" fill="#fff" stroke="#D55E00" stroke-width="0.85"/>
<circle cx="55.8" cy="343.1" r="4.9" fill="#fff" stroke="#D55E00" stroke-width="0.85"/>
<circle cx="57.4" cy="342.3" r="4.9" fill="#fff" stroke="#D55E00" stroke-width="0.85"/>
<circle cx="58.9" cy="342.9" r="4.9" fill="#fff" stroke="#D55E00" stroke-width="0.85"/>
<circle cx="60.4" cy="342.3" r="4.9" fill="#fff" stroke="#D55E00" stroke-width="0.85"/>
<circle cx="62.0" cy="342.1" r="4.9" fill="#fff" stroke="#D55E00" stroke-width="0.85"/>
<circle cx="63.5" cy="342.8" r="4.9" fill="#fff" stroke="#D55E00" stroke-width="0.85"/>
<circle cx="65.0" cy="342.8" r="4.9" fill="#fff" stroke="#D55E00" stroke-width="0.85"/>
<circle cx="66.5" cy="342.2" r="4.9" fill="#fff" stroke="#D55E00" stroke-width="0.85"/>
<circle cx="68.1" cy="342.4" r="4.9" fill="#fff" stroke="#D55E00" stroke-width="0.85"/>
<circle cx="69.6" cy="343.1" r="4.9" fill="#fff" stroke="#D55E00" stroke-width="0.85"/>
<circle cx="71.1" cy="343.2" r="4.9" fill="#fff" stroke="#D55E00" stroke-width="0.85"/>
<circle cx="72.7" cy="343.1" r="4.9" fill="#fff" stroke="#D55E00" stroke-width="0.85"/>
<circle cx="74.2" cy="342.2" r="4.9" fill="#fff" stroke="#D55E00" stroke-width="0.85"/>
<circle cx="75.7" cy="342.3" r="4.9" fill="#fff" stroke="#D55E00" stroke-width="0.85"/>
<circle cx="77.3" cy="343.1" r="4.9" fill="#fff" stroke="#D55E00" stroke-width="0.85"/>
<circle cx="78.8" cy="342.3" r="4.9" fill="#fff" stroke="#D55E00" stroke-width="0.85"/>
<circle cx="80.3" cy="342.1" r="4.9" fill="#fff" stroke="#D55E00" stroke-width="0.85"/>
<circle cx="81.9" cy="342.5" r="4.9" fill="#fff" stroke="#D55E00" stroke-width="0.85"/>
<circle cx="83.4" cy="342.9" r="4.9" fill="#fff" stroke="#D55E00" stroke-width="0.85"/>
<circle cx="84.9" cy="342.6" r="4.9" fill="#fff" stroke="#D55E00" stroke-width="0.85"/>
<circle cx="86.5" cy="343.2" r="4.9" fill="#fff" stroke="#D55E00" stroke-width="0.85"/>
<circle cx="88.0" cy="343.3" r="4.9" fill="#fff" stroke="#D55E00" stroke-width="0.85"/>
<circle cx="89.5" cy="342.1" r="4.9" fill="#fff" stroke="#D55E00" stroke-width="0.85"/>
<circle cx="91.1" cy="342.5" r="4.9" fill="#fff" stroke="#D55E00" stroke-width="0.85"/>
<circle cx="92.6" cy="342.7" r="4.9" fill="#fff" stroke="#D55E00" stroke-width="0.85"/>
<circle cx="94.1" cy="342.2" r="4.9" fill="#fff" stroke="#D55E00" stroke-width="0.85"/>
<circle cx="95.7" cy="342.8" r="4.9" fill="#fff" stroke="#D55E00" stroke-width="0.85"/>
<circle cx="97.2" cy="342.2" r="4.9" fill="#fff" stroke="#D55E00" stroke-width="0.85"/>
<circle cx="98.7" cy="342.3" r="4.9" fill="#fff" stroke="#D55E00" stroke-width="0.85"/>
<circle cx="100.3" cy="343.1" r="4.9" fill="#fff" stroke="#D55E00" stroke-width="0.85"/>
<circle cx="101.8" cy="343.0" r="4.9" fill="#fff" stroke="#D55E00" stroke-width="0.85"/>
<circle cx="103.3" cy="343.0" r="4.9" fill="#fff" stroke="#D55E00" stroke-width="0.85"/>
<circle cx="104.8" cy="343.0" r="4.9" fill="#fff" stroke="#D55E00" stroke-width="0.85"/>
<circle cx="106.4" cy="342.6" r="4.9" fill="#fff" stroke="#D55E00" stroke-width="0.85"/>
<circle cx="107.9" cy="343.0" r="4.9" fill="#fff" stroke="#D55E00" stroke-width="0.85"/>
<circle cx="109.4" cy="342.8" r="4.9" fill="#fff" stroke="#D55E00" stroke-width="0.85"/>
<circle cx="111.0" cy="343.2" r="4.9" fill="#fff" stroke="#D55E00" stroke-width="0.85"/>
<circle cx="112.5" cy="342.2" r="4.9" fill="#fff" stroke="#D55E00" stroke-width="0.85"/>
<circle cx="114.0" cy="342.9" r="4.9" fill="#fff" stroke="#D55E00" stroke-width="0.85"/>
<circle cx="115.6" cy="342.8" r="4.9" fill="#fff" stroke="#D55E00" stroke-width="0.85"/>
<circle cx="117.1" cy="342.6" r="4.9" fill="#fff" stroke="#D55E00" stroke-width="0.85"/>
<circle cx="118.6" cy="342.2" r="4.9" fill="#fff" stroke="#D55E00" stroke-width="0.85"/>
<circle cx="120.2" cy="342.8" r="4.9" fill="#fff" stroke="#D55E00" stroke-width="0.85"/>
<circle cx="121.7" cy="342.2" r="4.9" fill="#fff" stroke="#D55E00" stroke-width="0.85"/>
<circle cx="123.2" cy="342.7" r="4.9" fill="#fff" stroke="#D55E00" stroke-width="0.85"/>
<circle cx="124.8" cy="342.7" r="4.9" fill="#fff" stroke="#D55E00" stroke-width="0.85"/>
<circle cx="126.3" cy="342.7" r="4.9" fill="#fff" stroke="#D55E00" stroke-width="0.85"/>
<circle cx="127.8" cy="343.3" r="4.9" fill="#fff" stroke="#D55E00" stroke-width="0.85"/>
<circle cx="129.4" cy="342.8" r="4.9" fill="#fff" stroke="#D55E00" stroke-width="0.85"/>
<circle cx="130.9" cy="343.1" r="4.9" fill="#fff" stroke="#D55E00" stroke-width="0.85"/>
<circle cx="132.4" cy="343.3" r="4.9" fill="#fff" stroke="#D55E00" stroke-width="0.85"/>
<circle cx="134.0" cy="342.3" r="4.9" fill="#fff" stroke="#D55E00" stroke-width="0.85"/>
<circle cx="135.5" cy="343.1" r="4.9" fill="#fff" stroke="#D55E00" stroke-width="0.85"/>
<circle cx="137.0" cy="342.7" r="4.9" fill="#fff" stroke="#D55E00" stroke-width="0.85"/>
<circle cx="138.6" cy="342.4" r="4.9" fill="#fff" stroke="#D55E00" stroke-width="0.85"/>
<circle cx="140.1" cy="342.6" r="4.9" fill="#fff" stroke="#D55E00" stroke-width="0.85"/>
<circle cx="141.6" cy="342.9" r="4.9" fill="#fff" stroke="#D55E00" stroke-width="0.85"/>
<circle cx="143.1" cy="342.7" r="4.9" fill="#fff" stroke="#D55E00" stroke-width="0.85"/>
<circle cx="144.7" cy="342.6" r="4.9" fill="#fff" stroke="#D55E00" stroke-width="0.85"/>
<circle cx="146.2" cy="342.4" r="4.9" fill="#fff" stroke="#D55E00" stroke-width="0.85"/>
<circle cx="147.7" cy="343.2" r="4.9" fill="#fff" stroke="#D55E00" stroke-width="0.85"/>
<circle cx="149.3" cy="342.6" r="4.9" fill="#fff" stroke="#D55E00" stroke-width="0.85"/>
<circle cx="150.8" cy="343.0" r="4.9" fill="#fff" stroke="#D55E00" stroke-width="0.85"/>
<circle cx="152.3" cy="343.0" r="4.9" fill="#fff" stroke="#D55E00" stroke-width="0.85"/>
<circle cx="153.9" cy="342.4" r="4.9" fill="#fff" stroke="#D55E00" stroke-width="0.85"/>
<circle cx="155.4" cy="342.7" r="4.9" fill="#fff" stroke="#D55E00" stroke-width="0.85"/>
<circle cx="156.9" cy="342.6" r="4.9" fill="#fff" stroke="#D55E00" stroke-width="0.85"/>
<circle cx="158.5" cy="342.4" r="4.9" fill="#fff" stroke="#D55E00" stroke-width="0.85"/>
<circle cx="160.0" cy="342.2" r="4.9" fill="#fff" stroke="#D55E00" stroke-width="0.85"/>
<circle cx="161.5" cy="342.8" r="4.9" fill="#fff" stroke="#D55E00" stroke-width="0.85"/>
<circle cx="163.1" cy="342.6" r="4.9" fill="#fff" stroke="#D55E00" stroke-width="0.85"/>
<circle cx="164.6" cy="342.7" r="4.9" fill="#fff" stroke="#D55E00" stroke-width="0.85"/>
<circle cx="166.1" cy="342.7" r="4.9" fill="#fff" stroke="#D55E00" stroke-width="0.85"/>
<circle cx="167.7" cy="342.5" r="4.9" fill="#fff" stroke="#D55E00" stroke-width="0.85"/>
<circle cx="169.2" cy="342.8" r="4.9" fill="#fff" stroke="#D55E00" stroke-width="0.85"/>
<circle cx="170.7" cy="342.7" r="4.9" fill="#fff" stroke="#D55E00" stroke-width="0.85"/>
<circle cx="172.3" cy="342.7" r="4.9" fill="#fff" stroke="#D55E00" stroke-width="0.85"/>
<circle cx="173.8" cy="342.2" r="4.9" fill="#fff" stroke="#D55E00" stroke-width="0.85"/>
<circle cx="175.3" cy="342.5" r="4.9" fill="#fff" stroke="#D55E00" stroke-width="0.85"/>
<circle cx="176.9" cy="342.2" r="4.9" fill="#fff" stroke="#D55E00" stroke-width="0.85"/>
<circle cx="178.4" cy="342.2" r="4.9" fill="#fff" stroke="#D55E00" stroke-width="0.85"/>
<circle cx="179.9" cy="343.0" r="4.9" fill="#fff" stroke="#D55E00" stroke-width="0.85"/>
<circle cx="181.4" cy="342.6" r="4.9" fill="#fff" stroke="#D55E00" stroke-width="0.85"/>
<circle cx="183.0" cy="342.2" r="4.9" fill="#fff" stroke="#D55E00" stroke-width="0.85"/>
<circle cx="184.5" cy="342.3" r="4.9" fill="#fff" stroke="#D55E00" stroke-width="0.85"/>
<circle cx="186.0" cy="343.1" r="4.9" fill="#fff" stroke="#D55E00" stroke-width="0.85"/>
<circle cx="187.6" cy="343.2" r="4.9" fill="#fff" stroke="#D55E00" stroke-width="0.85"/>
<circle cx="189.1" cy="342.8" r="4.9" fill="#fff" stroke="#D55E00" stroke-width="0.85"/>
<circle cx="190.6" cy="343.2" r="4.9" fill="#fff" stroke="#D55E00" stroke-width="0.85"/>
<circle cx="192.2" cy="343.0" r="4.9" fill="#fff" stroke="#D55E00" stroke-width="0.85"/>
<circle cx="193.7" cy="343.2" r="4.9" fill="#fff" stroke="#D55E00" stroke-width="0.85"/>
<circle cx="195.2" cy="342.5" r="4.9" fill="#fff" stroke="#D55E00" stroke-width="0.85"/>
<circle cx="196.8" cy="342.4" r="4.9" fill="#fff" stroke="#D55E00" stroke-width="0.85"/>
<circle cx="198.3" cy="342.2" r="4.9" fill="#fff" stroke="#D55E00" stroke-width="0.85"/>
<circle cx="199.8" cy="343.1" r="4.9" fill="#fff" stroke="#D55E00" stroke-width="0.85"/>
<circle cx="201.4" cy="342.4" r="4.9" fill="#fff" stroke="#D55E00" stroke-width="0.85"/>
<circle cx="202.9" cy="342.5" r="4.9" fill="#fff" stroke="#D55E00" stroke-width="0.85"/>
<circle cx="204.4" cy="343.1" r="4.9" fill="#fff" stroke="#D55E00" stroke-width="0.85"/>
<circle cx="206.0" cy="342.2" r="4.9" fill="#fff" stroke="#D55E00" stroke-width="0.85"/>
<circle cx="207.5" cy="342.1" r="4.9" fill="#fff" stroke="#D55E00" stroke-width="0.85"/>
<circle cx="209.0" cy="343.0" r="4.9" fill="#fff" stroke="#D55E00" stroke-width="0.85"/>
<circle cx="210.6" cy="342.1" r="4.9" fill="#fff" stroke="#D55E00" stroke-width="0.85"/>
<circle cx="212.1" cy="342.8" r="4.9" fill="#fff" stroke="#D55E00" stroke-width="0.85"/>
<circle cx="213.6" cy="342.7" r="4.9" fill="#fff" stroke="#D55E00" stroke-width="0.85"/>
<circle cx="215.2" cy="342.1" r="4.9" fill="#fff" stroke="#D55E00" stroke-width="0.85"/>
<circle cx="216.7" cy="342.3" r="4.9" fill="#fff" stroke="#D55E00" stroke-width="0.85"/>
<circle cx="218.2" cy="343.1" r="4.9" fill="#fff" stroke="#D55E00" stroke-width="0.85"/>
<circle cx="219.7" cy="342.8" r="4.9" fill="#fff" stroke="#D55E00" stroke-width="0.85"/>
<circle cx="221.3" cy="342.7" r="4.9" fill="#fff" stroke="#D55E00" stroke-width="0.85"/>
<circle cx="222.8" cy="342.9" r="4.9" fill="#fff" stroke="#D55E00" stroke-width="0.85"/>
<circle cx="224.3" cy="343.1" r="4.9" fill="#fff" stroke="#D55E00" stroke-width="0.85"/>
<circle cx="225.9" cy="342.9" r="4.9" fill="#fff" stroke="#D55E00" stroke-width="0.85"/>
<circle cx="227.4" cy="342.4" r="4.9" fill="#fff" stroke="#D55E00" stroke-width="0.85"/>
<circle cx="228.9" cy="343.3" r="4.9" fill="#fff" stroke="#D55E00" stroke-width="0.85"/>
<circle cx="230.5" cy="342.6" r="4.9" fill="#fff" stroke="#D55E00" stroke-width="0.85"/>
<circle cx="232.0" cy="342.8" r="4.9" fill="#fff" stroke="#D55E00" stroke-width="0.85"/>
<circle cx="233.5" cy="343.3" r="4.9" fill="#fff" stroke="#D55E00" stroke-width="0.85"/>
<circle cx="235.1" cy="342.9" r="4.9" fill="#fff" stroke="#D55E00" stroke-width="0.85"/>
<circle cx="236.6" cy="342.6" r="4.9" fill="#fff" stroke="#D55E00" stroke-width="0.85"/>
<circle cx="238.1" cy="342.7" r="4.9" fill="#fff" stroke="#D55E00" stroke-width="0.85"/>
<circle cx="239.7" cy="343.2" r="4.9" fill="#fff" stroke="#D55E00" stroke-width="0.85"/>
<circle cx="241.2" cy="342.1" r="4.9" fill="#fff" stroke="#D55E00" stroke-width="0.85"/>
<circle cx="242.7" cy="342.3" r="4.9" fill="#fff" stroke="#D55E00" stroke-width="0.85"/>
<circle cx="244.3" cy="342.1" r="4.9" fill="#fff" stroke="#D55E00" stroke-width="0.85"/>
<circle cx="245.8" cy="343.2" r="4.9" fill="#fff" stroke="#D55E00" stroke-width="0.85"/>
<circle cx="247.3" cy="343.0" r="4.9" fill="#fff" stroke="#D55E00" stroke-width="0.85"/>
<circle cx="248.9" cy="343.3" r="4.9" fill="#fff" stroke="#D55E00" stroke-width="0.85"/>
<circle cx="250.4" cy="342.4" r="4.9" fill="#fff" stroke="#D55E00" stroke-width="0.85"/>
<circle cx="251.9" cy="343.0" r="4.9" fill="#fff" stroke="#D55E00" stroke-width="0.85"/>
<circle cx="253.5" cy="343.2" r="4.9" fill="#fff" stroke="#D55E00" stroke-width="0.85"/>
<circle cx="255.0" cy="342.8" r="4.9" fill="#fff" stroke="#D55E00" stroke-width="0.85"/>
<circle cx="256.5" cy="342.2" r="4.9" fill="#fff" stroke="#D55E00" stroke-width="0.85"/>
<circle cx="258.0" cy="342.3" r="4.9" fill="#fff" stroke="#D55E00" stroke-width="0.85"/>
<circle cx="259.6" cy="343.0" r="4.9" fill="#fff" stroke="#D55E00" stroke-width="0.85"/>
<circle cx="261.1" cy="343.1" r="4.9" fill="#fff" stroke="#D55E00" stroke-width="0.85"/>
<circle cx="262.6" cy="342.2" r="4.9" fill="#fff" stroke="#D55E00" stroke-width="0.85"/>
<circle cx="264.2" cy="342.6" r="4.9" fill="#fff" stroke="#D55E00" stroke-width="0.85"/>
<circle cx="265.7" cy="342.5" r="4.9" fill="#fff" stroke="#D55E00" stroke-width="0.85"/>
<circle cx="267.2" cy="343.2" r="4.9" fill="#fff" stroke="#D55E00" stroke-width="0.85"/>
<circle cx="268.8" cy="343.2" r="4.9" fill="#fff" stroke="#D55E00" stroke-width="0.85"/>
<circle cx="270.3" cy="342.5" r="4.9" fill="#fff" stroke="#D55E00" stroke-width="0.85"/>
<circle cx="271.8" cy="342.8" r="4.9" fill="#fff" stroke="#D55E00" stroke-width="0.85"/>
<circle cx="273.4" cy="343.2" r="4.9" fill="#fff" stroke="#D55E00" stroke-width="0.85"/>
<circle cx="274.9" cy="342.2" r="4.9" fill="#fff" stroke="#D55E00" stroke-width="0.85"/>
<circle cx="276.4" cy="342.5" r="4.9" fill="#fff" stroke="#D55E00" stroke-width="0.85"/>
<circle cx="278.0" cy="342.3" r="4.9" fill="#fff" stroke="#D55E00" stroke-width="0.85"/>
<circle cx="279.5" cy="343.2" r="4.9" fill="#fff" stroke="#D55E00" stroke-width="0.85"/>
<circle cx="281.0" cy="342.3" r="4.9" fill="#fff" stroke="#D55E00" stroke-width="0.85"/>
<circle cx="282.6" cy="343.2" r="4.9" fill="#fff" stroke="#D55E00" stroke-width="0.85"/>
<circle cx="284.1" cy="342.3" r="4.9" fill="#fff" stroke="#D55E00" stroke-width="0.85"/>
<circle cx="285.6" cy="342.8" r="4.9" fill="#fff" stroke="#D55E00" stroke-width="0.85"/>
<circle cx="287.2" cy="342.9" r="4.9" fill="#fff" stroke="#D55E00" stroke-width="0.85"/>
<circle cx="288.7" cy="342.6" r="4.9" fill="#fff" stroke="#D55E00" stroke-width="0.85"/>
<circle cx="290.2" cy="342.2" r="4.9" fill="#fff" stroke="#D55E00" stroke-width="0.85"/>
<circle cx="291.8" cy="343.0" r="4.9" fill="#fff" stroke="#D55E00" stroke-width="0.85"/>
<circle cx="293.3" cy="343.2" r="4.9" fill="#fff" stroke="#D55E00" stroke-width="0.85"/>
<circle cx="294.8" cy="342.7" r="4.9" fill="#fff" stroke="#D55E00" stroke-width="0.85"/>
<circle cx="296.3" cy="343.0" r="4.9" fill="#fff" stroke="#D55E00" stroke-width="0.85"/>
<circle cx="297.9" cy="343.2" r="4.9" fill="#fff" stroke="#D55E00" stroke-width="0.85"/>
<circle cx="299.4" cy="343.1" r="4.9" fill="#fff" stroke="#D55E00" stroke-width="0.85"/>
<circle cx="300.9" cy="343.3" r="4.9" fill="#fff" stroke="#D55E00" stroke-width="0.85"/>
<circle cx="302.5" cy="343.1" r="4.9" fill="#fff" stroke="#D55E00" stroke-width="0.85"/>
<circle cx="304.0" cy="342.9" r="4.9" fill="#fff" stroke="#D55E00" stroke-width="0.85"/>
<circle cx="305.5" cy="342.9" r="4.9" fill="#fff" stroke="#D55E00" stroke-width="0.85"/>
<circle cx="307.1" cy="342.4" r="4.9" fill="#fff" stroke="#D55E00" stroke-width="0.85"/>
<circle cx="308.6" cy="343.0" r="4.9" fill="#fff" stroke="#D55E00" stroke-width="0.85"/>
<circle cx="310.1" cy="342.7" r="4.9" fill="#fff" stroke="#D55E00" stroke-width="0.85"/>
<circle cx="311.7" cy="343.1" r="4.9" fill="#fff" stroke="#D55E00" stroke-width="0.85"/>
<circle cx="313.2" cy="342.9" r="4.9" fill="#fff" stroke="#D55E00" stroke-width="0.85"/>
<circle cx="314.7" cy="343.3" r="4.9" fill="#fff" stroke="#D55E00" stroke-width="0.85"/>
<circle cx="316.3" cy="343.0" r="4.9" fill="#fff" stroke="#D55E00" stroke-width="0.85"/>
<circle cx="317.8" cy="343.3" r="4.9" fill="#fff" stroke="#D55E00" stroke-width="0.85"/>
<circle cx="319.3" cy="342.4" r="4.9" fill="#fff" stroke="#D55E00" stroke-width="0.85"/>
<circle cx="320.9" cy="342.6" r="4.9" fill="#fff" stroke="#D55E00" stroke-width="0.85"/>
<circle cx="322.4" cy="343.1" r="4.9" fill="#fff" stroke="#D55E00" stroke-width="0.85"/>
<circle cx="323.9" cy="342.7" r="4.9" fill="#fff" stroke="#D55E00" stroke-width="0.85"/>
<circle cx="325.5" cy="342.2" r="4.9" fill="#fff" stroke="#D55E00" stroke-width="0.85"/>
<circle cx="327.0" cy="343.2" r="4.9" fill="#fff" stroke="#D55E00" stroke-width="0.85"/>
<circle cx="328.5" cy="342.3" r="4.9" fill="#fff" stroke="#D55E00" stroke-width="0.85"/>
<circle cx="330.1" cy="342.8" r="4.9" fill="#fff" stroke="#D55E00" stroke-width="0.85"/>
<circle cx="331.6" cy="342.7" r="4.9" fill="#fff" stroke="#D55E00" stroke-width="0.85"/>
<circle cx="333.1" cy="342.3" r="4.9" fill="#fff" stroke="#D55E00" stroke-width="0.85"/>
<circle cx="334.6" cy="342.8" r="4.9" fill="#fff" stroke="#D55E00" stroke-width="0.85"/>
<circle cx="336.2" cy="342.7" r="4.9" fill="#fff" stroke="#D55E00" stroke-width="0.85"/>
<circle cx="337.7" cy="342.5" r="4.9" fill="#fff" stroke="#D55E00" stroke-width="0.85"/>
<circle cx="339.2" cy="342.1" r="4.9" fill="#fff" stroke="#D55E00" stroke-width="0.85"/>
<circle cx="340.8" cy="342.9" r="4.9" fill="#fff" stroke="#D55E00" stroke-width="0.85"/>
<circle cx="342.3" cy="342.3" r="4.9" fill="#fff" stroke="#D55E00" stroke-width="0.85"/>
<circle cx="343.8" cy="342.4" r="4.9" fill="#fff" stroke="#D55E00" stroke-width="0.85"/>
<circle cx="345.4" cy="342.5" r="4.9" fill="#fff" stroke="#D55E00" stroke-width="0.85"/>
<circle cx="346.9" cy="342.8" r="4.9" fill="#fff" stroke="#D55E00" stroke-width="0.85"/>
<circle cx="348.4" cy="342.9" r="4.9" fill="#fff" stroke="#D55E00" stroke-width="0.85"/>
<circle cx="350.0" cy="343.2" r="4.9" fill="#fff" stroke="#D55E00" stroke-width="0.85"/>
<circle cx="351.5" cy="343.2" r="4.9" fill="#fff" stroke="#D55E00" stroke-width="0.85"/>
<circle cx="46.6" cy="377.0" r="4.9" fill="url(#gB2)"/>
<circle cx="48.2" cy="375.4" r="4.9" fill="url(#gB2)"/>
<circle cx="49.7" cy="376.6" r="4.9" fill="url(#gB2)"/>
<circle cx="51.2" cy="376.8" r="4.9" fill="url(#gB2)"/>
<circle cx="52.8" cy="376.9" r="4.9" fill="url(#gB2)"/>
<circle cx="54.3" cy="375.2" r="4.9" fill="url(#gB2)"/>
<circle cx="55.8" cy="375.1" r="4.9" fill="url(#gB2)"/>
<circle cx="57.4" cy="375.6" r="4.9" fill="url(#gB2)"/>
<circle cx="58.9" cy="376.4" r="4.9" fill="url(#gB2)"/>
<circle cx="60.4" cy="376.5" r="4.9" fill="url(#gB2)"/>
<circle cx="62.0" cy="376.3" r="4.9" fill="url(#gB2)"/>
<circle cx="63.5" cy="375.9" r="4.9" fill="url(#gB2)"/>
<circle cx="65.0" cy="376.5" r="4.9" fill="url(#gB2)"/>
<circle cx="66.5" cy="375.8" r="4.9" fill="url(#gB2)"/>
<circle cx="68.1" cy="376.4" r="4.9" fill="url(#gB2)"/>
<circle cx="69.6" cy="374.9" r="4.9" fill="url(#gB2)"/>
<circle cx="71.1" cy="375.1" r="4.9" fill="url(#gB2)"/>
<circle cx="72.7" cy="376.2" r="4.9" fill="url(#gB2)"/>
<circle cx="74.2" cy="377.0" r="4.9" fill="url(#gB2)"/>
<circle cx="75.7" cy="375.5" r="4.9" fill="url(#gB2)"/>
<circle cx="77.3" cy="377.2" r="4.9" fill="url(#gB2)"/>
<circle cx="78.8" cy="377.3" r="4.9" fill="url(#gB2)"/>
<circle cx="80.3" cy="378.4" r="4.9" fill="url(#gB2)"/>
<circle cx="81.9" cy="377.7" r="4.9" fill="url(#gB2)"/>
<circle cx="83.4" cy="377.7" r="4.9" fill="url(#gB2)"/>
<circle cx="84.9" cy="377.9" r="4.9" fill="url(#gB2)"/>
<circle cx="86.5" cy="378.8" r="4.9" fill="url(#gB2)"/>
<circle cx="88.0" cy="378.4" r="4.9" fill="url(#gB2)"/>
<circle cx="89.5" cy="379.7" r="4.9" fill="url(#gB2)"/>
<circle cx="91.1" cy="379.4" r="4.9" fill="url(#gB2)"/>
<circle cx="92.6" cy="380.0" r="4.9" fill="url(#gB2)"/>
<circle cx="94.1" cy="379.5" r="4.9" fill="url(#gB2)"/>
<circle cx="95.7" cy="380.5" r="4.9" fill="url(#gB2)"/>
<circle cx="97.2" cy="380.8" r="4.9" fill="url(#gB2)"/>
<circle cx="98.7" cy="380.4" r="4.9" fill="url(#gB2)"/>
<circle cx="100.3" cy="380.8" r="4.9" fill="url(#gB2)"/>
<circle cx="101.8" cy="380.2" r="4.9" fill="url(#gB2)"/>
<circle cx="103.3" cy="380.6" r="4.9" fill="url(#gB2)"/>
<circle cx="104.8" cy="380.3" r="4.9" fill="url(#gB2)"/>
<circle cx="106.4" cy="380.6" r="4.9" fill="url(#gB2)"/>
<circle cx="107.9" cy="380.6" r="4.9" fill="url(#gB2)"/>
<circle cx="109.4" cy="380.4" r="4.9" fill="url(#gB2)"/>
<circle cx="111.0" cy="381.7" r="4.9" fill="url(#gB2)"/>
<circle cx="112.5" cy="382.0" r="4.9" fill="url(#gB2)"/>
<circle cx="114.0" cy="380.6" r="4.9" fill="url(#gB2)"/>
<circle cx="115.6" cy="382.6" r="4.9" fill="url(#gB2)"/>
<circle cx="117.1" cy="381.5" r="4.9" fill="url(#gB2)"/>
<circle cx="118.6" cy="381.8" r="4.9" fill="url(#gB2)"/>
<circle cx="120.2" cy="383.3" r="4.9" fill="url(#gB2)"/>
<circle cx="121.7" cy="381.7" r="4.9" fill="url(#gB2)"/>
<circle cx="123.2" cy="381.7" r="4.9" fill="url(#gB2)"/>
<circle cx="124.8" cy="382.4" r="4.9" fill="url(#gB2)"/>
<circle cx="126.3" cy="382.3" r="4.9" fill="url(#gB2)"/>
<circle cx="127.8" cy="382.3" r="4.9" fill="url(#gB2)"/>
<circle cx="129.4" cy="384.0" r="4.9" fill="url(#gB2)"/>
<circle cx="130.9" cy="383.2" r="4.9" fill="url(#gB2)"/>
<circle cx="132.4" cy="383.4" r="4.9" fill="url(#gB2)"/>
<circle cx="134.0" cy="382.8" r="4.9" fill="url(#gB2)"/>
<circle cx="135.5" cy="383.0" r="4.9" fill="url(#gB2)"/>
<circle cx="137.0" cy="383.1" r="4.9" fill="url(#gB2)"/>
<circle cx="138.6" cy="383.8" r="4.9" fill="url(#gB2)"/>
<circle cx="140.1" cy="383.2" r="4.9" fill="url(#gB2)"/>
<circle cx="141.6" cy="383.9" r="4.9" fill="url(#gB2)"/>
<circle cx="143.1" cy="384.0" r="4.9" fill="url(#gB2)"/>
<circle cx="144.7" cy="385.2" r="4.9" fill="url(#gB2)"/>
<circle cx="146.2" cy="385.8" r="4.9" fill="url(#gB2)"/>
<circle cx="147.7" cy="385.7" r="4.9" fill="url(#gB2)"/>
<circle cx="149.3" cy="385.3" r="4.9" fill="url(#gB2)"/>
<circle cx="150.8" cy="386.0" r="4.9" fill="url(#gB2)"/>
<circle cx="152.3" cy="384.5" r="4.9" fill="url(#gB2)"/>
<circle cx="153.9" cy="385.3" r="4.9" fill="url(#gB2)"/>
<circle cx="155.4" cy="385.3" r="4.9" fill="url(#gB2)"/>
<circle cx="156.9" cy="385.4" r="4.9" fill="url(#gB2)"/>
<circle cx="158.5" cy="385.4" r="4.9" fill="url(#gB2)"/>
<circle cx="160.0" cy="386.0" r="4.9" fill="url(#gB2)"/>
<circle cx="161.5" cy="387.2" r="4.9" fill="url(#gB2)"/>
<circle cx="163.1" cy="385.4" r="4.9" fill="url(#gB2)"/>
<circle cx="164.6" cy="385.6" r="4.9" fill="url(#gB2)"/>
<circle cx="166.1" cy="386.2" r="4.9" fill="url(#gB2)"/>
<circle cx="167.7" cy="386.2" r="4.9" fill="url(#gB2)"/>
<circle cx="169.2" cy="386.0" r="4.9" fill="url(#gB2)"/>
<circle cx="170.7" cy="387.4" r="4.9" fill="url(#gB2)"/>
<circle cx="172.3" cy="386.0" r="4.9" fill="url(#gB2)"/>
<circle cx="173.8" cy="387.1" r="4.9" fill="url(#gB2)"/>
<circle cx="175.3" cy="387.6" r="4.9" fill="url(#gB2)"/>
<circle cx="176.9" cy="387.2" r="4.9" fill="url(#gB2)"/>
<circle cx="178.4" cy="386.2" r="4.9" fill="url(#gB2)"/>
<circle cx="179.9" cy="387.5" r="4.9" fill="url(#gB2)"/>
<circle cx="181.4" cy="386.3" r="4.9" fill="url(#gB2)"/>
<circle cx="183.0" cy="385.9" r="4.9" fill="url(#gB2)"/>
<circle cx="184.5" cy="387.0" r="4.9" fill="url(#gB2)"/>
<circle cx="186.0" cy="387.3" r="4.9" fill="url(#gB2)"/>
<circle cx="187.6" cy="387.1" r="4.9" fill="url(#gB2)"/>
<circle cx="189.1" cy="386.7" r="4.9" fill="url(#gB2)"/>
<circle cx="190.6" cy="386.6" r="4.9" fill="url(#gB2)"/>
<circle cx="192.2" cy="386.9" r="4.9" fill="url(#gB2)"/>
<circle cx="193.7" cy="386.9" r="4.9" fill="url(#gB2)"/>
<circle cx="195.2" cy="388.3" r="4.9" fill="url(#gB2)"/>
<circle cx="196.8" cy="388.2" r="4.9" fill="url(#gB2)"/>
<circle cx="198.3" cy="388.0" r="4.9" fill="url(#gB2)"/>
<circle cx="199.8" cy="386.9" r="4.9" fill="url(#gB2)"/>
<circle cx="201.4" cy="387.9" r="4.9" fill="url(#gB2)"/>
<circle cx="202.9" cy="387.4" r="4.9" fill="url(#gB2)"/>
<circle cx="204.4" cy="388.7" r="4.9" fill="url(#gB2)"/>
<circle cx="206.0" cy="388.6" r="4.9" fill="url(#gB2)"/>
<circle cx="207.5" cy="388.2" r="4.9" fill="url(#gB2)"/>
<circle cx="209.0" cy="387.3" r="4.9" fill="url(#gB2)"/>
<circle cx="210.6" cy="387.3" r="4.9" fill="url(#gB2)"/>
<circle cx="212.1" cy="387.4" r="4.9" fill="url(#gB2)"/>
<circle cx="213.6" cy="388.3" r="4.9" fill="url(#gB2)"/>
<circle cx="215.2" cy="387.9" r="4.9" fill="url(#gB2)"/>
<circle cx="216.7" cy="388.0" r="4.9" fill="url(#gB2)"/>
<circle cx="218.2" cy="388.1" r="4.9" fill="url(#gB2)"/>
<circle cx="219.7" cy="388.9" r="4.9" fill="url(#gB2)"/>
<circle cx="221.3" cy="387.2" r="4.9" fill="url(#gB2)"/>
<circle cx="222.8" cy="388.8" r="4.9" fill="url(#gB2)"/>
<circle cx="224.3" cy="387.1" r="4.9" fill="url(#gB2)"/>
<circle cx="225.9" cy="387.2" r="4.9" fill="url(#gB2)"/>
<circle cx="227.4" cy="389.4" r="4.9" fill="url(#gB2)"/>
<circle cx="228.9" cy="388.4" r="4.9" fill="url(#gB2)"/>
<circle cx="230.5" cy="387.6" r="4.9" fill="url(#gB2)"/>
<circle cx="232.0" cy="387.3" r="4.9" fill="url(#gB2)"/>
<circle cx="233.5" cy="388.5" r="4.9" fill="url(#gB2)"/>
<circle cx="235.1" cy="388.9" r="4.9" fill="url(#gB2)"/>
<circle cx="236.6" cy="389.1" r="4.9" fill="url(#gB2)"/>
<circle cx="238.1" cy="387.4" r="4.9" fill="url(#gB2)"/>
<circle cx="239.7" cy="389.1" r="4.9" fill="url(#gB2)"/>
<circle cx="241.2" cy="388.3" r="4.9" fill="url(#gB2)"/>
<circle cx="242.7" cy="389.3" r="4.9" fill="url(#gB2)"/>
<circle cx="244.3" cy="388.5" r="4.9" fill="url(#gB2)"/>
<circle cx="245.8" cy="387.5" r="4.9" fill="url(#gB2)"/>
<circle cx="247.3" cy="389.4" r="4.9" fill="url(#gB2)"/>
<circle cx="248.9" cy="387.9" r="4.9" fill="url(#gB2)"/>
<circle cx="250.4" cy="388.6" r="4.9" fill="url(#gB2)"/>
<circle cx="251.9" cy="387.8" r="4.9" fill="url(#gB2)"/>
<circle cx="253.5" cy="388.2" r="4.9" fill="url(#gB2)"/>
<circle cx="255.0" cy="389.3" r="4.9" fill="url(#gB2)"/>
<circle cx="256.5" cy="387.8" r="4.9" fill="url(#gB2)"/>
<circle cx="258.0" cy="388.8" r="4.9" fill="url(#gB2)"/>
<circle cx="259.6" cy="389.9" r="4.9" fill="url(#gB2)"/>
<circle cx="261.1" cy="390.0" r="4.9" fill="url(#gB2)"/>
<circle cx="262.6" cy="388.9" r="4.9" fill="url(#gB2)"/>
<circle cx="264.2" cy="389.0" r="4.9" fill="url(#gB2)"/>
<circle cx="265.7" cy="389.3" r="4.9" fill="url(#gB2)"/>
<circle cx="267.2" cy="389.7" r="4.9" fill="url(#gB2)"/>
<circle cx="268.8" cy="389.3" r="4.9" fill="url(#gB2)"/>
<circle cx="270.3" cy="389.4" r="4.9" fill="url(#gB2)"/>
<circle cx="271.8" cy="388.2" r="4.9" fill="url(#gB2)"/>
<circle cx="273.4" cy="390.2" r="4.9" fill="url(#gB2)"/>
<circle cx="274.9" cy="388.5" r="4.9" fill="url(#gB2)"/>
<circle cx="276.4" cy="388.3" r="4.9" fill="url(#gB2)"/>
<circle cx="278.0" cy="390.0" r="4.9" fill="url(#gB2)"/>
<circle cx="279.5" cy="388.1" r="4.9" fill="url(#gB2)"/>
<circle cx="281.0" cy="388.7" r="4.9" fill="url(#gB2)"/>
<circle cx="282.6" cy="388.2" r="4.9" fill="url(#gB2)"/>
<circle cx="284.1" cy="389.7" r="4.9" fill="url(#gB2)"/>
<circle cx="285.6" cy="389.5" r="4.9" fill="url(#gB2)"/>
<circle cx="287.2" cy="389.5" r="4.9" fill="url(#gB2)"/>
<circle cx="288.7" cy="388.1" r="4.9" fill="url(#gB2)"/>
<circle cx="290.2" cy="389.1" r="4.9" fill="url(#gB2)"/>
<circle cx="291.8" cy="389.7" r="4.9" fill="url(#gB2)"/>
<circle cx="293.3" cy="389.5" r="4.9" fill="url(#gB2)"/>
<circle cx="294.8" cy="389.9" r="4.9" fill="url(#gB2)"/>
<circle cx="296.3" cy="390.5" r="4.9" fill="url(#gB2)"/>
<circle cx="297.9" cy="390.4" r="4.9" fill="url(#gB2)"/>
<circle cx="299.4" cy="388.8" r="4.9" fill="url(#gB2)"/>
<circle cx="300.9" cy="390.1" r="4.9" fill="url(#gB2)"/>
<circle cx="302.5" cy="388.7" r="4.9" fill="url(#gB2)"/>
<circle cx="304.0" cy="390.3" r="4.9" fill="url(#gB2)"/>
<circle cx="305.5" cy="390.3" r="4.9" fill="url(#gB2)"/>
<circle cx="307.1" cy="389.8" r="4.9" fill="url(#gB2)"/>
<circle cx="308.6" cy="390.6" r="4.9" fill="url(#gB2)"/>
<circle cx="310.1" cy="390.2" r="4.9" fill="url(#gB2)"/>
<circle cx="311.7" cy="388.9" r="4.9" fill="url(#gB2)"/>
<circle cx="313.2" cy="389.1" r="4.9" fill="url(#gB2)"/>
<circle cx="314.7" cy="389.3" r="4.9" fill="url(#gB2)"/>
<circle cx="316.3" cy="389.8" r="4.9" fill="url(#gB2)"/>
<circle cx="317.8" cy="389.2" r="4.9" fill="url(#gB2)"/>
<circle cx="319.3" cy="389.2" r="4.9" fill="url(#gB2)"/>
<circle cx="320.9" cy="390.1" r="4.9" fill="url(#gB2)"/>
<circle cx="322.4" cy="389.8" r="4.9" fill="url(#gB2)"/>
<circle cx="323.9" cy="391.3" r="4.9" fill="url(#gB2)"/>
<circle cx="325.5" cy="389.8" r="4.9" fill="url(#gB2)"/>
<circle cx="327.0" cy="390.5" r="4.9" fill="url(#gB2)"/>
<circle cx="328.5" cy="389.9" r="4.9" fill="url(#gB2)"/>
<circle cx="330.1" cy="390.2" r="4.9" fill="url(#gB2)"/>
<circle cx="331.6" cy="391.0" r="4.9" fill="url(#gB2)"/>
<circle cx="333.1" cy="391.6" r="4.9" fill="url(#gB2)"/>
<circle cx="334.6" cy="389.7" r="4.9" fill="url(#gB2)"/>
<circle cx="336.2" cy="391.5" r="4.9" fill="url(#gB2)"/>
<circle cx="337.7" cy="390.8" r="4.9" fill="url(#gB2)"/>
<circle cx="339.2" cy="391.1" r="4.9" fill="url(#gB2)"/>
<circle cx="340.8" cy="391.3" r="4.9" fill="url(#gB2)"/>
<circle cx="342.3" cy="390.3" r="4.9" fill="url(#gB2)"/>
<circle cx="343.8" cy="389.8" r="4.9" fill="url(#gB2)"/>
<circle cx="345.4" cy="391.5" r="4.9" fill="url(#gB2)"/>
<circle cx="346.9" cy="390.6" r="4.9" fill="url(#gB2)"/>
<circle cx="348.4" cy="391.5" r="4.9" fill="url(#gB2)"/>
<circle cx="350.0" cy="391.0" r="4.9" fill="url(#gB2)"/>
<circle cx="351.5" cy="391.4" r="4.9" fill="url(#gB2)"/>
<circle cx="46.6" cy="373.2" r="4.9" fill="url(#gO2)"/>
<circle cx="48.2" cy="373.2" r="4.9" fill="url(#gO2)"/>
<circle cx="49.7" cy="373.2" r="4.9" fill="url(#gO2)"/>
<circle cx="51.2" cy="372.4" r="4.9" fill="url(#gO2)"/>
<circle cx="52.8" cy="372.9" r="4.9" fill="url(#gO2)"/>
<circle cx="54.3" cy="373.2" r="4.9" fill="url(#gO2)"/>
<circle cx="55.8" cy="372.4" r="4.9" fill="url(#gO2)"/>
<circle cx="57.4" cy="372.3" r="4.9" fill="url(#gO2)"/>
<circle cx="58.9" cy="372.9" r="4.9" fill="url(#gO2)"/>
<circle cx="60.4" cy="373.2" r="4.9" fill="url(#gO2)"/>
<circle cx="62.0" cy="373.1" r="4.9" fill="url(#gO2)"/>
<circle cx="63.5" cy="373.1" r="4.9" fill="url(#gO2)"/>
<circle cx="65.0" cy="372.8" r="4.9" fill="url(#gO2)"/>
<circle cx="66.5" cy="373.0" r="4.9" fill="url(#gO2)"/>
<circle cx="68.1" cy="373.0" r="4.9" fill="url(#gO2)"/>
<circle cx="69.6" cy="373.1" r="4.9" fill="url(#gO2)"/>
<circle cx="71.1" cy="372.9" r="4.9" fill="url(#gO2)"/>
<circle cx="72.7" cy="372.7" r="4.9" fill="url(#gO2)"/>
<circle cx="74.2" cy="373.0" r="4.9" fill="url(#gO2)"/>
<circle cx="75.7" cy="373.5" r="4.9" fill="url(#gO2)"/>
<circle cx="77.3" cy="373.7" r="4.9" fill="url(#gO2)"/>
<circle cx="78.8" cy="373.8" r="4.9" fill="url(#gO2)"/>
<circle cx="80.3" cy="374.2" r="4.9" fill="url(#gO2)"/>
<circle cx="81.9" cy="374.5" r="4.9" fill="url(#gO2)"/>
<circle cx="83.4" cy="375.0" r="4.9" fill="url(#gO2)"/>
<circle cx="84.9" cy="375.0" r="4.9" fill="url(#gO2)"/>
<circle cx="86.5" cy="374.5" r="4.9" fill="url(#gO2)"/>
<circle cx="88.0" cy="375.7" r="4.9" fill="url(#gO2)"/>
<circle cx="89.5" cy="375.4" r="4.9" fill="url(#gO2)"/>
<circle cx="91.1" cy="375.5" r="4.9" fill="url(#gO2)"/>
<circle cx="92.6" cy="375.5" r="4.9" fill="url(#gO2)"/>
<circle cx="94.1" cy="376.5" r="4.9" fill="url(#gO2)"/>
<circle cx="95.7" cy="376.6" r="4.9" fill="url(#gO2)"/>
<circle cx="97.2" cy="376.9" r="4.9" fill="url(#gO2)"/>
<circle cx="98.7" cy="376.9" r="4.9" fill="url(#gO2)"/>
<circle cx="100.3" cy="377.1" r="4.9" fill="url(#gO2)"/>
<circle cx="101.8" cy="376.7" r="4.9" fill="url(#gO2)"/>
<circle cx="103.3" cy="377.1" r="4.9" fill="url(#gO2)"/>
<circle cx="104.8" cy="377.3" r="4.9" fill="url(#gO2)"/>
<circle cx="106.4" cy="378.4" r="4.9" fill="url(#gO2)"/>
<circle cx="107.9" cy="378.5" r="4.9" fill="url(#gO2)"/>
<circle cx="109.4" cy="377.9" r="4.9" fill="url(#gO2)"/>
<circle cx="111.0" cy="377.8" r="4.9" fill="url(#gO2)"/>
<circle cx="112.5" cy="378.5" r="4.9" fill="url(#gO2)"/>
<circle cx="114.0" cy="378.5" r="4.9" fill="url(#gO2)"/>
<circle cx="115.6" cy="379.3" r="4.9" fill="url(#gO2)"/>
<circle cx="117.1" cy="379.0" r="4.9" fill="url(#gO2)"/>
<circle cx="118.6" cy="378.5" r="4.9" fill="url(#gO2)"/>
<circle cx="120.2" cy="378.8" r="4.9" fill="url(#gO2)"/>
<circle cx="121.7" cy="378.9" r="4.9" fill="url(#gO2)"/>
<circle cx="123.2" cy="378.9" r="4.9" fill="url(#gO2)"/>
<circle cx="124.8" cy="379.9" r="4.9" fill="url(#gO2)"/>
<circle cx="126.3" cy="380.2" r="4.9" fill="url(#gO2)"/>
<circle cx="127.8" cy="380.2" r="4.9" fill="url(#gO2)"/>
<circle cx="129.4" cy="380.0" r="4.9" fill="url(#gO2)"/>
<circle cx="130.9" cy="379.9" r="4.9" fill="url(#gO2)"/>
<circle cx="132.4" cy="379.8" r="4.9" fill="url(#gO2)"/>
<circle cx="134.0" cy="380.2" r="4.9" fill="url(#gO2)"/>
<circle cx="135.5" cy="380.4" r="4.9" fill="url(#gO2)"/>
<circle cx="137.0" cy="380.4" r="4.9" fill="url(#gO2)"/>
<circle cx="138.6" cy="380.9" r="4.9" fill="url(#gO2)"/>
<circle cx="140.1" cy="380.9" r="4.9" fill="url(#gO2)"/>
<circle cx="141.6" cy="381.7" r="4.9" fill="url(#gO2)"/>
<circle cx="143.1" cy="381.0" r="4.9" fill="url(#gO2)"/>
<circle cx="144.7" cy="381.7" r="4.9" fill="url(#gO2)"/>
<circle cx="146.2" cy="381.1" r="4.9" fill="url(#gO2)"/>
<circle cx="147.7" cy="381.5" r="4.9" fill="url(#gO2)"/>
<circle cx="149.3" cy="382.1" r="4.9" fill="url(#gO2)"/>
<circle cx="150.8" cy="382.4" r="4.9" fill="url(#gO2)"/>
<circle cx="152.3" cy="382.4" r="4.9" fill="url(#gO2)"/>
<circle cx="153.9" cy="382.1" r="4.9" fill="url(#gO2)"/>
<circle cx="155.4" cy="382.2" r="4.9" fill="url(#gO2)"/>
<circle cx="156.9" cy="383.0" r="4.9" fill="url(#gO2)"/>
<circle cx="158.5" cy="383.2" r="4.9" fill="url(#gO2)"/>
<circle cx="160.0" cy="382.8" r="4.9" fill="url(#gO2)"/>
<circle cx="161.5" cy="382.8" r="4.9" fill="url(#gO2)"/>
<circle cx="163.1" cy="383.1" r="4.9" fill="url(#gO2)"/>
<circle cx="164.6" cy="383.4" r="4.9" fill="url(#gO2)"/>
<circle cx="166.1" cy="383.0" r="4.9" fill="url(#gO2)"/>
<circle cx="167.7" cy="383.7" r="4.9" fill="url(#gO2)"/>
<circle cx="169.2" cy="383.5" r="4.9" fill="url(#gO2)"/>
<circle cx="170.7" cy="383.3" r="4.9" fill="url(#gO2)"/>
<circle cx="172.3" cy="382.8" r="4.9" fill="url(#gO2)"/>
<circle cx="173.8" cy="383.3" r="4.9" fill="url(#gO2)"/>
<circle cx="175.3" cy="383.0" r="4.9" fill="url(#gO2)"/>
<circle cx="176.9" cy="383.6" r="4.9" fill="url(#gO2)"/>
<circle cx="178.4" cy="383.9" r="4.9" fill="url(#gO2)"/>
<circle cx="179.9" cy="384.0" r="4.9" fill="url(#gO2)"/>
<circle cx="181.4" cy="383.2" r="4.9" fill="url(#gO2)"/>
<circle cx="183.0" cy="383.6" r="4.9" fill="url(#gO2)"/>
<circle cx="184.5" cy="384.1" r="4.9" fill="url(#gO2)"/>
<circle cx="186.0" cy="384.5" r="4.9" fill="url(#gO2)"/>
<circle cx="187.6" cy="384.0" r="4.9" fill="url(#gO2)"/>
<circle cx="189.1" cy="383.9" r="4.9" fill="url(#gO2)"/>
<circle cx="190.6" cy="384.2" r="4.9" fill="url(#gO2)"/>
<circle cx="192.2" cy="384.5" r="4.9" fill="url(#gO2)"/>
<circle cx="193.7" cy="384.1" r="4.9" fill="url(#gO2)"/>
<circle cx="195.2" cy="383.8" r="4.9" fill="url(#gO2)"/>
<circle cx="196.8" cy="384.7" r="4.9" fill="url(#gO2)"/>
<circle cx="198.3" cy="385.0" r="4.9" fill="url(#gO2)"/>
<circle cx="199.8" cy="384.7" r="4.9" fill="url(#gO2)"/>
<circle cx="201.4" cy="384.7" r="4.9" fill="url(#gO2)"/>
<circle cx="202.9" cy="384.4" r="4.9" fill="url(#gO2)"/>
<circle cx="204.4" cy="385.0" r="4.9" fill="url(#gO2)"/>
<circle cx="206.0" cy="384.4" r="4.9" fill="url(#gO2)"/>
<circle cx="207.5" cy="384.5" r="4.9" fill="url(#gO2)"/>
<circle cx="209.0" cy="384.9" r="4.9" fill="url(#gO2)"/>
<circle cx="210.6" cy="385.3" r="4.9" fill="url(#gO2)"/>
<circle cx="212.1" cy="384.5" r="4.9" fill="url(#gO2)"/>
<circle cx="213.6" cy="385.3" r="4.9" fill="url(#gO2)"/>
<circle cx="215.2" cy="384.8" r="4.9" fill="url(#gO2)"/>
<circle cx="216.7" cy="385.5" r="4.9" fill="url(#gO2)"/>
<circle cx="218.2" cy="385.6" r="4.9" fill="url(#gO2)"/>
<circle cx="219.7" cy="385.0" r="4.9" fill="url(#gO2)"/>
<circle cx="221.3" cy="385.6" r="4.9" fill="url(#gO2)"/>
<circle cx="222.8" cy="384.9" r="4.9" fill="url(#gO2)"/>
<circle cx="224.3" cy="385.5" r="4.9" fill="url(#gO2)"/>
<circle cx="225.9" cy="385.9" r="4.9" fill="url(#gO2)"/>
<circle cx="227.4" cy="386.0" r="4.9" fill="url(#gO2)"/>
<circle cx="228.9" cy="385.8" r="4.9" fill="url(#gO2)"/>
<circle cx="230.5" cy="385.6" r="4.9" fill="url(#gO2)"/>
<circle cx="232.0" cy="385.3" r="4.9" fill="url(#gO2)"/>
<circle cx="233.5" cy="386.2" r="4.9" fill="url(#gO2)"/>
<circle cx="235.1" cy="386.0" r="4.9" fill="url(#gO2)"/>
<circle cx="236.6" cy="386.2" r="4.9" fill="url(#gO2)"/>
<circle cx="238.1" cy="385.4" r="4.9" fill="url(#gO2)"/>
<circle cx="239.7" cy="386.4" r="4.9" fill="url(#gO2)"/>
<circle cx="241.2" cy="386.6" r="4.9" fill="url(#gO2)"/>
<circle cx="242.7" cy="386.6" r="4.9" fill="url(#gO2)"/>
<circle cx="244.3" cy="386.3" r="4.9" fill="url(#gO2)"/>
<circle cx="245.8" cy="385.7" r="4.9" fill="url(#gO2)"/>
<circle cx="247.3" cy="385.8" r="4.9" fill="url(#gO2)"/>
<circle cx="248.9" cy="386.0" r="4.9" fill="url(#gO2)"/>
<circle cx="250.4" cy="385.7" r="4.9" fill="url(#gO2)"/>
<circle cx="251.9" cy="385.9" r="4.9" fill="url(#gO2)"/>
<circle cx="253.5" cy="386.6" r="4.9" fill="url(#gO2)"/>
<circle cx="255.0" cy="386.8" r="4.9" fill="url(#gO2)"/>
<circle cx="256.5" cy="386.0" r="4.9" fill="url(#gO2)"/>
<circle cx="258.0" cy="386.2" r="4.9" fill="url(#gO2)"/>
<circle cx="259.6" cy="387.1" r="4.9" fill="url(#gO2)"/>
<circle cx="261.1" cy="386.4" r="4.9" fill="url(#gO2)"/>
<circle cx="262.6" cy="386.8" r="4.9" fill="url(#gO2)"/>
<circle cx="264.2" cy="386.8" r="4.9" fill="url(#gO2)"/>
<circle cx="265.7" cy="386.9" r="4.9" fill="url(#gO2)"/>
<circle cx="267.2" cy="387.2" r="4.9" fill="url(#gO2)"/>
<circle cx="268.8" cy="387.4" r="4.9" fill="url(#gO2)"/>
<circle cx="270.3" cy="387.1" r="4.9" fill="url(#gO2)"/>
<circle cx="271.8" cy="387.1" r="4.9" fill="url(#gO2)"/>
<circle cx="273.4" cy="386.4" r="4.9" fill="url(#gO2)"/>
<circle cx="274.9" cy="387.4" r="4.9" fill="url(#gO2)"/>
<circle cx="276.4" cy="386.5" r="4.9" fill="url(#gO2)"/>
<circle cx="278.0" cy="387.4" r="4.9" fill="url(#gO2)"/>
<circle cx="279.5" cy="387.3" r="4.9" fill="url(#gO2)"/>
<circle cx="281.0" cy="386.8" r="4.9" fill="url(#gO2)"/>
<circle cx="282.6" cy="386.8" r="4.9" fill="url(#gO2)"/>
<circle cx="284.1" cy="387.3" r="4.9" fill="url(#gO2)"/>
<circle cx="285.6" cy="387.8" r="4.9" fill="url(#gO2)"/>
<circle cx="287.2" cy="387.4" r="4.9" fill="url(#gO2)"/>
<circle cx="288.7" cy="387.5" r="4.9" fill="url(#gO2)"/>
<circle cx="290.2" cy="386.9" r="4.9" fill="url(#gO2)"/>
<circle cx="291.8" cy="387.8" r="4.9" fill="url(#gO2)"/>
<circle cx="293.3" cy="387.7" r="4.9" fill="url(#gO2)"/>
<circle cx="294.8" cy="387.2" r="4.9" fill="url(#gO2)"/>
<circle cx="296.3" cy="388.2" r="4.9" fill="url(#gO2)"/>
<circle cx="297.9" cy="387.8" r="4.9" fill="url(#gO2)"/>
<circle cx="299.4" cy="387.4" r="4.9" fill="url(#gO2)"/>
<circle cx="300.9" cy="387.6" r="4.9" fill="url(#gO2)"/>
<circle cx="302.5" cy="388.5" r="4.9" fill="url(#gO2)"/>
<circle cx="304.0" cy="388.5" r="4.9" fill="url(#gO2)"/>
<circle cx="305.5" cy="388.6" r="4.9" fill="url(#gO2)"/>
<circle cx="307.1" cy="387.6" r="4.9" fill="url(#gO2)"/>
<circle cx="308.6" cy="388.5" r="4.9" fill="url(#gO2)"/>
<circle cx="310.1" cy="388.0" r="4.9" fill="url(#gO2)"/>
<circle cx="311.7" cy="387.9" r="4.9" fill="url(#gO2)"/>
<circle cx="313.2" cy="388.6" r="4.9" fill="url(#gO2)"/>
<circle cx="314.7" cy="388.7" r="4.9" fill="url(#gO2)"/>
<circle cx="316.3" cy="388.0" r="4.9" fill="url(#gO2)"/>
<circle cx="317.8" cy="388.4" r="4.9" fill="url(#gO2)"/>
<circle cx="319.3" cy="388.9" r="4.9" fill="url(#gO2)"/>
<circle cx="320.9" cy="388.5" r="4.9" fill="url(#gO2)"/>
<circle cx="322.4" cy="389.0" r="4.9" fill="url(#gO2)"/>
<circle cx="323.9" cy="389.1" r="4.9" fill="url(#gO2)"/>
<circle cx="325.5" cy="389.5" r="4.9" fill="url(#gO2)"/>
<circle cx="327.0" cy="388.7" r="4.9" fill="url(#gO2)"/>
<circle cx="328.5" cy="388.6" r="4.9" fill="url(#gO2)"/>
<circle cx="330.1" cy="388.9" r="4.9" fill="url(#gO2)"/>
<circle cx="331.6" cy="388.6" r="4.9" fill="url(#gO2)"/>
<circle cx="333.1" cy="389.8" r="4.9" fill="url(#gO2)"/>
<circle cx="334.6" cy="389.6" r="4.9" fill="url(#gO2)"/>
<circle cx="336.2" cy="389.4" r="4.9" fill="url(#gO2)"/>
<circle cx="337.7" cy="388.9" r="4.9" fill="url(#gO2)"/>
<circle cx="339.2" cy="389.0" r="4.9" fill="url(#gO2)"/>
<circle cx="340.8" cy="389.7" r="4.9" fill="url(#gO2)"/>
<circle cx="342.3" cy="389.9" r="4.9" fill="url(#gO2)"/>
<circle cx="343.8" cy="389.7" r="4.9" fill="url(#gO2)"/>
<circle cx="345.4" cy="389.7" r="4.9" fill="url(#gO2)"/>
<circle cx="346.9" cy="389.3" r="4.9" fill="url(#gO2)"/>
<circle cx="348.4" cy="390.2" r="4.9" fill="url(#gO2)"/>
<circle cx="350.0" cy="389.6" r="4.9" fill="url(#gO2)"/>
<circle cx="351.5" cy="389.7" r="4.9" fill="url(#gO2)"/>
</g>
<rect x="84.4" y="413.5" width="248.20000000000002" height="65.89999999999998" fill="#fff" stroke="none" stroke-width="1" />
<circle cx="85.3" cy="426.5" r="2.35" fill="none" stroke="#56B4E9" stroke-width="0.6"/>
<circle cx="87.8" cy="422.7" r="2.35" fill="none" stroke="#56B4E9" stroke-width="0.6"/>
<circle cx="90.3" cy="429.9" r="2.35" fill="none" stroke="#56B4E9" stroke-width="0.6"/>
<circle cx="92.8" cy="423.6" r="2.35" fill="none" stroke="#56B4E9" stroke-width="0.6"/>
<circle cx="95.3" cy="427.7" r="2.35" fill="none" stroke="#56B4E9" stroke-width="0.6"/>
<circle cx="97.8" cy="427.7" r="2.35" fill="none" stroke="#56B4E9" stroke-width="0.6"/>
<circle cx="100.3" cy="420.6" r="2.35" fill="none" stroke="#56B4E9" stroke-width="0.6"/>
<circle cx="102.7" cy="426.3" r="2.35" fill="none" stroke="#56B4E9" stroke-width="0.6"/>
<circle cx="105.2" cy="427.0" r="2.35" fill="none" stroke="#56B4E9" stroke-width="0.6"/>
<circle cx="107.7" cy="424.4" r="2.35" fill="none" stroke="#56B4E9" stroke-width="0.6"/>
<circle cx="110.2" cy="423.1" r="2.35" fill="none" stroke="#56B4E9" stroke-width="0.6"/>
<circle cx="112.7" cy="426.9" r="2.35" fill="none" stroke="#56B4E9" stroke-width="0.6"/>
<circle cx="115.2" cy="424.9" r="2.35" fill="none" stroke="#56B4E9" stroke-width="0.6"/>
<circle cx="117.7" cy="430.0" r="2.35" fill="none" stroke="#56B4E9" stroke-width="0.6"/>
<circle cx="120.1" cy="428.0" r="2.35" fill="none" stroke="#56B4E9" stroke-width="0.6"/>
<circle cx="122.6" cy="428.3" r="2.35" fill="none" stroke="#56B4E9" stroke-width="0.6"/>
<circle cx="125.1" cy="431.2" r="2.35" fill="none" stroke="#56B4E9" stroke-width="0.6"/>
<circle cx="127.6" cy="431.8" r="2.35" fill="none" stroke="#56B4E9" stroke-width="0.6"/>
<circle cx="130.1" cy="432.2" r="2.35" fill="none" stroke="#56B4E9" stroke-width="0.6"/>
<circle cx="132.6" cy="427.6" r="2.35" fill="none" stroke="#56B4E9" stroke-width="0.6"/>
<circle cx="135.1" cy="427.4" r="2.35" fill="none" stroke="#56B4E9" stroke-width="0.6"/>
<circle cx="137.5" cy="427.9" r="2.35" fill="none" stroke="#56B4E9" stroke-width="0.6"/>
<circle cx="140.0" cy="426.6" r="2.35" fill="none" stroke="#56B4E9" stroke-width="0.6"/>
<circle cx="142.5" cy="431.2" r="2.35" fill="none" stroke="#56B4E9" stroke-width="0.6"/>
<circle cx="145.0" cy="427.1" r="2.35" fill="none" stroke="#56B4E9" stroke-width="0.6"/>
<circle cx="147.5" cy="426.1" r="2.35" fill="none" stroke="#56B4E9" stroke-width="0.6"/>
<circle cx="150.0" cy="424.4" r="2.35" fill="none" stroke="#56B4E9" stroke-width="0.6"/>
<circle cx="152.5" cy="429.6" r="2.35" fill="none" stroke="#56B4E9" stroke-width="0.6"/>
<circle cx="155.0" cy="428.2" r="2.35" fill="none" stroke="#56B4E9" stroke-width="0.6"/>
<circle cx="157.4" cy="433.5" r="2.35" fill="none" stroke="#56B4E9" stroke-width="0.6"/>
<circle cx="159.9" cy="428.5" r="2.35" fill="none" stroke="#56B4E9" stroke-width="0.6"/>
<circle cx="162.4" cy="434.1" r="2.35" fill="none" stroke="#56B4E9" stroke-width="0.6"/>
<circle cx="164.9" cy="431.5" r="2.35" fill="none" stroke="#56B4E9" stroke-width="0.6"/>
<circle cx="167.4" cy="423.2" r="2.35" fill="none" stroke="#56B4E9" stroke-width="0.6"/>
<circle cx="169.9" cy="434.1" r="2.35" fill="none" stroke="#56B4E9" stroke-width="0.6"/>
<circle cx="172.4" cy="424.2" r="2.35" fill="none" stroke="#56B4E9" stroke-width="0.6"/>
<circle cx="174.8" cy="425.8" r="2.35" fill="none" stroke="#56B4E9" stroke-width="0.6"/>
<circle cx="177.3" cy="427.9" r="2.35" fill="none" stroke="#56B4E9" stroke-width="0.6"/>
<circle cx="179.8" cy="425.3" r="2.35" fill="none" stroke="#56B4E9" stroke-width="0.6"/>
<circle cx="182.3" cy="425.1" r="2.35" fill="none" stroke="#56B4E9" stroke-width="0.6"/>
<circle cx="184.8" cy="423.4" r="2.35" fill="none" stroke="#56B4E9" stroke-width="0.6"/>
<circle cx="187.3" cy="427.6" r="2.35" fill="none" stroke="#56B4E9" stroke-width="0.6"/>
<circle cx="189.8" cy="428.8" r="2.35" fill="none" stroke="#56B4E9" stroke-width="0.6"/>
<circle cx="192.2" cy="428.8" r="2.35" fill="none" stroke="#56B4E9" stroke-width="0.6"/>
<circle cx="194.7" cy="430.1" r="2.35" fill="none" stroke="#56B4E9" stroke-width="0.6"/>
<circle cx="197.2" cy="427.0" r="2.35" fill="none" stroke="#56B4E9" stroke-width="0.6"/>
<circle cx="199.7" cy="429.4" r="2.35" fill="none" stroke="#56B4E9" stroke-width="0.6"/>
<circle cx="202.2" cy="423.3" r="2.35" fill="none" stroke="#56B4E9" stroke-width="0.6"/>
<circle cx="204.7" cy="433.0" r="2.35" fill="none" stroke="#56B4E9" stroke-width="0.6"/>
<circle cx="207.2" cy="430.4" r="2.35" fill="none" stroke="#56B4E9" stroke-width="0.6"/>
<circle cx="209.6" cy="430.0" r="2.35" fill="none" stroke="#56B4E9" stroke-width="0.6"/>
<circle cx="212.1" cy="433.7" r="2.35" fill="none" stroke="#56B4E9" stroke-width="0.6"/>
<circle cx="214.6" cy="420.6" r="2.35" fill="none" stroke="#56B4E9" stroke-width="0.6"/>
<circle cx="217.1" cy="434.8" r="2.35" fill="none" stroke="#56B4E9" stroke-width="0.6"/>
<circle cx="219.6" cy="427.8" r="2.35" fill="none" stroke="#56B4E9" stroke-width="0.6"/>
<circle cx="222.1" cy="428.6" r="2.35" fill="none" stroke="#56B4E9" stroke-width="0.6"/>
<circle cx="224.6" cy="421.4" r="2.35" fill="none" stroke="#56B4E9" stroke-width="0.6"/>
<circle cx="227.0" cy="433.4" r="2.35" fill="none" stroke="#56B4E9" stroke-width="0.6"/>
<circle cx="229.5" cy="423.3" r="2.35" fill="none" stroke="#56B4E9" stroke-width="0.6"/>
<circle cx="232.0" cy="429.2" r="2.35" fill="none" stroke="#56B4E9" stroke-width="0.6"/>
<circle cx="234.5" cy="427.3" r="2.35" fill="none" stroke="#56B4E9" stroke-width="0.6"/>
<circle cx="237.0" cy="429.0" r="2.35" fill="none" stroke="#56B4E9" stroke-width="0.6"/>
<circle cx="239.5" cy="424.7" r="2.35" fill="none" stroke="#56B4E9" stroke-width="0.6"/>
<circle cx="242.0" cy="430.6" r="2.35" fill="none" stroke="#56B4E9" stroke-width="0.6"/>
<circle cx="244.4" cy="427.1" r="2.35" fill="none" stroke="#56B4E9" stroke-width="0.6"/>
<circle cx="246.9" cy="425.7" r="2.35" fill="none" stroke="#56B4E9" stroke-width="0.6"/>
<circle cx="249.4" cy="420.8" r="2.35" fill="none" stroke="#56B4E9" stroke-width="0.6"/>
<circle cx="251.9" cy="434.7" r="2.35" fill="none" stroke="#56B4E9" stroke-width="0.6"/>
<circle cx="254.4" cy="421.8" r="2.35" fill="none" stroke="#56B4E9" stroke-width="0.6"/>
<circle cx="256.9" cy="423.7" r="2.35" fill="none" stroke="#56B4E9" stroke-width="0.6"/>
<circle cx="259.4" cy="428.4" r="2.35" fill="none" stroke="#56B4E9" stroke-width="0.6"/>
<circle cx="261.8" cy="425.8" r="2.35" fill="none" stroke="#56B4E9" stroke-width="0.6"/>
<circle cx="264.3" cy="428.4" r="2.35" fill="none" stroke="#56B4E9" stroke-width="0.6"/>
<circle cx="266.8" cy="421.4" r="2.35" fill="none" stroke="#56B4E9" stroke-width="0.6"/>
<circle cx="269.3" cy="426.2" r="2.35" fill="none" stroke="#56B4E9" stroke-width="0.6"/>
<circle cx="271.8" cy="427.5" r="2.35" fill="none" stroke="#56B4E9" stroke-width="0.6"/>
<circle cx="274.3" cy="427.6" r="2.35" fill="none" stroke="#56B4E9" stroke-width="0.6"/>
<circle cx="276.8" cy="427.5" r="2.35" fill="none" stroke="#56B4E9" stroke-width="0.6"/>
<circle cx="279.3" cy="427.4" r="2.35" fill="none" stroke="#56B4E9" stroke-width="0.6"/>
<circle cx="281.7" cy="429.7" r="2.35" fill="none" stroke="#56B4E9" stroke-width="0.6"/>
<circle cx="284.2" cy="420.1" r="2.35" fill="none" stroke="#56B4E9" stroke-width="0.6"/>
<circle cx="286.7" cy="433.1" r="2.35" fill="none" stroke="#56B4E9" stroke-width="0.6"/>
<circle cx="289.2" cy="438.7" r="2.35" fill="none" stroke="#56B4E9" stroke-width="0.6"/>
<circle cx="291.7" cy="427.2" r="2.35" fill="none" stroke="#56B4E9" stroke-width="0.6"/>
<circle cx="294.2" cy="427.3" r="2.35" fill="none" stroke="#56B4E9" stroke-width="0.6"/>
<circle cx="296.7" cy="425.6" r="2.35" fill="none" stroke="#56B4E9" stroke-width="0.6"/>
<circle cx="299.1" cy="427.5" r="2.35" fill="none" stroke="#56B4E9" stroke-width="0.6"/>
<circle cx="301.6" cy="427.3" r="2.35" fill="none" stroke="#56B4E9" stroke-width="0.6"/>
<circle cx="304.1" cy="425.7" r="2.35" fill="none" stroke="#56B4E9" stroke-width="0.6"/>
<circle cx="306.6" cy="423.7" r="2.35" fill="none" stroke="#56B4E9" stroke-width="0.6"/>
<circle cx="309.1" cy="428.3" r="2.35" fill="none" stroke="#56B4E9" stroke-width="0.6"/>
<circle cx="311.6" cy="428.1" r="2.35" fill="none" stroke="#56B4E9" stroke-width="0.6"/>
<circle cx="314.1" cy="420.5" r="2.35" fill="none" stroke="#56B4E9" stroke-width="0.6"/>
<circle cx="316.5" cy="425.1" r="2.35" fill="none" stroke="#56B4E9" stroke-width="0.6"/>
<circle cx="319.0" cy="430.1" r="2.35" fill="none" stroke="#56B4E9" stroke-width="0.6"/>
<circle cx="321.5" cy="419.2" r="2.35" fill="none" stroke="#56B4E9" stroke-width="0.6"/>
<circle cx="324.0" cy="424.3" r="2.35" fill="none" stroke="#56B4E9" stroke-width="0.6"/>
<circle cx="326.5" cy="428.8" r="2.35" fill="none" stroke="#56B4E9" stroke-width="0.6"/>
<circle cx="329.0" cy="430.7" r="2.35" fill="none" stroke="#56B4E9" stroke-width="0.6"/>
<circle cx="331.5" cy="425.9" r="2.35" fill="none" stroke="#56B4E9" stroke-width="0.6"/>
<circle cx="85.3" cy="433.8" r="2.35" fill="none" stroke="#E38452" stroke-width="0.75"/>
<circle cx="86.6" cy="434.8" r="2.35" fill="none" stroke="#E38452" stroke-width="0.75"/>
<circle cx="87.8" cy="435.8" r="2.35" fill="none" stroke="#E38452" stroke-width="0.75"/>
<circle cx="89.1" cy="432.3" r="2.35" fill="none" stroke="#E38452" stroke-width="0.75"/>
<circle cx="90.3" cy="425.3" r="2.35" fill="none" stroke="#E38452" stroke-width="0.75"/>
<circle cx="91.6" cy="432.0" r="2.35" fill="none" stroke="#E38452" stroke-width="0.75"/>
<circle cx="92.8" cy="436.5" r="2.35" fill="none" stroke="#E38452" stroke-width="0.75"/>
<circle cx="94.0" cy="427.2" r="2.35" fill="none" stroke="#E38452" stroke-width="0.75"/>
<circle cx="95.3" cy="429.8" r="2.35" fill="none" stroke="#E38452" stroke-width="0.75"/>
<circle cx="96.5" cy="426.4" r="2.35" fill="none" stroke="#E38452" stroke-width="0.75"/>
<circle cx="97.8" cy="424.9" r="2.35" fill="none" stroke="#E38452" stroke-width="0.75"/>
<circle cx="99.0" cy="430.9" r="2.35" fill="none" stroke="#E38452" stroke-width="0.75"/>
<circle cx="100.3" cy="430.8" r="2.35" fill="none" stroke="#E38452" stroke-width="0.75"/>
<circle cx="101.5" cy="430.3" r="2.35" fill="none" stroke="#E38452" stroke-width="0.75"/>
<circle cx="102.7" cy="435.1" r="2.35" fill="none" stroke="#E38452" stroke-width="0.75"/>
<circle cx="104.0" cy="427.2" r="2.35" fill="none" stroke="#E38452" stroke-width="0.75"/>
<circle cx="105.2" cy="424.1" r="2.35" fill="none" stroke="#E38452" stroke-width="0.75"/>
<circle cx="106.5" cy="429.4" r="2.35" fill="none" stroke="#E38452" stroke-width="0.75"/>
<circle cx="107.7" cy="431.2" r="2.35" fill="none" stroke="#E38452" stroke-width="0.75"/>
<circle cx="109.0" cy="431.3" r="2.35" fill="none" stroke="#E38452" stroke-width="0.75"/>
<circle cx="110.2" cy="433.5" r="2.35" fill="none" stroke="#E38452" stroke-width="0.75"/>
<circle cx="111.4" cy="433.6" r="2.35" fill="none" stroke="#E38452" stroke-width="0.75"/>
<circle cx="112.7" cy="431.9" r="2.35" fill="none" stroke="#E38452" stroke-width="0.75"/>
<circle cx="113.9" cy="433.8" r="2.35" fill="none" stroke="#E38452" stroke-width="0.75"/>
<circle cx="115.2" cy="432.0" r="2.35" fill="none" stroke="#E38452" stroke-width="0.75"/>
<circle cx="116.4" cy="437.0" r="2.35" fill="none" stroke="#E38452" stroke-width="0.75"/>
<circle cx="117.7" cy="428.6" r="2.35" fill="none" stroke="#E38452" stroke-width="0.75"/>
<circle cx="118.9" cy="429.9" r="2.35" fill="none" stroke="#E38452" stroke-width="0.75"/>
<circle cx="120.1" cy="435.2" r="2.35" fill="none" stroke="#E38452" stroke-width="0.75"/>
<circle cx="121.4" cy="440.2" r="2.35" fill="none" stroke="#E38452" stroke-width="0.75"/>
<circle cx="122.6" cy="430.2" r="2.35" fill="none" stroke="#E38452" stroke-width="0.75"/>
<circle cx="123.9" cy="425.3" r="2.35" fill="none" stroke="#E38452" stroke-width="0.75"/>
<circle cx="125.1" cy="433.3" r="2.35" fill="none" stroke="#E38452" stroke-width="0.75"/>
<circle cx="126.4" cy="432.2" r="2.35" fill="none" stroke="#E38452" stroke-width="0.75"/>
<circle cx="127.6" cy="432.6" r="2.35" fill="none" stroke="#E38452" stroke-width="0.75"/>
<circle cx="128.8" cy="427.3" r="2.35" fill="none" stroke="#E38452" stroke-width="0.75"/>
<circle cx="130.1" cy="434.1" r="2.35" fill="none" stroke="#E38452" stroke-width="0.75"/>
<circle cx="131.3" cy="425.8" r="2.35" fill="none" stroke="#E38452" stroke-width="0.75"/>
<circle cx="132.6" cy="431.5" r="2.35" fill="none" stroke="#E38452" stroke-width="0.75"/>
<circle cx="133.8" cy="426.1" r="2.35" fill="none" stroke="#E38452" stroke-width="0.75"/>
<circle cx="135.1" cy="430.0" r="2.35" fill="none" stroke="#E38452" stroke-width="0.75"/>
<circle cx="136.3" cy="431.1" r="2.35" fill="none" stroke="#E38452" stroke-width="0.75"/>
<circle cx="137.5" cy="436.6" r="2.35" fill="none" stroke="#E38452" stroke-width="0.75"/>
<circle cx="138.8" cy="433.1" r="2.35" fill="none" stroke="#E38452" stroke-width="0.75"/>
<circle cx="140.0" cy="431.3" r="2.35" fill="none" stroke="#E38452" stroke-width="0.75"/>
<circle cx="141.3" cy="427.2" r="2.35" fill="none" stroke="#E38452" stroke-width="0.75"/>
<circle cx="142.5" cy="429.1" r="2.35" fill="none" stroke="#E38452" stroke-width="0.75"/>
<circle cx="143.8" cy="433.2" r="2.35" fill="none" stroke="#E38452" stroke-width="0.75"/>
<circle cx="145.0" cy="428.3" r="2.35" fill="none" stroke="#E38452" stroke-width="0.75"/>
<circle cx="146.2" cy="425.8" r="2.35" fill="none" stroke="#E38452" stroke-width="0.75"/>
<circle cx="147.5" cy="430.8" r="2.35" fill="none" stroke="#E38452" stroke-width="0.75"/>
<circle cx="148.7" cy="432.0" r="2.35" fill="none" stroke="#E38452" stroke-width="0.75"/>
<circle cx="150.0" cy="431.8" r="2.35" fill="none" stroke="#E38452" stroke-width="0.75"/>
<circle cx="151.2" cy="426.6" r="2.35" fill="none" stroke="#E38452" stroke-width="0.75"/>
<circle cx="152.5" cy="427.8" r="2.35" fill="none" stroke="#E38452" stroke-width="0.75"/>
<circle cx="153.7" cy="434.2" r="2.35" fill="none" stroke="#E38452" stroke-width="0.75"/>
<circle cx="155.0" cy="428.5" r="2.35" fill="none" stroke="#E38452" stroke-width="0.75"/>
<circle cx="156.2" cy="432.2" r="2.35" fill="none" stroke="#E38452" stroke-width="0.75"/>
<circle cx="157.4" cy="433.4" r="2.35" fill="none" stroke="#E38452" stroke-width="0.75"/>
<circle cx="158.7" cy="424.7" r="2.35" fill="none" stroke="#E38452" stroke-width="0.75"/>
<circle cx="159.9" cy="426.5" r="2.35" fill="none" stroke="#E38452" stroke-width="0.75"/>
<circle cx="161.2" cy="433.3" r="2.35" fill="none" stroke="#E38452" stroke-width="0.75"/>
<circle cx="162.4" cy="429.8" r="2.35" fill="none" stroke="#E38452" stroke-width="0.75"/>
<circle cx="163.7" cy="427.9" r="2.35" fill="none" stroke="#E38452" stroke-width="0.75"/>
<circle cx="164.9" cy="432.9" r="2.35" fill="none" stroke="#E38452" stroke-width="0.75"/>
<circle cx="166.1" cy="430.7" r="2.35" fill="none" stroke="#E38452" stroke-width="0.75"/>
<circle cx="167.4" cy="427.2" r="2.35" fill="none" stroke="#E38452" stroke-width="0.75"/>
<circle cx="168.6" cy="438.0" r="2.35" fill="none" stroke="#E38452" stroke-width="0.75"/>
<circle cx="169.9" cy="428.7" r="2.35" fill="none" stroke="#E38452" stroke-width="0.75"/>
<circle cx="171.1" cy="426.9" r="2.35" fill="none" stroke="#E38452" stroke-width="0.75"/>
<circle cx="172.4" cy="427.9" r="2.35" fill="none" stroke="#E38452" stroke-width="0.75"/>
<circle cx="173.6" cy="436.0" r="2.35" fill="none" stroke="#E38452" stroke-width="0.75"/>
<circle cx="174.8" cy="428.7" r="2.35" fill="none" stroke="#E38452" stroke-width="0.75"/>
<circle cx="176.1" cy="433.9" r="2.35" fill="none" stroke="#E38452" stroke-width="0.75"/>
<circle cx="177.3" cy="427.6" r="2.35" fill="none" stroke="#E38452" stroke-width="0.75"/>
<circle cx="178.6" cy="427.5" r="2.35" fill="none" stroke="#E38452" stroke-width="0.75"/>
<circle cx="179.8" cy="429.2" r="2.35" fill="none" stroke="#E38452" stroke-width="0.75"/>
<circle cx="181.1" cy="433.5" r="2.35" fill="none" stroke="#E38452" stroke-width="0.75"/>
<circle cx="182.3" cy="432.7" r="2.35" fill="none" stroke="#E38452" stroke-width="0.75"/>
<circle cx="183.5" cy="426.4" r="2.35" fill="none" stroke="#E38452" stroke-width="0.75"/>
<circle cx="184.8" cy="434.1" r="2.35" fill="none" stroke="#E38452" stroke-width="0.75"/>
<circle cx="186.0" cy="428.0" r="2.35" fill="none" stroke="#E38452" stroke-width="0.75"/>
<circle cx="187.3" cy="427.9" r="2.35" fill="none" stroke="#E38452" stroke-width="0.75"/>
<circle cx="188.5" cy="431.3" r="2.35" fill="none" stroke="#E38452" stroke-width="0.75"/>
<circle cx="189.8" cy="419.6" r="2.35" fill="none" stroke="#E38452" stroke-width="0.75"/>
<circle cx="191.0" cy="429.8" r="2.35" fill="none" stroke="#E38452" stroke-width="0.75"/>
<circle cx="192.2" cy="420.7" r="2.35" fill="none" stroke="#E38452" stroke-width="0.75"/>
<circle cx="193.5" cy="439.0" r="2.35" fill="none" stroke="#E38452" stroke-width="0.75"/>
<circle cx="194.7" cy="440.0" r="2.35" fill="none" stroke="#E38452" stroke-width="0.75"/>
<circle cx="196.0" cy="425.8" r="2.35" fill="none" stroke="#E38452" stroke-width="0.75"/>
<circle cx="197.2" cy="427.3" r="2.35" fill="none" stroke="#E38452" stroke-width="0.75"/>
<circle cx="198.5" cy="431.5" r="2.35" fill="none" stroke="#E38452" stroke-width="0.75"/>
<circle cx="199.7" cy="430.4" r="2.35" fill="none" stroke="#E38452" stroke-width="0.75"/>
<circle cx="200.9" cy="438.5" r="2.35" fill="none" stroke="#E38452" stroke-width="0.75"/>
<circle cx="202.2" cy="432.9" r="2.35" fill="none" stroke="#E38452" stroke-width="0.75"/>
<circle cx="203.4" cy="434.7" r="2.35" fill="none" stroke="#E38452" stroke-width="0.75"/>
<circle cx="204.7" cy="431.1" r="2.35" fill="none" stroke="#E38452" stroke-width="0.75"/>
<circle cx="205.9" cy="426.2" r="2.35" fill="none" stroke="#E38452" stroke-width="0.75"/>
<circle cx="207.2" cy="429.9" r="2.35" fill="none" stroke="#E38452" stroke-width="0.75"/>
<circle cx="208.4" cy="428.5" r="2.35" fill="none" stroke="#E38452" stroke-width="0.75"/>
<circle cx="209.6" cy="433.2" r="2.35" fill="none" stroke="#E38452" stroke-width="0.75"/>
<circle cx="210.9" cy="432.0" r="2.35" fill="none" stroke="#E38452" stroke-width="0.75"/>
<circle cx="212.1" cy="429.6" r="2.35" fill="none" stroke="#E38452" stroke-width="0.75"/>
<circle cx="213.4" cy="431.4" r="2.35" fill="none" stroke="#E38452" stroke-width="0.75"/>
<circle cx="214.6" cy="424.6" r="2.35" fill="none" stroke="#E38452" stroke-width="0.75"/>
<circle cx="215.9" cy="434.0" r="2.35" fill="none" stroke="#E38452" stroke-width="0.75"/>
<circle cx="217.1" cy="421.8" r="2.35" fill="none" stroke="#E38452" stroke-width="0.75"/>
<circle cx="218.3" cy="434.4" r="2.35" fill="none" stroke="#E38452" stroke-width="0.75"/>
<circle cx="219.6" cy="425.5" r="2.35" fill="none" stroke="#E38452" stroke-width="0.75"/>
<circle cx="220.8" cy="433.5" r="2.35" fill="none" stroke="#E38452" stroke-width="0.75"/>
<circle cx="222.1" cy="422.9" r="2.35" fill="none" stroke="#E38452" stroke-width="0.75"/>
<circle cx="223.3" cy="429.5" r="2.35" fill="none" stroke="#E38452" stroke-width="0.75"/>
<circle cx="224.6" cy="428.4" r="2.35" fill="none" stroke="#E38452" stroke-width="0.75"/>
<circle cx="225.8" cy="426.9" r="2.35" fill="none" stroke="#E38452" stroke-width="0.75"/>
<circle cx="227.0" cy="432.9" r="2.35" fill="none" stroke="#E38452" stroke-width="0.75"/>
<circle cx="228.3" cy="434.7" r="2.35" fill="none" stroke="#E38452" stroke-width="0.75"/>
<circle cx="229.5" cy="439.0" r="2.35" fill="none" stroke="#E38452" stroke-width="0.75"/>
<circle cx="230.8" cy="424.8" r="2.35" fill="none" stroke="#E38452" stroke-width="0.75"/>
<circle cx="232.0" cy="433.2" r="2.35" fill="none" stroke="#E38452" stroke-width="0.75"/>
<circle cx="233.3" cy="432.7" r="2.35" fill="none" stroke="#E38452" stroke-width="0.75"/>
<circle cx="234.5" cy="430.3" r="2.35" fill="none" stroke="#E38452" stroke-width="0.75"/>
<circle cx="235.7" cy="421.4" r="2.35" fill="none" stroke="#E38452" stroke-width="0.75"/>
<circle cx="237.0" cy="437.7" r="2.35" fill="none" stroke="#E38452" stroke-width="0.75"/>
<circle cx="238.2" cy="429.0" r="2.35" fill="none" stroke="#E38452" stroke-width="0.75"/>
<circle cx="239.5" cy="431.9" r="2.35" fill="none" stroke="#E38452" stroke-width="0.75"/>
<circle cx="240.7" cy="427.8" r="2.35" fill="none" stroke="#E38452" stroke-width="0.75"/>
<circle cx="242.0" cy="438.0" r="2.35" fill="none" stroke="#E38452" stroke-width="0.75"/>
<circle cx="243.2" cy="431.9" r="2.35" fill="none" stroke="#E38452" stroke-width="0.75"/>
<circle cx="244.4" cy="426.4" r="2.35" fill="none" stroke="#E38452" stroke-width="0.75"/>
<circle cx="245.7" cy="423.3" r="2.35" fill="none" stroke="#E38452" stroke-width="0.75"/>
<circle cx="246.9" cy="423.1" r="2.35" fill="none" stroke="#E38452" stroke-width="0.75"/>
<circle cx="248.2" cy="433.9" r="2.35" fill="none" stroke="#E38452" stroke-width="0.75"/>
<circle cx="249.4" cy="429.9" r="2.35" fill="none" stroke="#E38452" stroke-width="0.75"/>
<circle cx="250.7" cy="430.6" r="2.35" fill="none" stroke="#E38452" stroke-width="0.75"/>
<circle cx="251.9" cy="436.2" r="2.35" fill="none" stroke="#E38452" stroke-width="0.75"/>
<circle cx="253.1" cy="436.4" r="2.35" fill="none" stroke="#E38452" stroke-width="0.75"/>
<circle cx="254.4" cy="426.8" r="2.35" fill="none" stroke="#E38452" stroke-width="0.75"/>
<circle cx="255.6" cy="429.0" r="2.35" fill="none" stroke="#E38452" stroke-width="0.75"/>
<circle cx="256.9" cy="430.7" r="2.35" fill="none" stroke="#E38452" stroke-width="0.75"/>
<circle cx="258.1" cy="424.8" r="2.35" fill="none" stroke="#E38452" stroke-width="0.75"/>
<circle cx="259.4" cy="434.5" r="2.35" fill="none" stroke="#E38452" stroke-width="0.75"/>
<circle cx="260.6" cy="427.8" r="2.35" fill="none" stroke="#E38452" stroke-width="0.75"/>
<circle cx="261.8" cy="430.1" r="2.35" fill="none" stroke="#E38452" stroke-width="0.75"/>
<circle cx="263.1" cy="430.4" r="2.35" fill="none" stroke="#E38452" stroke-width="0.75"/>
<circle cx="264.3" cy="428.0" r="2.35" fill="none" stroke="#E38452" stroke-width="0.75"/>
<circle cx="265.6" cy="429.4" r="2.35" fill="none" stroke="#E38452" stroke-width="0.75"/>
<circle cx="266.8" cy="429.0" r="2.35" fill="none" stroke="#E38452" stroke-width="0.75"/>
<circle cx="268.1" cy="429.0" r="2.35" fill="none" stroke="#E38452" stroke-width="0.75"/>
<circle cx="269.3" cy="421.6" r="2.35" fill="none" stroke="#E38452" stroke-width="0.75"/>
<circle cx="270.6" cy="431.5" r="2.35" fill="none" stroke="#E38452" stroke-width="0.75"/>
<circle cx="271.8" cy="425.7" r="2.35" fill="none" stroke="#E38452" stroke-width="0.75"/>
<circle cx="273.0" cy="427.5" r="2.35" fill="none" stroke="#E38452" stroke-width="0.75"/>
<circle cx="274.3" cy="431.7" r="2.35" fill="none" stroke="#E38452" stroke-width="0.75"/>
<circle cx="275.5" cy="426.6" r="2.35" fill="none" stroke="#E38452" stroke-width="0.75"/>
<circle cx="276.8" cy="433.9" r="2.35" fill="none" stroke="#E38452" stroke-width="0.75"/>
<circle cx="278.0" cy="425.0" r="2.35" fill="none" stroke="#E38452" stroke-width="0.75"/>
<circle cx="279.3" cy="433.7" r="2.35" fill="none" stroke="#E38452" stroke-width="0.75"/>
<circle cx="280.5" cy="432.3" r="2.35" fill="none" stroke="#E38452" stroke-width="0.75"/>
<circle cx="281.7" cy="428.7" r="2.35" fill="none" stroke="#E38452" stroke-width="0.75"/>
<circle cx="283.0" cy="426.5" r="2.35" fill="none" stroke="#E38452" stroke-width="0.75"/>
<circle cx="284.2" cy="426.2" r="2.35" fill="none" stroke="#E38452" stroke-width="0.75"/>
<circle cx="285.5" cy="426.2" r="2.35" fill="none" stroke="#E38452" stroke-width="0.75"/>
<circle cx="286.7" cy="431.0" r="2.35" fill="none" stroke="#E38452" stroke-width="0.75"/>
<circle cx="288.0" cy="434.3" r="2.35" fill="none" stroke="#E38452" stroke-width="0.75"/>
<circle cx="289.2" cy="427.7" r="2.35" fill="none" stroke="#E38452" stroke-width="0.75"/>
<circle cx="290.4" cy="428.8" r="2.35" fill="none" stroke="#E38452" stroke-width="0.75"/>
<circle cx="291.7" cy="434.3" r="2.35" fill="none" stroke="#E38452" stroke-width="0.75"/>
<circle cx="292.9" cy="425.9" r="2.35" fill="none" stroke="#E38452" stroke-width="0.75"/>
<circle cx="294.2" cy="429.3" r="2.35" fill="none" stroke="#E38452" stroke-width="0.75"/>
<circle cx="295.4" cy="434.3" r="2.35" fill="none" stroke="#E38452" stroke-width="0.75"/>
<circle cx="296.7" cy="428.2" r="2.35" fill="none" stroke="#E38452" stroke-width="0.75"/>
<circle cx="297.9" cy="435.9" r="2.35" fill="none" stroke="#E38452" stroke-width="0.75"/>
<circle cx="299.1" cy="434.0" r="2.35" fill="none" stroke="#E38452" stroke-width="0.75"/>
<circle cx="300.4" cy="428.4" r="2.35" fill="none" stroke="#E38452" stroke-width="0.75"/>
<circle cx="301.6" cy="436.9" r="2.35" fill="none" stroke="#E38452" stroke-width="0.75"/>
<circle cx="302.9" cy="430.0" r="2.35" fill="none" stroke="#E38452" stroke-width="0.75"/>
<circle cx="304.1" cy="436.0" r="2.35" fill="none" stroke="#E38452" stroke-width="0.75"/>
<circle cx="305.4" cy="426.9" r="2.35" fill="none" stroke="#E38452" stroke-width="0.75"/>
<circle cx="306.6" cy="433.3" r="2.35" fill="none" stroke="#E38452" stroke-width="0.75"/>
<circle cx="307.8" cy="429.3" r="2.35" fill="none" stroke="#E38452" stroke-width="0.75"/>
<circle cx="309.1" cy="436.7" r="2.35" fill="none" stroke="#E38452" stroke-width="0.75"/>
<circle cx="310.3" cy="431.6" r="2.35" fill="none" stroke="#E38452" stroke-width="0.75"/>
<circle cx="311.6" cy="426.0" r="2.35" fill="none" stroke="#E38452" stroke-width="0.75"/>
<circle cx="312.8" cy="428.1" r="2.35" fill="none" stroke="#E38452" stroke-width="0.75"/>
<circle cx="314.1" cy="438.2" r="2.35" fill="none" stroke="#E38452" stroke-width="0.75"/>
<circle cx="315.3" cy="426.1" r="2.35" fill="none" stroke="#E38452" stroke-width="0.75"/>
<circle cx="316.5" cy="426.2" r="2.35" fill="none" stroke="#E38452" stroke-width="0.75"/>
<circle cx="317.8" cy="431.8" r="2.35" fill="none" stroke="#E38452" stroke-width="0.75"/>
<circle cx="319.0" cy="423.9" r="2.35" fill="none" stroke="#E38452" stroke-width="0.75"/>
<circle cx="320.3" cy="434.8" r="2.35" fill="none" stroke="#E38452" stroke-width="0.75"/>
<circle cx="321.5" cy="430.5" r="2.35" fill="none" stroke="#E38452" stroke-width="0.75"/>
<circle cx="322.8" cy="425.2" r="2.35" fill="none" stroke="#E38452" stroke-width="0.75"/>
<circle cx="324.0" cy="424.4" r="2.35" fill="none" stroke="#E38452" stroke-width="0.75"/>
<circle cx="325.2" cy="424.5" r="2.35" fill="none" stroke="#E38452" stroke-width="0.75"/>
<circle cx="326.5" cy="434.9" r="2.35" fill="none" stroke="#E38452" stroke-width="0.75"/>
<circle cx="327.7" cy="437.9" r="2.35" fill="none" stroke="#E38452" stroke-width="0.75"/>
<circle cx="329.0" cy="428.4" r="2.35" fill="none" stroke="#E38452" stroke-width="0.75"/>
<circle cx="330.2" cy="436.4" r="2.35" fill="none" stroke="#E38452" stroke-width="0.75"/>
<circle cx="331.5" cy="430.7" r="2.35" fill="none" stroke="#E38452" stroke-width="0.75"/>
<circle cx="332.7" cy="435.7" r="2.35" fill="none" stroke="#E38452" stroke-width="0.75"/>
<circle cx="85.3" cy="449.4" r="2.0" fill="none" stroke="#56B4E9" stroke-width="0.6"/>
<circle cx="86.6" cy="449.1" r="2.0" fill="none" stroke="#56B4E9" stroke-width="0.6"/>
<circle cx="87.8" cy="449.5" r="2.0" fill="none" stroke="#56B4E9" stroke-width="0.6"/>
<circle cx="89.1" cy="449.4" r="2.0" fill="none" stroke="#56B4E9" stroke-width="0.6"/>
<circle cx="90.3" cy="449.0" r="2.0" fill="none" stroke="#56B4E9" stroke-width="0.6"/>
<circle cx="91.6" cy="449.5" r="2.0" fill="none" stroke="#56B4E9" stroke-width="0.6"/>
<circle cx="92.8" cy="449.4" r="2.0" fill="none" stroke="#56B4E9" stroke-width="0.6"/>
<circle cx="94.0" cy="449.4" r="2.0" fill="none" stroke="#56B4E9" stroke-width="0.6"/>
<circle cx="95.3" cy="449.0" r="2.0" fill="none" stroke="#56B4E9" stroke-width="0.6"/>
<circle cx="96.5" cy="449.4" r="2.0" fill="none" stroke="#56B4E9" stroke-width="0.6"/>
<circle cx="97.8" cy="449.4" r="2.0" fill="none" stroke="#56B4E9" stroke-width="0.6"/>
<circle cx="99.0" cy="448.9" r="2.0" fill="none" stroke="#56B4E9" stroke-width="0.6"/>
<circle cx="100.3" cy="449.4" r="2.0" fill="none" stroke="#56B4E9" stroke-width="0.6"/>
<circle cx="101.5" cy="448.9" r="2.0" fill="none" stroke="#56B4E9" stroke-width="0.6"/>
<circle cx="102.7" cy="449.1" r="2.0" fill="none" stroke="#56B4E9" stroke-width="0.6"/>
<circle cx="104.0" cy="449.0" r="2.0" fill="none" stroke="#56B4E9" stroke-width="0.6"/>
<circle cx="105.2" cy="449.0" r="2.0" fill="none" stroke="#56B4E9" stroke-width="0.6"/>
<circle cx="106.5" cy="449.2" r="2.0" fill="none" stroke="#56B4E9" stroke-width="0.6"/>
<circle cx="107.7" cy="449.1" r="2.0" fill="none" stroke="#56B4E9" stroke-width="0.6"/>
<circle cx="109.0" cy="449.6" r="2.0" fill="none" stroke="#56B4E9" stroke-width="0.6"/>
<circle cx="110.2" cy="449.2" r="2.0" fill="none" stroke="#56B4E9" stroke-width="0.6"/>
<circle cx="111.4" cy="449.4" r="2.0" fill="none" stroke="#56B4E9" stroke-width="0.6"/>
<circle cx="112.7" cy="449.4" r="2.0" fill="none" stroke="#56B4E9" stroke-width="0.6"/>
<circle cx="113.9" cy="449.8" r="2.0" fill="none" stroke="#56B4E9" stroke-width="0.6"/>
<circle cx="115.2" cy="449.5" r="2.0" fill="none" stroke="#56B4E9" stroke-width="0.6"/>
<circle cx="116.4" cy="449.4" r="2.0" fill="none" stroke="#56B4E9" stroke-width="0.6"/>
<circle cx="117.7" cy="450.0" r="2.0" fill="none" stroke="#56B4E9" stroke-width="0.6"/>
<circle cx="118.9" cy="449.9" r="2.0" fill="none" stroke="#56B4E9" stroke-width="0.6"/>
<circle cx="120.1" cy="449.8" r="2.0" fill="none" stroke="#56B4E9" stroke-width="0.6"/>
<circle cx="121.4" cy="449.7" r="2.0" fill="none" stroke="#56B4E9" stroke-width="0.6"/>
<circle cx="122.6" cy="450.1" r="2.0" fill="none" stroke="#56B4E9" stroke-width="0.6"/>
<circle cx="123.9" cy="450.2" r="2.0" fill="none" stroke="#56B4E9" stroke-width="0.6"/>
<circle cx="125.1" cy="450.2" r="2.0" fill="none" stroke="#56B4E9" stroke-width="0.6"/>
<circle cx="126.4" cy="450.1" r="2.0" fill="none" stroke="#56B4E9" stroke-width="0.6"/>
<circle cx="127.6" cy="450.1" r="2.0" fill="none" stroke="#56B4E9" stroke-width="0.6"/>
<circle cx="128.8" cy="450.3" r="2.0" fill="none" stroke="#56B4E9" stroke-width="0.6"/>
<circle cx="130.1" cy="450.4" r="2.0" fill="none" stroke="#56B4E9" stroke-width="0.6"/>
<circle cx="131.3" cy="450.4" r="2.0" fill="none" stroke="#56B4E9" stroke-width="0.6"/>
<circle cx="132.6" cy="450.5" r="2.0" fill="none" stroke="#56B4E9" stroke-width="0.6"/>
<circle cx="133.8" cy="450.5" r="2.0" fill="none" stroke="#56B4E9" stroke-width="0.6"/>
<circle cx="135.1" cy="450.7" r="2.0" fill="none" stroke="#56B4E9" stroke-width="0.6"/>
<circle cx="136.3" cy="450.5" r="2.0" fill="none" stroke="#56B4E9" stroke-width="0.6"/>
<circle cx="137.5" cy="450.3" r="2.0" fill="none" stroke="#56B4E9" stroke-width="0.6"/>
<circle cx="138.8" cy="450.7" r="2.0" fill="none" stroke="#56B4E9" stroke-width="0.6"/>
<circle cx="140.0" cy="450.5" r="2.0" fill="none" stroke="#56B4E9" stroke-width="0.6"/>
<circle cx="141.3" cy="450.9" r="2.0" fill="none" stroke="#56B4E9" stroke-width="0.6"/>
<circle cx="142.5" cy="450.6" r="2.0" fill="none" stroke="#56B4E9" stroke-width="0.6"/>
<circle cx="143.8" cy="450.6" r="2.0" fill="none" stroke="#56B4E9" stroke-width="0.6"/>
<circle cx="145.0" cy="450.7" r="2.0" fill="none" stroke="#56B4E9" stroke-width="0.6"/>
<circle cx="146.2" cy="450.8" r="2.0" fill="none" stroke="#56B4E9" stroke-width="0.6"/>
<circle cx="147.5" cy="450.9" r="2.0" fill="none" stroke="#56B4E9" stroke-width="0.6"/>
<circle cx="148.7" cy="450.8" r="2.0" fill="none" stroke="#56B4E9" stroke-width="0.6"/>
<circle cx="150.0" cy="450.7" r="2.0" fill="none" stroke="#56B4E9" stroke-width="0.6"/>
<circle cx="151.2" cy="451.2" r="2.0" fill="none" stroke="#56B4E9" stroke-width="0.6"/>
<circle cx="152.5" cy="451.2" r="2.0" fill="none" stroke="#56B4E9" stroke-width="0.6"/>
<circle cx="153.7" cy="450.9" r="2.0" fill="none" stroke="#56B4E9" stroke-width="0.6"/>
<circle cx="155.0" cy="450.8" r="2.0" fill="none" stroke="#56B4E9" stroke-width="0.6"/>
<circle cx="156.2" cy="451.1" r="2.0" fill="none" stroke="#56B4E9" stroke-width="0.6"/>
<circle cx="157.4" cy="451.2" r="2.0" fill="none" stroke="#56B4E9" stroke-width="0.6"/>
<circle cx="158.7" cy="451.1" r="2.0" fill="none" stroke="#56B4E9" stroke-width="0.6"/>
<circle cx="159.9" cy="451.4" r="2.0" fill="none" stroke="#56B4E9" stroke-width="0.6"/>
<circle cx="161.2" cy="451.4" r="2.0" fill="none" stroke="#56B4E9" stroke-width="0.6"/>
<circle cx="162.4" cy="451.5" r="2.0" fill="none" stroke="#56B4E9" stroke-width="0.6"/>
<circle cx="163.7" cy="451.3" r="2.0" fill="none" stroke="#56B4E9" stroke-width="0.6"/>
<circle cx="164.9" cy="451.5" r="2.0" fill="none" stroke="#56B4E9" stroke-width="0.6"/>
<circle cx="166.1" cy="451.6" r="2.0" fill="none" stroke="#56B4E9" stroke-width="0.6"/>
<circle cx="167.4" cy="451.3" r="2.0" fill="none" stroke="#56B4E9" stroke-width="0.6"/>
<circle cx="168.6" cy="451.2" r="2.0" fill="none" stroke="#56B4E9" stroke-width="0.6"/>
<circle cx="169.9" cy="451.6" r="2.0" fill="none" stroke="#56B4E9" stroke-width="0.6"/>
<circle cx="171.1" cy="451.4" r="2.0" fill="none" stroke="#56B4E9" stroke-width="0.6"/>
<circle cx="172.4" cy="451.6" r="2.0" fill="none" stroke="#56B4E9" stroke-width="0.6"/>
<circle cx="173.6" cy="451.4" r="2.0" fill="none" stroke="#56B4E9" stroke-width="0.6"/>
<circle cx="174.8" cy="451.6" r="2.0" fill="none" stroke="#56B4E9" stroke-width="0.6"/>
<circle cx="176.1" cy="451.8" r="2.0" fill="none" stroke="#56B4E9" stroke-width="0.6"/>
<circle cx="177.3" cy="451.9" r="2.0" fill="none" stroke="#56B4E9" stroke-width="0.6"/>
<circle cx="178.6" cy="452.0" r="2.0" fill="none" stroke="#56B4E9" stroke-width="0.6"/>
<circle cx="179.8" cy="451.8" r="2.0" fill="none" stroke="#56B4E9" stroke-width="0.6"/>
<circle cx="181.1" cy="451.9" r="2.0" fill="none" stroke="#56B4E9" stroke-width="0.6"/>
<circle cx="182.3" cy="452.0" r="2.0" fill="none" stroke="#56B4E9" stroke-width="0.6"/>
<circle cx="183.5" cy="451.9" r="2.0" fill="none" stroke="#56B4E9" stroke-width="0.6"/>
<circle cx="184.8" cy="451.9" r="2.0" fill="none" stroke="#56B4E9" stroke-width="0.6"/>
<circle cx="186.0" cy="451.7" r="2.0" fill="none" stroke="#56B4E9" stroke-width="0.6"/>
<circle cx="187.3" cy="452.1" r="2.0" fill="none" stroke="#56B4E9" stroke-width="0.6"/>
<circle cx="188.5" cy="451.6" r="2.0" fill="none" stroke="#56B4E9" stroke-width="0.6"/>
<circle cx="189.8" cy="451.9" r="2.0" fill="none" stroke="#56B4E9" stroke-width="0.6"/>
<circle cx="191.0" cy="451.9" r="2.0" fill="none" stroke="#56B4E9" stroke-width="0.6"/>
<circle cx="192.2" cy="452.0" r="2.0" fill="none" stroke="#56B4E9" stroke-width="0.6"/>
<circle cx="193.5" cy="451.8" r="2.0" fill="none" stroke="#56B4E9" stroke-width="0.6"/>
<circle cx="194.7" cy="451.8" r="2.0" fill="none" stroke="#56B4E9" stroke-width="0.6"/>
<circle cx="196.0" cy="451.9" r="2.0" fill="none" stroke="#56B4E9" stroke-width="0.6"/>
<circle cx="197.2" cy="452.0" r="2.0" fill="none" stroke="#56B4E9" stroke-width="0.6"/>
<circle cx="198.5" cy="451.9" r="2.0" fill="none" stroke="#56B4E9" stroke-width="0.6"/>
<circle cx="199.7" cy="451.8" r="2.0" fill="none" stroke="#56B4E9" stroke-width="0.6"/>
<circle cx="200.9" cy="452.1" r="2.0" fill="none" stroke="#56B4E9" stroke-width="0.6"/>
<circle cx="202.2" cy="451.9" r="2.0" fill="none" stroke="#56B4E9" stroke-width="0.6"/>
<circle cx="203.4" cy="451.8" r="2.0" fill="none" stroke="#56B4E9" stroke-width="0.6"/>
<circle cx="204.7" cy="452.1" r="2.0" fill="none" stroke="#56B4E9" stroke-width="0.6"/>
<circle cx="205.9" cy="452.3" r="2.0" fill="none" stroke="#56B4E9" stroke-width="0.6"/>
<circle cx="207.2" cy="452.3" r="2.0" fill="none" stroke="#56B4E9" stroke-width="0.6"/>
<circle cx="208.4" cy="452.0" r="2.0" fill="none" stroke="#56B4E9" stroke-width="0.6"/>
<circle cx="209.6" cy="452.1" r="2.0" fill="none" stroke="#56B4E9" stroke-width="0.6"/>
<circle cx="210.9" cy="451.9" r="2.0" fill="none" stroke="#56B4E9" stroke-width="0.6"/>
<circle cx="212.1" cy="452.0" r="2.0" fill="none" stroke="#56B4E9" stroke-width="0.6"/>
<circle cx="213.4" cy="452.4" r="2.0" fill="none" stroke="#56B4E9" stroke-width="0.6"/>
<circle cx="214.6" cy="452.4" r="2.0" fill="none" stroke="#56B4E9" stroke-width="0.6"/>
<circle cx="215.9" cy="452.4" r="2.0" fill="none" stroke="#56B4E9" stroke-width="0.6"/>
<circle cx="217.1" cy="452.4" r="2.0" fill="none" stroke="#56B4E9" stroke-width="0.6"/>
<circle cx="218.3" cy="452.2" r="2.0" fill="none" stroke="#56B4E9" stroke-width="0.6"/>
<circle cx="219.6" cy="452.1" r="2.0" fill="none" stroke="#56B4E9" stroke-width="0.6"/>
<circle cx="220.8" cy="452.1" r="2.0" fill="none" stroke="#56B4E9" stroke-width="0.6"/>
<circle cx="222.1" cy="452.5" r="2.0" fill="none" stroke="#56B4E9" stroke-width="0.6"/>
<circle cx="223.3" cy="452.1" r="2.0" fill="none" stroke="#56B4E9" stroke-width="0.6"/>
<circle cx="224.6" cy="452.5" r="2.0" fill="none" stroke="#56B4E9" stroke-width="0.6"/>
<circle cx="225.8" cy="452.4" r="2.0" fill="none" stroke="#56B4E9" stroke-width="0.6"/>
<circle cx="227.0" cy="452.3" r="2.0" fill="none" stroke="#56B4E9" stroke-width="0.6"/>
<circle cx="228.3" cy="452.6" r="2.0" fill="none" stroke="#56B4E9" stroke-width="0.6"/>
<circle cx="229.5" cy="452.7" r="2.0" fill="none" stroke="#56B4E9" stroke-width="0.6"/>
<circle cx="230.8" cy="452.2" r="2.0" fill="none" stroke="#56B4E9" stroke-width="0.6"/>
<circle cx="232.0" cy="452.6" r="2.0" fill="none" stroke="#56B4E9" stroke-width="0.6"/>
<circle cx="233.3" cy="452.5" r="2.0" fill="none" stroke="#56B4E9" stroke-width="0.6"/>
<circle cx="234.5" cy="452.4" r="2.0" fill="none" stroke="#56B4E9" stroke-width="0.6"/>
<circle cx="235.7" cy="452.4" r="2.0" fill="none" stroke="#56B4E9" stroke-width="0.6"/>
<circle cx="237.0" cy="452.8" r="2.0" fill="none" stroke="#56B4E9" stroke-width="0.6"/>
<circle cx="238.2" cy="452.6" r="2.0" fill="none" stroke="#56B4E9" stroke-width="0.6"/>
<circle cx="239.5" cy="452.6" r="2.0" fill="none" stroke="#56B4E9" stroke-width="0.6"/>
<circle cx="240.7" cy="452.5" r="2.0" fill="none" stroke="#56B4E9" stroke-width="0.6"/>
<circle cx="242.0" cy="452.7" r="2.0" fill="none" stroke="#56B4E9" stroke-width="0.6"/>
<circle cx="243.2" cy="452.5" r="2.0" fill="none" stroke="#56B4E9" stroke-width="0.6"/>
<circle cx="244.4" cy="452.3" r="2.0" fill="none" stroke="#56B4E9" stroke-width="0.6"/>
<circle cx="245.7" cy="452.6" r="2.0" fill="none" stroke="#56B4E9" stroke-width="0.6"/>
<circle cx="246.9" cy="452.6" r="2.0" fill="none" stroke="#56B4E9" stroke-width="0.6"/>
<circle cx="248.2" cy="452.8" r="2.0" fill="none" stroke="#56B4E9" stroke-width="0.6"/>
<circle cx="249.4" cy="452.7" r="2.0" fill="none" stroke="#56B4E9" stroke-width="0.6"/>
<circle cx="250.7" cy="452.5" r="2.0" fill="none" stroke="#56B4E9" stroke-width="0.6"/>
<circle cx="251.9" cy="452.9" r="2.0" fill="none" stroke="#56B4E9" stroke-width="0.6"/>
<circle cx="253.1" cy="452.4" r="2.0" fill="none" stroke="#56B4E9" stroke-width="0.6"/>
<circle cx="254.4" cy="452.4" r="2.0" fill="none" stroke="#56B4E9" stroke-width="0.6"/>
<circle cx="255.6" cy="452.9" r="2.0" fill="none" stroke="#56B4E9" stroke-width="0.6"/>
<circle cx="256.9" cy="452.4" r="2.0" fill="none" stroke="#56B4E9" stroke-width="0.6"/>
<circle cx="258.1" cy="452.8" r="2.0" fill="none" stroke="#56B4E9" stroke-width="0.6"/>
<circle cx="259.4" cy="452.5" r="2.0" fill="none" stroke="#56B4E9" stroke-width="0.6"/>
<circle cx="260.6" cy="452.6" r="2.0" fill="none" stroke="#56B4E9" stroke-width="0.6"/>
<circle cx="261.8" cy="452.8" r="2.0" fill="none" stroke="#56B4E9" stroke-width="0.6"/>
<circle cx="263.1" cy="452.6" r="2.0" fill="none" stroke="#56B4E9" stroke-width="0.6"/>
<circle cx="264.3" cy="452.6" r="2.0" fill="none" stroke="#56B4E9" stroke-width="0.6"/>
<circle cx="265.6" cy="452.6" r="2.0" fill="none" stroke="#56B4E9" stroke-width="0.6"/>
<circle cx="266.8" cy="452.9" r="2.0" fill="none" stroke="#56B4E9" stroke-width="0.6"/>
<circle cx="268.1" cy="452.6" r="2.0" fill="none" stroke="#56B4E9" stroke-width="0.6"/>
<circle cx="269.3" cy="452.5" r="2.0" fill="none" stroke="#56B4E9" stroke-width="0.6"/>
<circle cx="270.6" cy="452.7" r="2.0" fill="none" stroke="#56B4E9" stroke-width="0.6"/>
<circle cx="271.8" cy="452.8" r="2.0" fill="none" stroke="#56B4E9" stroke-width="0.6"/>
<circle cx="273.0" cy="453.0" r="2.0" fill="none" stroke="#56B4E9" stroke-width="0.6"/>
<circle cx="274.3" cy="452.8" r="2.0" fill="none" stroke="#56B4E9" stroke-width="0.6"/>
<circle cx="275.5" cy="452.9" r="2.0" fill="none" stroke="#56B4E9" stroke-width="0.6"/>
<circle cx="276.8" cy="452.7" r="2.0" fill="none" stroke="#56B4E9" stroke-width="0.6"/>
<circle cx="278.0" cy="452.8" r="2.0" fill="none" stroke="#56B4E9" stroke-width="0.6"/>
<circle cx="279.3" cy="452.8" r="2.0" fill="none" stroke="#56B4E9" stroke-width="0.6"/>
<circle cx="280.5" cy="453.1" r="2.0" fill="none" stroke="#56B4E9" stroke-width="0.6"/>
<circle cx="281.7" cy="452.8" r="2.0" fill="none" stroke="#56B4E9" stroke-width="0.6"/>
<circle cx="283.0" cy="452.8" r="2.0" fill="none" stroke="#56B4E9" stroke-width="0.6"/>
<circle cx="284.2" cy="453.1" r="2.0" fill="none" stroke="#56B4E9" stroke-width="0.6"/>
<circle cx="285.5" cy="452.7" r="2.0" fill="none" stroke="#56B4E9" stroke-width="0.6"/>
<circle cx="286.7" cy="452.9" r="2.0" fill="none" stroke="#56B4E9" stroke-width="0.6"/>
<circle cx="288.0" cy="453.2" r="2.0" fill="none" stroke="#56B4E9" stroke-width="0.6"/>
<circle cx="289.2" cy="452.7" r="2.0" fill="none" stroke="#56B4E9" stroke-width="0.6"/>
<circle cx="290.4" cy="453.2" r="2.0" fill="none" stroke="#56B4E9" stroke-width="0.6"/>
<circle cx="291.7" cy="453.1" r="2.0" fill="none" stroke="#56B4E9" stroke-width="0.6"/>
<circle cx="292.9" cy="452.9" r="2.0" fill="none" stroke="#56B4E9" stroke-width="0.6"/>
<circle cx="294.2" cy="453.0" r="2.0" fill="none" stroke="#56B4E9" stroke-width="0.6"/>
<circle cx="295.4" cy="453.0" r="2.0" fill="none" stroke="#56B4E9" stroke-width="0.6"/>
<circle cx="296.7" cy="453.0" r="2.0" fill="none" stroke="#56B4E9" stroke-width="0.6"/>
<circle cx="297.9" cy="453.1" r="2.0" fill="none" stroke="#56B4E9" stroke-width="0.6"/>
<circle cx="299.1" cy="453.2" r="2.0" fill="none" stroke="#56B4E9" stroke-width="0.6"/>
<circle cx="300.4" cy="453.3" r="2.0" fill="none" stroke="#56B4E9" stroke-width="0.6"/>
<circle cx="301.6" cy="453.4" r="2.0" fill="none" stroke="#56B4E9" stroke-width="0.6"/>
<circle cx="302.9" cy="453.0" r="2.0" fill="none" stroke="#56B4E9" stroke-width="0.6"/>
<circle cx="304.1" cy="453.0" r="2.0" fill="none" stroke="#56B4E9" stroke-width="0.6"/>
<circle cx="305.4" cy="453.2" r="2.0" fill="none" stroke="#56B4E9" stroke-width="0.6"/>
<circle cx="306.6" cy="453.1" r="2.0" fill="none" stroke="#56B4E9" stroke-width="0.6"/>
<circle cx="307.8" cy="453.3" r="2.0" fill="none" stroke="#56B4E9" stroke-width="0.6"/>
<circle cx="309.1" cy="453.4" r="2.0" fill="none" stroke="#56B4E9" stroke-width="0.6"/>
<circle cx="310.3" cy="453.3" r="2.0" fill="none" stroke="#56B4E9" stroke-width="0.6"/>
<circle cx="311.6" cy="453.1" r="2.0" fill="none" stroke="#56B4E9" stroke-width="0.6"/>
<circle cx="312.8" cy="453.6" r="2.0" fill="none" stroke="#56B4E9" stroke-width="0.6"/>
<circle cx="314.1" cy="453.3" r="2.0" fill="none" stroke="#56B4E9" stroke-width="0.6"/>
<circle cx="315.3" cy="453.5" r="2.0" fill="none" stroke="#56B4E9" stroke-width="0.6"/>
<circle cx="316.5" cy="453.2" r="2.0" fill="none" stroke="#56B4E9" stroke-width="0.6"/>
<circle cx="317.8" cy="453.4" r="2.0" fill="none" stroke="#56B4E9" stroke-width="0.6"/>
<circle cx="319.0" cy="453.5" r="2.0" fill="none" stroke="#56B4E9" stroke-width="0.6"/>
<circle cx="320.3" cy="453.4" r="2.0" fill="none" stroke="#56B4E9" stroke-width="0.6"/>
<circle cx="321.5" cy="453.4" r="2.0" fill="none" stroke="#56B4E9" stroke-width="0.6"/>
<circle cx="322.8" cy="453.3" r="2.0" fill="none" stroke="#56B4E9" stroke-width="0.6"/>
<circle cx="324.0" cy="453.5" r="2.0" fill="none" stroke="#56B4E9" stroke-width="0.6"/>
<circle cx="325.2" cy="453.3" r="2.0" fill="none" stroke="#56B4E9" stroke-width="0.6"/>
<circle cx="326.5" cy="453.7" r="2.0" fill="none" stroke="#56B4E9" stroke-width="0.6"/>
<circle cx="327.7" cy="453.6" r="2.0" fill="none" stroke="#56B4E9" stroke-width="0.6"/>
<circle cx="329.0" cy="453.7" r="2.0" fill="none" stroke="#56B4E9" stroke-width="0.6"/>
<circle cx="330.2" cy="453.7" r="2.0" fill="none" stroke="#56B4E9" stroke-width="0.6"/>
<circle cx="331.5" cy="453.4" r="2.0" fill="none" stroke="#56B4E9" stroke-width="0.6"/>
<circle cx="332.7" cy="453.4" r="2.0" fill="none" stroke="#56B4E9" stroke-width="0.6"/>
<circle cx="85.3" cy="448.6" r="2.0" fill="none" stroke="#D55E00" stroke-width="1.0"/>
<circle cx="86.6" cy="448.6" r="2.0" fill="none" stroke="#D55E00" stroke-width="1.0"/>
<circle cx="87.8" cy="448.5" r="2.0" fill="none" stroke="#D55E00" stroke-width="1.0"/>
<circle cx="89.1" cy="448.4" r="2.0" fill="none" stroke="#D55E00" stroke-width="1.0"/>
<circle cx="90.3" cy="448.3" r="2.0" fill="none" stroke="#D55E00" stroke-width="1.0"/>
<circle cx="91.6" cy="448.4" r="2.0" fill="none" stroke="#D55E00" stroke-width="1.0"/>
<circle cx="92.8" cy="448.4" r="2.0" fill="none" stroke="#D55E00" stroke-width="1.0"/>
<circle cx="94.0" cy="448.6" r="2.0" fill="none" stroke="#D55E00" stroke-width="1.0"/>
<circle cx="95.3" cy="448.5" r="2.0" fill="none" stroke="#D55E00" stroke-width="1.0"/>
<circle cx="96.5" cy="448.6" r="2.0" fill="none" stroke="#D55E00" stroke-width="1.0"/>
<circle cx="97.8" cy="448.4" r="2.0" fill="none" stroke="#D55E00" stroke-width="1.0"/>
<circle cx="99.0" cy="448.4" r="2.0" fill="none" stroke="#D55E00" stroke-width="1.0"/>
<circle cx="100.3" cy="448.5" r="2.0" fill="none" stroke="#D55E00" stroke-width="1.0"/>
<circle cx="101.5" cy="448.5" r="2.0" fill="none" stroke="#D55E00" stroke-width="1.0"/>
<circle cx="102.7" cy="448.3" r="2.0" fill="none" stroke="#D55E00" stroke-width="1.0"/>
<circle cx="104.0" cy="448.7" r="2.0" fill="none" stroke="#D55E00" stroke-width="1.0"/>
<circle cx="105.2" cy="448.4" r="2.0" fill="none" stroke="#D55E00" stroke-width="1.0"/>
<circle cx="106.5" cy="448.4" r="2.0" fill="none" stroke="#D55E00" stroke-width="1.0"/>
<circle cx="107.7" cy="448.4" r="2.0" fill="none" stroke="#D55E00" stroke-width="1.0"/>
<circle cx="109.0" cy="448.7" r="2.0" fill="none" stroke="#D55E00" stroke-width="1.0"/>
<circle cx="110.2" cy="448.6" r="2.0" fill="none" stroke="#D55E00" stroke-width="1.0"/>
<circle cx="111.4" cy="448.7" r="2.0" fill="none" stroke="#D55E00" stroke-width="1.0"/>
<circle cx="112.7" cy="448.7" r="2.0" fill="none" stroke="#D55E00" stroke-width="1.0"/>
<circle cx="113.9" cy="448.6" r="2.0" fill="none" stroke="#D55E00" stroke-width="1.0"/>
<circle cx="115.2" cy="448.8" r="2.0" fill="none" stroke="#D55E00" stroke-width="1.0"/>
<circle cx="116.4" cy="449.0" r="2.0" fill="none" stroke="#D55E00" stroke-width="1.0"/>
<circle cx="117.7" cy="448.9" r="2.0" fill="none" stroke="#D55E00" stroke-width="1.0"/>
<circle cx="118.9" cy="449.1" r="2.0" fill="none" stroke="#D55E00" stroke-width="1.0"/>
<circle cx="120.1" cy="449.1" r="2.0" fill="none" stroke="#D55E00" stroke-width="1.0"/>
<circle cx="121.4" cy="449.1" r="2.0" fill="none" stroke="#D55E00" stroke-width="1.0"/>
<circle cx="122.6" cy="449.5" r="2.0" fill="none" stroke="#D55E00" stroke-width="1.0"/>
<circle cx="123.9" cy="449.2" r="2.0" fill="none" stroke="#D55E00" stroke-width="1.0"/>
<circle cx="125.1" cy="449.3" r="2.0" fill="none" stroke="#D55E00" stroke-width="1.0"/>
<circle cx="126.4" cy="449.4" r="2.0" fill="none" stroke="#D55E00" stroke-width="1.0"/>
<circle cx="127.6" cy="449.5" r="2.0" fill="none" stroke="#D55E00" stroke-width="1.0"/>
<circle cx="128.8" cy="449.5" r="2.0" fill="none" stroke="#D55E00" stroke-width="1.0"/>
<circle cx="130.1" cy="449.7" r="2.0" fill="none" stroke="#D55E00" stroke-width="1.0"/>
<circle cx="131.3" cy="449.6" r="2.0" fill="none" stroke="#D55E00" stroke-width="1.0"/>
<circle cx="132.6" cy="449.9" r="2.0" fill="none" stroke="#D55E00" stroke-width="1.0"/>
<circle cx="133.8" cy="449.7" r="2.0" fill="none" stroke="#D55E00" stroke-width="1.0"/>
<circle cx="135.1" cy="449.7" r="2.0" fill="none" stroke="#D55E00" stroke-width="1.0"/>
<circle cx="136.3" cy="449.8" r="2.0" fill="none" stroke="#D55E00" stroke-width="1.0"/>
<circle cx="137.5" cy="449.8" r="2.0" fill="none" stroke="#D55E00" stroke-width="1.0"/>
<circle cx="138.8" cy="449.7" r="2.0" fill="none" stroke="#D55E00" stroke-width="1.0"/>
<circle cx="140.0" cy="449.8" r="2.0" fill="none" stroke="#D55E00" stroke-width="1.0"/>
<circle cx="141.3" cy="450.1" r="2.0" fill="none" stroke="#D55E00" stroke-width="1.0"/>
<circle cx="142.5" cy="449.9" r="2.0" fill="none" stroke="#D55E00" stroke-width="1.0"/>
<circle cx="143.8" cy="450.0" r="2.0" fill="none" stroke="#D55E00" stroke-width="1.0"/>
<circle cx="145.0" cy="450.3" r="2.0" fill="none" stroke="#D55E00" stroke-width="1.0"/>
<circle cx="146.2" cy="450.2" r="2.0" fill="none" stroke="#D55E00" stroke-width="1.0"/>
<circle cx="147.5" cy="450.3" r="2.0" fill="none" stroke="#D55E00" stroke-width="1.0"/>
<circle cx="148.7" cy="450.4" r="2.0" fill="none" stroke="#D55E00" stroke-width="1.0"/>
<circle cx="150.0" cy="450.2" r="2.0" fill="none" stroke="#D55E00" stroke-width="1.0"/>
<circle cx="151.2" cy="450.1" r="2.0" fill="none" stroke="#D55E00" stroke-width="1.0"/>
<circle cx="152.5" cy="450.4" r="2.0" fill="none" stroke="#D55E00" stroke-width="1.0"/>
<circle cx="153.7" cy="450.2" r="2.0" fill="none" stroke="#D55E00" stroke-width="1.0"/>
<circle cx="155.0" cy="450.3" r="2.0" fill="none" stroke="#D55E00" stroke-width="1.0"/>
<circle cx="156.2" cy="450.6" r="2.0" fill="none" stroke="#D55E00" stroke-width="1.0"/>
<circle cx="157.4" cy="450.3" r="2.0" fill="none" stroke="#D55E00" stroke-width="1.0"/>
<circle cx="158.7" cy="450.4" r="2.0" fill="none" stroke="#D55E00" stroke-width="1.0"/>
<circle cx="159.9" cy="450.3" r="2.0" fill="none" stroke="#D55E00" stroke-width="1.0"/>
<circle cx="161.2" cy="450.4" r="2.0" fill="none" stroke="#D55E00" stroke-width="1.0"/>
<circle cx="162.4" cy="450.5" r="2.0" fill="none" stroke="#D55E00" stroke-width="1.0"/>
<circle cx="163.7" cy="450.7" r="2.0" fill="none" stroke="#D55E00" stroke-width="1.0"/>
<circle cx="164.9" cy="450.5" r="2.0" fill="none" stroke="#D55E00" stroke-width="1.0"/>
<circle cx="166.1" cy="450.5" r="2.0" fill="none" stroke="#D55E00" stroke-width="1.0"/>
<circle cx="167.4" cy="450.6" r="2.0" fill="none" stroke="#D55E00" stroke-width="1.0"/>
<circle cx="168.6" cy="450.8" r="2.0" fill="none" stroke="#D55E00" stroke-width="1.0"/>
<circle cx="169.9" cy="450.7" r="2.0" fill="none" stroke="#D55E00" stroke-width="1.0"/>
<circle cx="171.1" cy="450.8" r="2.0" fill="none" stroke="#D55E00" stroke-width="1.0"/>
<circle cx="172.4" cy="451.0" r="2.0" fill="none" stroke="#D55E00" stroke-width="1.0"/>
<circle cx="173.6" cy="451.1" r="2.0" fill="none" stroke="#D55E00" stroke-width="1.0"/>
<circle cx="174.8" cy="451.1" r="2.0" fill="none" stroke="#D55E00" stroke-width="1.0"/>
<circle cx="176.1" cy="451.1" r="2.0" fill="none" stroke="#D55E00" stroke-width="1.0"/>
<circle cx="177.3" cy="451.2" r="2.0" fill="none" stroke="#D55E00" stroke-width="1.0"/>
<circle cx="178.6" cy="451.0" r="2.0" fill="none" stroke="#D55E00" stroke-width="1.0"/>
<circle cx="179.8" cy="451.0" r="2.0" fill="none" stroke="#D55E00" stroke-width="1.0"/>
<circle cx="181.1" cy="451.0" r="2.0" fill="none" stroke="#D55E00" stroke-width="1.0"/>
<circle cx="182.3" cy="451.1" r="2.0" fill="none" stroke="#D55E00" stroke-width="1.0"/>
<circle cx="183.5" cy="451.0" r="2.0" fill="none" stroke="#D55E00" stroke-width="1.0"/>
<circle cx="184.8" cy="451.2" r="2.0" fill="none" stroke="#D55E00" stroke-width="1.0"/>
<circle cx="186.0" cy="451.1" r="2.0" fill="none" stroke="#D55E00" stroke-width="1.0"/>
<circle cx="187.3" cy="451.0" r="2.0" fill="none" stroke="#D55E00" stroke-width="1.0"/>
<circle cx="188.5" cy="451.2" r="2.0" fill="none" stroke="#D55E00" stroke-width="1.0"/>
<circle cx="189.8" cy="451.3" r="2.0" fill="none" stroke="#D55E00" stroke-width="1.0"/>
<circle cx="191.0" cy="451.0" r="2.0" fill="none" stroke="#D55E00" stroke-width="1.0"/>
<circle cx="192.2" cy="451.1" r="2.0" fill="none" stroke="#D55E00" stroke-width="1.0"/>
<circle cx="193.5" cy="451.3" r="2.0" fill="none" stroke="#D55E00" stroke-width="1.0"/>
<circle cx="194.7" cy="451.3" r="2.0" fill="none" stroke="#D55E00" stroke-width="1.0"/>
<circle cx="196.0" cy="451.2" r="2.0" fill="none" stroke="#D55E00" stroke-width="1.0"/>
<circle cx="197.2" cy="451.2" r="2.0" fill="none" stroke="#D55E00" stroke-width="1.0"/>
<circle cx="198.5" cy="451.4" r="2.0" fill="none" stroke="#D55E00" stroke-width="1.0"/>
<circle cx="199.7" cy="451.5" r="2.0" fill="none" stroke="#D55E00" stroke-width="1.0"/>
<circle cx="200.9" cy="451.4" r="2.0" fill="none" stroke="#D55E00" stroke-width="1.0"/>
<circle cx="202.2" cy="451.2" r="2.0" fill="none" stroke="#D55E00" stroke-width="1.0"/>
<circle cx="203.4" cy="451.5" r="2.0" fill="none" stroke="#D55E00" stroke-width="1.0"/>
<circle cx="204.7" cy="451.4" r="2.0" fill="none" stroke="#D55E00" stroke-width="1.0"/>
<circle cx="205.9" cy="451.5" r="2.0" fill="none" stroke="#D55E00" stroke-width="1.0"/>
<circle cx="207.2" cy="451.5" r="2.0" fill="none" stroke="#D55E00" stroke-width="1.0"/>
<circle cx="208.4" cy="451.6" r="2.0" fill="none" stroke="#D55E00" stroke-width="1.0"/>
<circle cx="209.6" cy="451.5" r="2.0" fill="none" stroke="#D55E00" stroke-width="1.0"/>
<circle cx="210.9" cy="451.6" r="2.0" fill="none" stroke="#D55E00" stroke-width="1.0"/>
<circle cx="212.1" cy="451.7" r="2.0" fill="none" stroke="#D55E00" stroke-width="1.0"/>
<circle cx="213.4" cy="451.6" r="2.0" fill="none" stroke="#D55E00" stroke-width="1.0"/>
<circle cx="214.6" cy="451.6" r="2.0" fill="none" stroke="#D55E00" stroke-width="1.0"/>
<circle cx="215.9" cy="451.5" r="2.0" fill="none" stroke="#D55E00" stroke-width="1.0"/>
<circle cx="217.1" cy="451.7" r="2.0" fill="none" stroke="#D55E00" stroke-width="1.0"/>
<circle cx="218.3" cy="451.8" r="2.0" fill="none" stroke="#D55E00" stroke-width="1.0"/>
<circle cx="219.6" cy="451.6" r="2.0" fill="none" stroke="#D55E00" stroke-width="1.0"/>
<circle cx="220.8" cy="451.6" r="2.0" fill="none" stroke="#D55E00" stroke-width="1.0"/>
<circle cx="222.1" cy="451.5" r="2.0" fill="none" stroke="#D55E00" stroke-width="1.0"/>
<circle cx="223.3" cy="451.8" r="2.0" fill="none" stroke="#D55E00" stroke-width="1.0"/>
<circle cx="224.6" cy="451.7" r="2.0" fill="none" stroke="#D55E00" stroke-width="1.0"/>
<circle cx="225.8" cy="451.7" r="2.0" fill="none" stroke="#D55E00" stroke-width="1.0"/>
<circle cx="227.0" cy="451.9" r="2.0" fill="none" stroke="#D55E00" stroke-width="1.0"/>
<circle cx="228.3" cy="451.5" r="2.0" fill="none" stroke="#D55E00" stroke-width="1.0"/>
<circle cx="229.5" cy="451.8" r="2.0" fill="none" stroke="#D55E00" stroke-width="1.0"/>
<circle cx="230.8" cy="451.9" r="2.0" fill="none" stroke="#D55E00" stroke-width="1.0"/>
<circle cx="232.0" cy="451.7" r="2.0" fill="none" stroke="#D55E00" stroke-width="1.0"/>
<circle cx="233.3" cy="451.9" r="2.0" fill="none" stroke="#D55E00" stroke-width="1.0"/>
<circle cx="234.5" cy="451.7" r="2.0" fill="none" stroke="#D55E00" stroke-width="1.0"/>
<circle cx="235.7" cy="451.8" r="2.0" fill="none" stroke="#D55E00" stroke-width="1.0"/>
<circle cx="237.0" cy="451.9" r="2.0" fill="none" stroke="#D55E00" stroke-width="1.0"/>
<circle cx="238.2" cy="452.0" r="2.0" fill="none" stroke="#D55E00" stroke-width="1.0"/>
<circle cx="239.5" cy="451.7" r="2.0" fill="none" stroke="#D55E00" stroke-width="1.0"/>
<circle cx="240.7" cy="451.9" r="2.0" fill="none" stroke="#D55E00" stroke-width="1.0"/>
<circle cx="242.0" cy="451.7" r="2.0" fill="none" stroke="#D55E00" stroke-width="1.0"/>
<circle cx="243.2" cy="451.8" r="2.0" fill="none" stroke="#D55E00" stroke-width="1.0"/>
<circle cx="244.4" cy="451.6" r="2.0" fill="none" stroke="#D55E00" stroke-width="1.0"/>
<circle cx="245.7" cy="451.9" r="2.0" fill="none" stroke="#D55E00" stroke-width="1.0"/>
<circle cx="246.9" cy="452.0" r="2.0" fill="none" stroke="#D55E00" stroke-width="1.0"/>
<circle cx="248.2" cy="452.0" r="2.0" fill="none" stroke="#D55E00" stroke-width="1.0"/>
<circle cx="249.4" cy="451.7" r="2.0" fill="none" stroke="#D55E00" stroke-width="1.0"/>
<circle cx="250.7" cy="451.8" r="2.0" fill="none" stroke="#D55E00" stroke-width="1.0"/>
<circle cx="251.9" cy="452.0" r="2.0" fill="none" stroke="#D55E00" stroke-width="1.0"/>
<circle cx="253.1" cy="452.1" r="2.0" fill="none" stroke="#D55E00" stroke-width="1.0"/>
<circle cx="254.4" cy="451.8" r="2.0" fill="none" stroke="#D55E00" stroke-width="1.0"/>
<circle cx="255.6" cy="451.7" r="2.0" fill="none" stroke="#D55E00" stroke-width="1.0"/>
<circle cx="256.9" cy="451.9" r="2.0" fill="none" stroke="#D55E00" stroke-width="1.0"/>
<circle cx="258.1" cy="452.2" r="2.0" fill="none" stroke="#D55E00" stroke-width="1.0"/>
<circle cx="259.4" cy="452.2" r="2.0" fill="none" stroke="#D55E00" stroke-width="1.0"/>
<circle cx="260.6" cy="452.2" r="2.0" fill="none" stroke="#D55E00" stroke-width="1.0"/>
<circle cx="261.8" cy="452.1" r="2.0" fill="none" stroke="#D55E00" stroke-width="1.0"/>
<circle cx="263.1" cy="452.2" r="2.0" fill="none" stroke="#D55E00" stroke-width="1.0"/>
<circle cx="264.3" cy="452.2" r="2.0" fill="none" stroke="#D55E00" stroke-width="1.0"/>
<circle cx="265.6" cy="452.0" r="2.0" fill="none" stroke="#D55E00" stroke-width="1.0"/>
<circle cx="266.8" cy="451.9" r="2.0" fill="none" stroke="#D55E00" stroke-width="1.0"/>
<circle cx="268.1" cy="452.2" r="2.0" fill="none" stroke="#D55E00" stroke-width="1.0"/>
<circle cx="269.3" cy="451.8" r="2.0" fill="none" stroke="#D55E00" stroke-width="1.0"/>
<circle cx="270.6" cy="452.1" r="2.0" fill="none" stroke="#D55E00" stroke-width="1.0"/>
<circle cx="271.8" cy="451.9" r="2.0" fill="none" stroke="#D55E00" stroke-width="1.0"/>
<circle cx="273.0" cy="451.9" r="2.0" fill="none" stroke="#D55E00" stroke-width="1.0"/>
<circle cx="274.3" cy="451.9" r="2.0" fill="none" stroke="#D55E00" stroke-width="1.0"/>
<circle cx="275.5" cy="452.3" r="2.0" fill="none" stroke="#D55E00" stroke-width="1.0"/>
<circle cx="276.8" cy="452.2" r="2.0" fill="none" stroke="#D55E00" stroke-width="1.0"/>
<circle cx="278.0" cy="452.1" r="2.0" fill="none" stroke="#D55E00" stroke-width="1.0"/>
<circle cx="279.3" cy="451.9" r="2.0" fill="none" stroke="#D55E00" stroke-width="1.0"/>
<circle cx="280.5" cy="452.3" r="2.0" fill="none" stroke="#D55E00" stroke-width="1.0"/>
<circle cx="281.7" cy="452.3" r="2.0" fill="none" stroke="#D55E00" stroke-width="1.0"/>
<circle cx="283.0" cy="452.0" r="2.0" fill="none" stroke="#D55E00" stroke-width="1.0"/>
<circle cx="284.2" cy="452.4" r="2.0" fill="none" stroke="#D55E00" stroke-width="1.0"/>
<circle cx="285.5" cy="452.3" r="2.0" fill="none" stroke="#D55E00" stroke-width="1.0"/>
<circle cx="286.7" cy="452.3" r="2.0" fill="none" stroke="#D55E00" stroke-width="1.0"/>
<circle cx="288.0" cy="452.2" r="2.0" fill="none" stroke="#D55E00" stroke-width="1.0"/>
<circle cx="289.2" cy="452.1" r="2.0" fill="none" stroke="#D55E00" stroke-width="1.0"/>
<circle cx="290.4" cy="452.4" r="2.0" fill="none" stroke="#D55E00" stroke-width="1.0"/>
<circle cx="291.7" cy="452.2" r="2.0" fill="none" stroke="#D55E00" stroke-width="1.0"/>
<circle cx="292.9" cy="452.2" r="2.0" fill="none" stroke="#D55E00" stroke-width="1.0"/>
<circle cx="294.2" cy="452.2" r="2.0" fill="none" stroke="#D55E00" stroke-width="1.0"/>
<circle cx="295.4" cy="452.3" r="2.0" fill="none" stroke="#D55E00" stroke-width="1.0"/>
<circle cx="296.7" cy="452.2" r="2.0" fill="none" stroke="#D55E00" stroke-width="1.0"/>
<circle cx="297.9" cy="452.4" r="2.0" fill="none" stroke="#D55E00" stroke-width="1.0"/>
<circle cx="299.1" cy="452.4" r="2.0" fill="none" stroke="#D55E00" stroke-width="1.0"/>
<circle cx="300.4" cy="452.5" r="2.0" fill="none" stroke="#D55E00" stroke-width="1.0"/>
<circle cx="301.6" cy="452.3" r="2.0" fill="none" stroke="#D55E00" stroke-width="1.0"/>
<circle cx="302.9" cy="452.4" r="2.0" fill="none" stroke="#D55E00" stroke-width="1.0"/>
<circle cx="304.1" cy="452.6" r="2.0" fill="none" stroke="#D55E00" stroke-width="1.0"/>
<circle cx="305.4" cy="452.6" r="2.0" fill="none" stroke="#D55E00" stroke-width="1.0"/>
<circle cx="306.6" cy="452.4" r="2.0" fill="none" stroke="#D55E00" stroke-width="1.0"/>
<circle cx="307.8" cy="452.5" r="2.0" fill="none" stroke="#D55E00" stroke-width="1.0"/>
<circle cx="309.1" cy="452.4" r="2.0" fill="none" stroke="#D55E00" stroke-width="1.0"/>
<circle cx="310.3" cy="452.6" r="2.0" fill="none" stroke="#D55E00" stroke-width="1.0"/>
<circle cx="311.6" cy="452.6" r="2.0" fill="none" stroke="#D55E00" stroke-width="1.0"/>
<circle cx="312.8" cy="452.7" r="2.0" fill="none" stroke="#D55E00" stroke-width="1.0"/>
<circle cx="314.1" cy="452.5" r="2.0" fill="none" stroke="#D55E00" stroke-width="1.0"/>
<circle cx="315.3" cy="452.8" r="2.0" fill="none" stroke="#D55E00" stroke-width="1.0"/>
<circle cx="316.5" cy="452.6" r="2.0" fill="none" stroke="#D55E00" stroke-width="1.0"/>
<circle cx="317.8" cy="452.5" r="2.0" fill="none" stroke="#D55E00" stroke-width="1.0"/>
<circle cx="319.0" cy="452.6" r="2.0" fill="none" stroke="#D55E00" stroke-width="1.0"/>
<circle cx="320.3" cy="452.8" r="2.0" fill="none" stroke="#D55E00" stroke-width="1.0"/>
<circle cx="321.5" cy="452.8" r="2.0" fill="none" stroke="#D55E00" stroke-width="1.0"/>
<circle cx="322.8" cy="452.5" r="2.0" fill="none" stroke="#D55E00" stroke-width="1.0"/>
<circle cx="324.0" cy="452.7" r="2.0" fill="none" stroke="#D55E00" stroke-width="1.0"/>
<circle cx="325.2" cy="452.6" r="2.0" fill="none" stroke="#D55E00" stroke-width="1.0"/>
<circle cx="326.5" cy="452.6" r="2.0" fill="none" stroke="#D55E00" stroke-width="1.0"/>
<circle cx="327.7" cy="452.8" r="2.0" fill="none" stroke="#D55E00" stroke-width="1.0"/>
<circle cx="329.0" cy="452.6" r="2.0" fill="none" stroke="#D55E00" stroke-width="1.0"/>
<circle cx="330.2" cy="452.7" r="2.0" fill="none" stroke="#D55E00" stroke-width="1.0"/>
<circle cx="331.5" cy="452.9" r="2.0" fill="none" stroke="#D55E00" stroke-width="1.0"/>
<circle cx="332.7" cy="452.9" r="2.0" fill="none" stroke="#D55E00" stroke-width="1.0"/>
<rect x="84.4" y="413.5" width="248.20000000000002" height="65.89999999999998" fill="none" stroke="#444" stroke-width="0.8" />
<line x1="82.4" y1="479.2" x2="84.4" y2="479.2" stroke="#444" stroke-width="0.8" />
<text x="81.2" y="481.8" font-size="7.4" fill="#000" text-anchor="end" >0</text>
<line x1="82.4" y1="450.14" x2="84.4" y2="450.14" stroke="#444" stroke-width="0.8" />
<text x="81.2" y="452.74" font-size="7.4" fill="#000" text-anchor="end" >200</text>
<line x1="82.4" y1="421.08" x2="84.4" y2="421.08" stroke="#444" stroke-width="0.8" />
<text x="81.2" y="423.68" font-size="7.4" fill="#000" text-anchor="end" >400</text>
<line x1="83.4" y1="464.66999999999996" x2="84.4" y2="464.66999999999996" stroke="#444" stroke-width="0.8" />
<line x1="83.4" y1="435.61" x2="84.4" y2="435.61" stroke="#444" stroke-width="0.8" />
<line x1="332.6" y1="479.4" x2="334.6" y2="479.4" stroke="#444" stroke-width="0.8" />
<text x="335.5" y="482.0" font-size="7.4" fill="#000" text-anchor="start" >94</text>
<line x1="332.6" y1="457.5" x2="334.6" y2="457.5" stroke="#444" stroke-width="0.8" />
<text x="335.5" y="460.1" font-size="7.4" fill="#000" text-anchor="start" >96</text>
<line x1="332.6" y1="435.59999999999997" x2="334.6" y2="435.59999999999997" stroke="#444" stroke-width="0.8" />
<text x="335.5" y="438.2" font-size="7.4" fill="#000" text-anchor="start" >98</text>
<line x1="332.6" y1="413.7" x2="334.6" y2="413.7" stroke="#444" stroke-width="0.8" />
<text x="335.5" y="416.3" font-size="7.4" fill="#000" text-anchor="start" >100</text>
<line x1="332.6" y1="468.45" x2="333.6" y2="468.45" stroke="#444" stroke-width="0.8" />
<line x1="332.6" y1="446.54999999999995" x2="333.6" y2="446.54999999999995" stroke="#444" stroke-width="0.8" />
<line x1="332.6" y1="424.65" x2="333.6" y2="424.65" stroke="#444" stroke-width="0.8" />
<line x1="84.1" y1="479.4" x2="84.1" y2="481.4" stroke="#444" stroke-width="0.8" />
<line x1="208.4" y1="479.4" x2="208.4" y2="481.4" stroke="#444" stroke-width="0.8" />
<line x1="332.70000000000005" y1="479.4" x2="332.70000000000005" y2="481.4" stroke="#444" stroke-width="0.8" />
<line x1="146.25" y1="479.4" x2="146.25" y2="480.4" stroke="#444" stroke-width="0.8" />
<line x1="270.55" y1="479.4" x2="270.55" y2="480.4" stroke="#444" stroke-width="0.8" />
<text x="84.1" y="488.6" font-size="7.4" fill="#000" text-anchor="middle" >0</text>
<text x="208.4" y="488.6" font-size="7.4" fill="#000" text-anchor="middle" >100</text>
<text x="332.70000000000005" y="488.6" font-size="7.4" fill="#000" text-anchor="middle" >200</text>
<path d="M100.5,453 L103.9,453 L103.9,464.7 L90.7,464.7 L90.7,466.3 L85.5,462.4 L90.7,458.5 L90.7,461.8 L100.5,461.8 Z" stroke="none" stroke-width="1" fill="#000" />
<path d="M300.1,435.8 L303,435.8 L303,443.2 L312.8,443.2 L312.8,440.7 L319,444.5 L312.8,448.3 L312.8,446.1 L300.1,446.1 Z" stroke="none" stroke-width="1" fill="#000" />
<path d="M70.5,385.2 L74.3,385.2 L74.3,399.5 L58,399.5 L58,404.3 L48.2,398.1 L58,391.9 L58,396.7 L70.5,396.7 Z" stroke="none" stroke-width="1" fill="#000" />
<path d="M315.4,349.3 L320.7,349.3 L320.7,359.8 L333.7,359.8 L333.7,356.9 L341.7,362.6 L333.7,368.3 L333.7,364.4 L315.4,364.4 Z" stroke="none" stroke-width="1" fill="#000" />
<rect x="45.2" y="333.3" width="306.2" height="160.39999999999998" fill="none" stroke="#222" stroke-width="1.2" />
<line x1="41.7" y1="493.7" x2="45.2" y2="493.7" stroke="#222" stroke-width="1" />
<text x="39.4" y="498.8" font-size="12.1" fill="#000" text-anchor="end" >0</text>
<line x1="41.7" y1="465.13" x2="45.2" y2="465.13" stroke="#222" stroke-width="1" />
<text x="39.4" y="470.23" font-size="12.1" fill="#000" text-anchor="end" >50</text>
<line x1="41.7" y1="436.56" x2="45.2" y2="436.56" stroke="#222" stroke-width="1" />
<text x="39.4" y="441.66" font-size="12.1" fill="#000" text-anchor="end" >100</text>
<line x1="41.7" y1="407.99" x2="45.2" y2="407.99" stroke="#222" stroke-width="1" />
<text x="39.4" y="413.09000000000003" font-size="12.1" fill="#000" text-anchor="end" >150</text>
<line x1="41.7" y1="379.41999999999996" x2="45.2" y2="379.41999999999996" stroke="#222" stroke-width="1" />
<text x="39.4" y="384.52" font-size="12.1" fill="#000" text-anchor="end" >200</text>
<line x1="41.7" y1="350.85" x2="45.2" y2="350.85" stroke="#222" stroke-width="1" />
<text x="39.4" y="355.95000000000005" font-size="12.1" fill="#000" text-anchor="end" >250</text>
<line x1="43.2" y1="479.41499999999996" x2="45.2" y2="479.41499999999996" stroke="#222" stroke-width="1" />
<line x1="43.2" y1="450.84499999999997" x2="45.2" y2="450.84499999999997" stroke="#222" stroke-width="1" />
<line x1="43.2" y1="422.275" x2="45.2" y2="422.275" stroke="#222" stroke-width="1" />
<line x1="43.2" y1="393.705" x2="45.2" y2="393.705" stroke="#222" stroke-width="1" />
<line x1="43.2" y1="365.135" x2="45.2" y2="365.135" stroke="#222" stroke-width="1" />
<line x1="43.2" y1="336.56499999999994" x2="45.2" y2="336.56499999999994" stroke="#222" stroke-width="1" />
<line x1="351.4" y1="493.9" x2="354.9" y2="493.9" stroke="#222" stroke-width="1" />
<text x="357.6" y="498.2" font-size="12.1" fill="#000" text-anchor="start" >0</text>
<line x1="351.4" y1="463.2" x2="354.9" y2="463.2" stroke="#222" stroke-width="1" />
<text x="357.6" y="467.5" font-size="12.1" fill="#000" text-anchor="start" >20</text>
<line x1="351.4" y1="432.5" x2="354.9" y2="432.5" stroke="#222" stroke-width="1" />
<text x="357.6" y="436.8" font-size="12.1" fill="#000" text-anchor="start" >40</text>
<line x1="351.4" y1="401.79999999999995" x2="354.9" y2="401.79999999999995" stroke="#222" stroke-width="1" />
<text x="357.6" y="406.09999999999997" font-size="12.1" fill="#000" text-anchor="start" >60</text>
<line x1="351.4" y1="371.09999999999997" x2="354.9" y2="371.09999999999997" stroke="#222" stroke-width="1" />
<text x="357.6" y="375.4" font-size="12.1" fill="#000" text-anchor="start" >80</text>
<line x1="351.4" y1="340.4" x2="354.9" y2="340.4" stroke="#222" stroke-width="1" />
<text x="357.6" y="344.7" font-size="12.1" fill="#000" text-anchor="start" >100</text>
<line x1="351.4" y1="478.54999999999995" x2="353.4" y2="478.54999999999995" stroke="#222" stroke-width="1" />
<line x1="351.4" y1="447.84999999999997" x2="353.4" y2="447.84999999999997" stroke="#222" stroke-width="1" />
<line x1="351.4" y1="417.15" x2="353.4" y2="417.15" stroke="#222" stroke-width="1" />
<line x1="351.4" y1="386.45" x2="353.4" y2="386.45" stroke="#222" stroke-width="1" />
<line x1="351.4" y1="355.75" x2="353.4" y2="355.75" stroke="#222" stroke-width="1" />
<line x1="45.1" y1="493.7" x2="45.1" y2="497.2" stroke="#222" stroke-width="1" />
<text x="45.1" y="509.3" font-size="12.1" fill="#000" text-anchor="middle" >0</text>
<line x1="121.69999999999999" y1="493.7" x2="121.69999999999999" y2="497.2" stroke="#222" stroke-width="1" />
<text x="121.69999999999999" y="509.3" font-size="12.1" fill="#000" text-anchor="middle" >50</text>
<line x1="198.29999999999998" y1="493.7" x2="198.29999999999998" y2="497.2" stroke="#222" stroke-width="1" />
<text x="198.29999999999998" y="509.3" font-size="12.1" fill="#000" text-anchor="middle" >100</text>
<line x1="274.90000000000003" y1="493.7" x2="274.90000000000003" y2="497.2" stroke="#222" stroke-width="1" />
<text x="274.90000000000003" y="509.3" font-size="12.1" fill="#000" text-anchor="middle" >150</text>
<line x1="351.5" y1="493.7" x2="351.5" y2="497.2" stroke="#222" stroke-width="1" />
<text x="351.5" y="509.3" font-size="12.1" fill="#000" text-anchor="middle" >200</text>
<line x1="83.4" y1="493.7" x2="83.4" y2="495.7" stroke="#222" stroke-width="1" />
<line x1="160.0" y1="493.7" x2="160.0" y2="495.7" stroke="#222" stroke-width="1" />
<line x1="236.6" y1="493.7" x2="236.6" y2="495.7" stroke="#222" stroke-width="1" />
<line x1="313.20000000000005" y1="493.7" x2="313.20000000000005" y2="495.7" stroke="#222" stroke-width="1" />
<text x="198.2" y="522.6" font-size="12" fill="#000" text-anchor="middle" >Number of Cycles (–)</text>
<text x="0" y="0" font-size="11.9" text-anchor="middle" transform="translate(15.6,415.4) rotate(-90)">Specific Capacity (mAh g<tspan font-size="8" dy="2.6">MnO2</tspan><tspan font-size="7" dy="-6.6">−1</tspan><tspan dy="4">)</tspan></text>
<text x="0" y="0" font-size="11.9" text-anchor="middle" transform="translate(378.6,414.4) rotate(90)">Coulombic Efficiency (%)</text>
<circle cx="76" cy="325.5" r="4.6" fill="url(#gB)"/>
<circle cx="89.1" cy="325.5" r="4.1" fill="none" stroke="#0072B2" stroke-width="1.1"/>
<text x="96.6" y="328.9" font-size="10.5" fill="#000" text-anchor="start" >Relaxed State</text>
<circle cx="231.7" cy="325.5" r="4.6" fill="url(#gO)"/>
<circle cx="245.6" cy="325.5" r="4.1" fill="none" stroke="#D55E00" stroke-width="1.1"/>
<text x="250.8" y="328.9" font-size="10.5" fill="#000" text-anchor="start" >300% Elongation</text>
<text x="398.6" y="325" font-size="15.5" fill="#000" text-anchor="start" >h</text>
<path d="M446.8,477.4 L465.7,476.8 L484.7,478.6 L504,479.3 L523,480" stroke="#D55E00" stroke-width="1.6" fill="none" stroke-dasharray="3 6.5" stroke-dashoffset="-7"/>
<path d="M446.80,471.80 L452.13,475.67 L450.09,481.93 L443.51,481.93 L441.47,475.67 Z" fill="#fff" stroke="#D55E00" stroke-width="1.7"/>
<path d="M465.70,471.20 L471.03,475.07 L468.99,481.33 L462.41,481.33 L460.37,475.07 Z" fill="#fff" stroke="#D55E00" stroke-width="1.7"/>
<path d="M484.70,473.00 L490.03,476.87 L487.99,483.13 L481.41,483.13 L479.37,476.87 Z" fill="#fff" stroke="#D55E00" stroke-width="1.7"/>
<path d="M504.00,473.70 L509.33,477.57 L507.29,483.83 L500.71,483.83 L498.67,477.57 Z" fill="#fff" stroke="#D55E00" stroke-width="1.7"/>
<path d="M523.00,474.40 L528.33,478.27 L526.29,484.53 L519.71,484.53 L517.67,478.27 Z" fill="#fff" stroke="#D55E00" stroke-width="1.7"/>
<path d="M446.8,473.8 L454.8,475.3 L462.1,477.4 L469.4,478.9" stroke="#0072B2" stroke-width="1.6" fill="none" />
<path d="M441.3,473.8 L452.3,473.8 M446.8,468.3 L446.8,479.3" stroke="#0072B2" stroke-width="1.8"/>
<path d="M449.3,475.3 L460.3,475.3 M454.8,469.8 L454.8,480.8" stroke="#0072B2" stroke-width="1.8"/>
<path d="M456.6,477.4 L467.6,477.4 M462.1,471.9 L462.1,482.9" stroke="#0072B2" stroke-width="1.8"/>
<path d="M463.9,478.9 L474.9,478.9 M469.4,473.4 L469.4,484.4" stroke="#0072B2" stroke-width="1.8"/>
<line x1="455" y1="456.6" x2="500.5" y2="451.4" stroke="#F0E442" stroke-width="1.6" />
<path d="M446.80,451.90 L448.45,455.23 L452.13,455.77 L449.46,458.37 L450.09,462.03 L446.80,460.30 L443.51,462.03 L444.14,458.37 L441.47,455.77 L445.15,455.23 Z" fill="none" stroke="#F0E442" stroke-width="2.1"/>
<path d="M507.80,444.50 L509.45,447.83 L513.13,448.37 L510.46,450.97 L511.09,454.63 L507.80,452.90 L504.51,454.63 L505.14,450.97 L502.47,448.37 L506.15,447.83 Z" fill="none" stroke="#F0E442" stroke-width="2.1"/>
<path d="M446.9,408.42 L452.15,417.55 L441.65,417.55 Z" fill="none" stroke="#E69F00" stroke-width="1.7" />
<path d="M454.8,411.02 L460.05,420.15 L449.55,420.15 Z" fill="none" stroke="#E69F00" stroke-width="1.7" />
<path d="M469.2,414.52 L474.45,423.65 L463.95,423.65 Z" fill="none" stroke="#E69F00" stroke-width="1.7" />
<path d="M485.5,416.52 L490.75,425.65 L480.25,425.65 Z" fill="none" stroke="#E69F00" stroke-width="1.7" />
<path d="M447.1,435.98 L452.35,426.85 L441.85,426.85 Z" fill="none" stroke="#56B4E9" stroke-width="1.7"/>
<path d="M457.9,428.48 L463.15,419.35 L452.65,419.35 Z" fill="none" stroke="#56B4E9" stroke-width="1.7"/>
<path d="M461.3,418.98 L466.55,409.85 L456.05,409.85 Z" fill="none" stroke="#56B4E9" stroke-width="1.7"/>
<path d="M466.0,410.28 L471.25,401.15 L460.75,401.15 Z" fill="none" stroke="#56B4E9" stroke-width="1.7"/>
<path d="M446.5,439.3 L452.7,445.5 L446.5,451.7 L440.3,445.5 Z" fill="none" stroke="#009E73" stroke-width="1.7"/>
<path d="M454.3,433.40000000000003 L460.5,439.6 L454.3,445.8 L448.1,439.6 Z" fill="none" stroke="#009E73" stroke-width="1.7"/>
<path d="M462.0,441.2 L468.2,447.4 L462.0,453.59999999999997 L455.8,447.4 Z" fill="none" stroke="#009E73" stroke-width="1.7"/>
<path d="M469.4,437.0 L475.59999999999997,443.2 L469.4,449.4 L463.2,443.2 Z" fill="none" stroke="#009E73" stroke-width="1.7"/>
<path d="M477.4,421.40000000000003 L483.59999999999997,427.6 L477.4,433.8 L471.2,427.6 Z" fill="none" stroke="#009E73" stroke-width="1.7"/>
<path d="M484.9,403.7 L491.09999999999997,409.9 L484.9,416.09999999999997 L478.7,409.9 Z" fill="none" stroke="#009E73" stroke-width="1.7"/>
<path d="M441.6,416.3 L451.6,426.3 M441.6,426.3 L451.6,416.3" stroke="#CC79A7" stroke-width="1.8"/>
<path d="M449.2,421.0 L459.2,431.0 M449.2,431.0 L459.2,421.0" stroke="#CC79A7" stroke-width="1.8"/>
<path d="M457.4,429.0 L467.4,439.0 M457.4,439.0 L467.4,429.0" stroke="#CC79A7" stroke-width="1.8"/>
<path d="M464.8,433.6 L474.8,443.6 M464.8,443.6 L474.8,433.6" stroke="#CC79A7" stroke-width="1.8"/>
<path d="M472.4,438.6 L482.4,448.6 M472.4,448.6 L482.4,438.6" stroke="#CC79A7" stroke-width="1.8"/>
<path d="M440.86,369.9 L450.26,364.50 L450.26,375.30 Z" fill="none" stroke="#000" stroke-width="1.7"/>
<path d="M448.76,373.6 L458.16,368.20 L458.16,379.00 Z" fill="none" stroke="#000" stroke-width="1.7"/>
<path d="M456.66,361.3 L466.06,355.90 L466.06,366.70 Z" fill="none" stroke="#000" stroke-width="1.7"/>
<path d="M464.96,365.2 L474.36,359.80 L474.36,370.60 Z" fill="none" stroke="#000" stroke-width="1.7"/>
<path d="M472.66,365.0 L482.06,359.60 L482.06,370.40 Z" fill="none" stroke="#000" stroke-width="1.7"/>
<path d="M479.76,369.8 L489.16,364.40 L489.16,375.20 Z" fill="none" stroke="#000" stroke-width="1.7"/>
<line x1="455" y1="348.6" x2="670.5" y2="345.9" stroke="#8E0E8E" stroke-width="1.7" />
<circle cx="446.8" cy="349.1" r="4.2" fill="none" stroke="#8E0E8E" stroke-width="1.8"/>
<circle cx="674.8" cy="345.8" r="4.2" fill="none" stroke="#8E0E8E" stroke-width="1.8"/>
<rect x="439.3" y="333.4" width="243.99999999999994" height="160.8" fill="none" stroke="#444" stroke-width="1" />
<line x1="435.8" y1="494.3" x2="439.3" y2="494.3" stroke="#444" stroke-width="1" />
<text x="434.6" y="498.40000000000003" font-size="11.6" fill="#000" text-anchor="end" >0.0</text>
<line x1="435.8" y1="454.07" x2="439.3" y2="454.07" stroke="#444" stroke-width="1" />
<text x="434.6" y="458.17" font-size="11.6" fill="#000" text-anchor="end" >0.1</text>
<line x1="435.8" y1="413.84000000000003" x2="439.3" y2="413.84000000000003" stroke="#444" stroke-width="1" />
<text x="434.6" y="417.94000000000005" font-size="11.6" fill="#000" text-anchor="end" >0.2</text>
<line x1="435.8" y1="373.61" x2="439.3" y2="373.61" stroke="#444" stroke-width="1" />
<text x="434.6" y="377.71000000000004" font-size="11.6" fill="#000" text-anchor="end" >0.3</text>
<line x1="435.8" y1="333.38" x2="439.3" y2="333.38" stroke="#444" stroke-width="1" />
<text x="434.6" y="337.48" font-size="11.6" fill="#000" text-anchor="end" >0.4</text>
<line x1="437.3" y1="474.185" x2="439.3" y2="474.185" stroke="#444" stroke-width="1" />
<line x1="437.3" y1="433.95500000000004" x2="439.3" y2="433.95500000000004" stroke="#444" stroke-width="1" />
<line x1="437.3" y1="393.725" x2="439.3" y2="393.725" stroke="#444" stroke-width="1" />
<line x1="437.3" y1="353.495" x2="439.3" y2="353.495" stroke="#444" stroke-width="1" />
<line x1="446.7" y1="494.2" x2="446.7" y2="497.7" stroke="#444" stroke-width="1" />
<text x="446.7" y="509.1" font-size="11.6" fill="#000" text-anchor="middle" >0</text>
<line x1="523.0" y1="494.2" x2="523.0" y2="497.7" stroke="#444" stroke-width="1" />
<text x="523.0" y="509.1" font-size="11.6" fill="#000" text-anchor="middle" >100</text>
<line x1="599.3" y1="494.2" x2="599.3" y2="497.7" stroke="#444" stroke-width="1" />
<text x="599.3" y="509.1" font-size="11.6" fill="#000" text-anchor="middle" >200</text>
<line x1="675.6" y1="494.2" x2="675.6" y2="497.7" stroke="#444" stroke-width="1" />
<text x="675.6" y="509.1" font-size="11.6" fill="#000" text-anchor="middle" >300</text>
<line x1="484.84999999999997" y1="494.2" x2="484.84999999999997" y2="496.2" stroke="#444" stroke-width="1" />
<line x1="561.15" y1="494.2" x2="561.15" y2="496.2" stroke="#444" stroke-width="1" />
<line x1="637.45" y1="494.2" x2="637.45" y2="496.2" stroke="#444" stroke-width="1" />
<text x="561.2" y="522.4" font-size="11.9" fill="#000" text-anchor="middle" >Uniaxial Elongation (%)</text>
<text x="0" y="0" font-size="11.9" text-anchor="middle" transform="translate(413.4,411.9) rotate(-90)">Areal Capacity (mAh cm<tspan font-size="8" dy="-4">−2</tspan><tspan dy="4">)</tspan></text>
<line x1="546.3" y1="361.7" x2="549.9" y2="361.7" stroke="#8E0E8E" stroke-width="1.6" />
<line x1="564.2" y1="361.7" x2="567.8" y2="361.7" stroke="#8E0E8E" stroke-width="1.6" />
<circle cx="557.2" cy="361.7" r="3.8" fill="none" stroke="#8E0E8E" stroke-width="1.7"/>
<text x="576.3" y="365.0" font-size="9.2" fill="#8E0E8E" text-anchor="start" >Zn||MnO<tspan font-size="6" dy="2">2</tspan></text>
<text x="631.6" y="365.0" font-size="9.2" fill="#8E0E8E" text-anchor="start" >(This Work)</text>
<line x1="546.3" y1="377.1" x2="549.9" y2="377.1" stroke="#E69F00" stroke-width="1.6" />
<line x1="564.2" y1="377.1" x2="567.8" y2="377.1" stroke="#E69F00" stroke-width="1.6" />
<path d="M557.2,372.64 L561.95,380.91 L552.45,380.91 Z" fill="none" stroke="#E69F00" stroke-width="1.7" />
<text x="576.3" y="380.40000000000003" font-size="9.2" fill="#E69F00" text-anchor="start" >Zn||V-MXene</text>
<text x="631.6" y="380.40000000000003" font-size="9.2" fill="#E69F00" text-anchor="start" >(23)</text>
<line x1="546.3" y1="392.7" x2="549.9" y2="392.7" stroke="#56B4E9" stroke-width="1.6" />
<line x1="564.2" y1="392.7" x2="567.8" y2="392.7" stroke="#56B4E9" stroke-width="1.6" />
<path d="M557.2,397.16 L561.95,388.89 L552.45,388.89 Z" fill="none" stroke="#56B4E9" stroke-width="1.7"/>
<text x="576.3" y="396.0" font-size="9.2" fill="#56B4E9" text-anchor="start" >Zn||MnO<tspan font-size="6" dy="2">2</tspan></text>
<text x="631.6" y="396.0" font-size="9.2" fill="#56B4E9" text-anchor="start" >(65)</text>
<line x1="546.3" y1="408.1" x2="549.9" y2="408.1" stroke="#009E73" stroke-width="1.6" />
<line x1="564.2" y1="408.1" x2="567.8" y2="408.1" stroke="#009E73" stroke-width="1.6" />
<path d="M557.2,402.5 L562.8000000000001,408.1 L557.2,413.70000000000005 L551.6,408.1 Z" fill="none" stroke="#009E73" stroke-width="1.7"/>
<text x="576.3" y="411.40000000000003" font-size="9.2" fill="#009E73" text-anchor="start" >Zn||MnO<tspan font-size="6" dy="2">2</tspan></text>
<text x="631.6" y="411.40000000000003" font-size="9.2" fill="#009E73" text-anchor="start" >(83)</text>
<line x1="546.3" y1="423.4" x2="549.9" y2="423.4" stroke="#F0E442" stroke-width="1.6" />
<line x1="564.2" y1="423.4" x2="567.8" y2="423.4" stroke="#F0E442" stroke-width="1.6" />
<path d="M557.20,418.70 L558.67,421.68 L561.96,422.15 L559.58,424.47 L560.14,427.75 L557.20,426.20 L554.26,427.75 L554.82,424.47 L552.44,422.15 L555.73,421.68 Z" fill="none" stroke="#F0E442" stroke-width="2.1"/>
<text x="576.3" y="426.7" font-size="9.2" fill="#F0E442" text-anchor="start" >Zn||Ag</text>
<text x="631.6" y="426.7" font-size="9.2" fill="#F0E442" text-anchor="start" >(84)</text>
<line x1="546.3" y1="438.8" x2="549.9" y2="438.8" stroke="#000" stroke-width="1.6" />
<line x1="564.2" y1="438.8" x2="567.8" y2="438.8" stroke="#000" stroke-width="1.6" />
<path d="M552.24,438.8 L560.51,434.05 L560.51,443.55 Z" fill="none" stroke="#000" stroke-width="1.7"/>
<text x="576.3" y="442.1" font-size="9.2" fill="#000" text-anchor="start" >Zn||Ni-Co</text>
<text x="631.6" y="442.1" font-size="9.2" fill="#000" text-anchor="start" >(85)</text>
<line x1="546.3" y1="454.2" x2="549.9" y2="454.2" stroke="#CC79A7" stroke-width="1.6" />
<line x1="564.2" y1="454.2" x2="567.8" y2="454.2" stroke="#CC79A7" stroke-width="1.6" />
<path d="M552.7,449.7 L561.7,458.7 M552.7,458.7 L561.7,449.7" stroke="#CC79A7" stroke-width="1.8"/>
<text x="576.3" y="457.5" font-size="9.2" fill="#CC79A7" text-anchor="start" >Zn||PANI</text>
<text x="631.6" y="457.5" font-size="9.2" fill="#CC79A7" text-anchor="start" >(86)</text>
<line x1="546.3" y1="469.8" x2="549.9" y2="469.8" stroke="#D55E00" stroke-width="1.6" />
<line x1="564.2" y1="469.8" x2="567.8" y2="469.8" stroke="#D55E00" stroke-width="1.6" />
<path d="M557.20,464.60 L562.15,468.19 L560.26,474.01 L554.14,474.01 L552.25,468.19 Z" fill="none" stroke="#D55E00" stroke-width="1.7"/>
<text x="576.3" y="473.1" font-size="9.2" fill="#D55E00" text-anchor="start" >AC||LMO</text>
<text x="631.6" y="473.1" font-size="9.2" fill="#D55E00" text-anchor="start" >(87)</text>
<line x1="546.3" y1="485.2" x2="549.9" y2="485.2" stroke="#0072B2" stroke-width="1.6" />
<line x1="564.2" y1="485.2" x2="567.8" y2="485.2" stroke="#0072B2" stroke-width="1.6" />
<path d="M552.2,485.2 L562.2,485.2 M557.2,480.2 L557.2,490.2" stroke="#0072B2" stroke-width="1.8"/>
<text x="576.3" y="488.5" font-size="9.2" fill="#0072B2" text-anchor="start" >PI||LMO</text>
<text x="631.6" y="488.5" font-size="9.2" fill="#0072B2" text-anchor="start" >(88)</text>
</svg>
</body></html>
